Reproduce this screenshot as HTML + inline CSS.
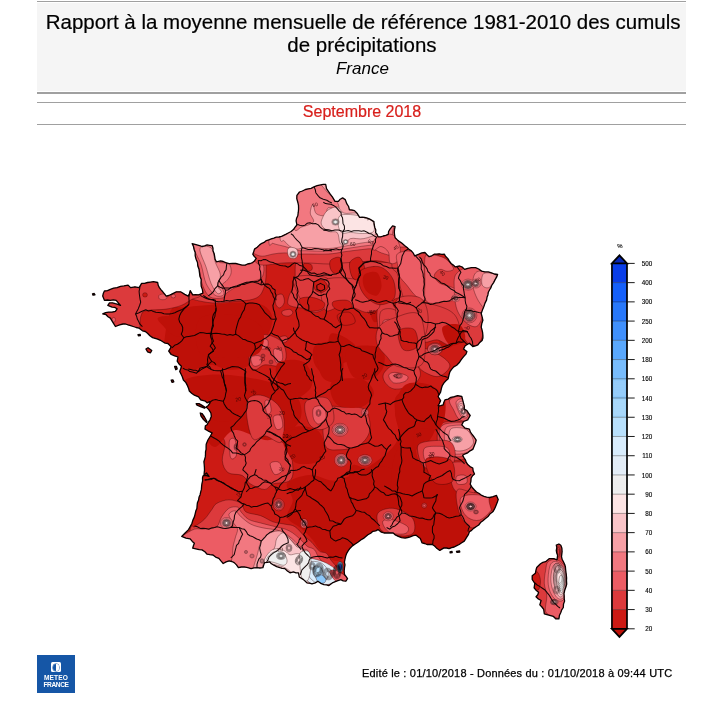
<!DOCTYPE html>
<html lang="fr"><head><meta charset="utf-8"><title>Rapport à la moyenne mensuelle de référence 1981-2010 des cumuls de précipitations</title>
<style>
html,body{margin:0;padding:0;background:#fff;}
body{width:724px;height:709px;position:relative;overflow:hidden;font-family:"Liberation Sans",Arial,sans-serif;color:#000;}
#hdr{position:absolute;left:37px;top:3px;width:648.8px;height:88px;background:#f5f5f5;text-align:center;padding-left:3.4px;box-sizing:border-box;}
#hdr .t{font-size:20.5px;line-height:23px;padding-top:6.5px;-webkit-text-stroke:0.2px #000;}
#hdr .s{font-size:17px;font-style:italic;line-height:20px;margin-top:3.1px;position:relative;left:-0.7px;}
.ln{position:absolute;left:37px;width:649.4px;height:1.2px;background:#a0a0a0;}
#date{position:absolute;left:37px;top:103px;width:650px;height:21px;text-align:center;color:#d8201c;font-size:16px;line-height:19px;}
#date span{position:relative;top:-0.9px;-webkit-text-stroke:0.2px #d8201c;}
#foot{position:absolute;left:362px;top:666px;font-size:11px;line-height:14px;white-space:nowrap;color:#000;letter-spacing:0.18px;-webkit-text-stroke:0.25px #000;}
#logo{position:absolute;left:37px;top:655px;width:38px;height:38px;background:#1556a6;}
#logo .ic{position:absolute;left:14px;top:7px;width:10px;height:10px;background:#fff;border-radius:1.5px;}
#logo .ic i{position:absolute;left:2px;top:1.5px;width:6.4px;height:7px;border-radius:50%;background:linear-gradient(90deg,#1556a6 50%,#fff 50%);box-shadow:0 0 0 0.5px #1556a6;}
#logo .tx{position:absolute;left:0;width:38px;text-align:center;color:#fff;font-weight:bold;font-size:6.6px;line-height:6.6px;letter-spacing:0.2px;}
svg{position:absolute;left:0;top:0;}
.lg text{font-size:6.3px;fill:#000;stroke:#000;stroke-width:0.12px;}
</style></head><body>
<div id="hdr"><div class="t">Rapport à la moyenne mensuelle de référence 1981-2010 des cumuls<br><span style="position:relative;left:-1.2px">de précipitations</span></div><div class="s">France</div></div>
<div class="ln" style="top:0.8px;height:1.2px"></div><div class="ln" style="top:92.1px;height:1.6px"></div><div class="ln" style="top:101.7px"></div><div class="ln" style="top:123.8px"></div>
<div id="date"><span>Septembre 2018</span></div>

<svg width="724" height="709" viewBox="0 0 724 709">
<defs><clipPath id="fr"><path d="M325.7,184.4 L326.5,188.6 L328.2,191.1 L329.9,193.7 L332.5,197.1 L335.0,201.3 L338.4,201.3 L340.2,199.2 L342.6,197.9 L345.2,199.6 L346.9,203.9 L348.6,206.5 L349.4,209.8 L351.8,210.0 L354.5,210.6 L357.0,213.2 L359.6,217.4 L362.2,217.2 L364.6,217.4 L367.3,218.1 L369.7,219.1 L373.9,221.6 L374.2,224.7 L374.8,227.5 L375.8,229.9 L375.6,232.6 L377.1,234.5 L378.2,236.9 L380.7,236.8 L383.2,236.0 L385.8,235.3 L388.3,234.3 L388.6,231.5 L390.0,229.2 L392.6,225.9 L395.1,226.7 L394.5,229.6 L394.3,232.6 L394.6,235.1 L395.1,237.7 L397.4,239.9 L400.0,241.9 L402.0,243.2 L404.5,245.5 L407.1,247.4 L409.0,249.4 L411.3,250.8 L413.3,253.2 L414.7,255.9 L418.9,254.2 L421.8,252.9 L424.9,252.5 L427.0,254.7 L429.1,256.7 L431.8,255.8 L434.2,254.2 L436.7,254.1 L439.2,253.8 L441.9,254.3 L444.3,254.2 L445.7,256.5 L447.7,258.4 L449.4,261.1 L451.1,263.5 L453.3,265.1 L455.3,266.9 L459.6,266.0 L462.4,267.2 L464.6,269.4 L467.8,268.3 L471.4,267.7 L475.6,267.7 L478.7,269.0 L481.6,271.1 L484.8,271.9 L488.3,271.9 L491.5,272.9 L494.3,274.0 L497.6,274.5 L496.6,277.2 L495.1,279.6 L493.6,282.6 L491.7,285.5 L490.8,287.9 L489.5,290.0 L488.3,292.2 L487.9,294.9 L487.0,297.3 L486.6,299.9 L484.9,303.4 L483.8,306.8 L482.4,310.1 L481.2,313.5 L482.1,316.8 L482.9,320.3 L481.8,323.5 L481.2,327.1 L482.0,329.8 L482.6,332.5 L482.9,335.5 L482.9,338.0 L482.1,340.6 L479.8,342.4 L477.9,344.9 L475.4,345.9 L472.8,346.5 L469.4,343.2 L465.2,345.7 L463.5,349.1 L466.9,351.6 L466.0,354.1 L464.3,355.9 L462.6,357.9 L460.9,360.1 L459.1,362.8 L456.7,365.2 L453.8,366.9 L451.6,369.4 L450.0,371.6 L449.1,374.5 L448.2,378.7 L445.9,380.8 L444.0,382.9 L442.4,385.3 L441.5,388.0 L440.6,392.2 L438.1,396.5 L440.6,400.7 L439.5,403.3 L438.1,405.8 L440.7,405.7 L443.2,404.9 L443.8,402.4 L444.9,399.9 L448.2,399.1 L450.8,397.3 L454.3,396.7 L457.6,395.6 L461.8,396.5 L462.6,399.7 L463.5,403.2 L464.3,406.1 L464.3,409.2 L466.9,410.5 L468.5,413.1 L470.2,415.5 L467.7,419.8 L463.5,421.5 L461.8,424.9 L465.2,428.2 L469.4,429.1 L470.4,432.0 L471.9,434.2 L474.1,437.0 L476.2,440.1 L475.5,442.8 L474.5,445.2 L472.8,449.4 L470.1,450.8 L467.7,452.8 L465.2,453.8 L462.6,455.3 L463.9,457.6 L465.2,459.6 L466.2,462.1 L467.7,464.6 L470.0,466.6 L472.8,468.0 L473.2,471.1 L474.5,473.9 L472.5,475.7 L471.1,478.2 L470.9,481.3 L470.2,484.1 L472.0,487.3 L474.5,490.0 L476.5,492.0 L478.8,493.3 L481.2,495.1 L484.0,496.4 L486.7,497.2 L489.7,497.5 L493.1,496.7 L496.5,495.4 L498.2,499.6 L497.0,503.1 L495.6,506.4 L494.5,508.9 L493.1,511.5 L490.2,513.7 L488.0,516.5 L485.5,518.6 L482.9,520.8 L480.5,522.6 L478.7,525.0 L476.0,526.7 L473.6,528.4 L471.6,530.4 L469.4,531.8 L468.4,534.6 L466.9,536.9 L464.3,541.1 L461.7,542.8 L459.2,544.5 L456.8,545.6 L454.2,547.0 L451.6,547.7 L449.1,548.7 L446.6,548.0 L444.0,547.9 L439.8,550.4 L436.4,547.9 L434.6,546.0 L432.2,544.5 L429.7,544.4 L427.1,544.5 L424.6,543.5 L422.0,542.8 L420.3,538.6 L418.3,537.0 L416.1,535.2 L413.2,535.6 L410.2,536.9 L407.8,537.5 L405.1,538.1 L401.5,537.6 L398.3,536.4 L395.4,534.9 L393.2,533.0 L389.9,532.9 L386.5,533.0 L384.0,533.0 L381.4,532.2 L378.0,529.6 L375.7,530.9 L372.9,531.3 L370.7,533.2 L367.9,534.7 L365.8,536.5 L363.5,538.4 L361.1,539.8 L358.2,542.0 L355.2,544.0 L352.4,545.9 L350.1,548.2 L348.3,550.7 L346.7,553.3 L345.7,556.1 L345.0,559.2 L344.4,562.1 L345.0,564.8 L344.5,567.7 L344.2,571.0 L344.5,574.5 L346.2,576.7 L347.5,578.7 L345.9,581.2 L343.2,580.8 L340.8,579.6 L336.5,581.2 L332.3,582.9 L328.9,585.5 L326.5,584.9 L323.9,584.6 L320.7,583.3 L317.9,581.2 L315.3,582.9 L312.0,583.8 L309.4,583.2 L306.9,582.9 L303.5,579.6 L299.3,577.0 L298.5,572.8 L296.0,572.8 L293.4,571.9 L290.0,572.8 L287.4,571.0 L284.9,568.6 L282.2,568.4 L279.9,567.7 L276.7,566.6 L273.9,565.2 L271.4,563.8 L269.7,561.8 L267.3,562.3 L264.6,562.6 L263.7,565.1 L262.9,567.7 L259.9,568.0 L257.0,567.7 L254.0,567.8 L251.1,568.6 L247.8,567.7 L244.3,566.9 L241.3,567.0 L238.4,567.7 L236.5,564.9 L234.2,562.6 L231.9,561.5 L229.1,560.9 L226.1,561.9 L223.2,563.5 L220.9,560.9 L218.9,558.4 L215.6,557.1 L213.0,555.0 L209.9,554.7 L207.1,554.2 L204.9,551.8 L202.0,549.9 L199.3,549.7 L196.9,549.1 L192.7,548.2 L193.4,545.7 L194.4,543.2 L192.3,541.4 L190.2,538.9 L185.9,538.1 L181.7,536.4 L185.1,533.0 L188.5,529.6 L190.1,526.8 L191.8,523.7 L192.9,520.1 L194.4,516.9 L195.1,514.1 L195.8,511.1 L196.9,508.5 L197.1,505.6 L197.4,502.7 L198.6,500.0 L199.0,497.3 L200.1,494.7 L200.7,491.9 L201.4,489.4 L201.6,486.5 L201.9,483.8 L202.6,480.9 L202.5,478.0 L203.0,476.0 L206.5,473.0 L209.0,476.5 L206.5,475.7 L204.0,475.5 L204.2,472.8 L204.5,470.1 L204.4,467.2 L204.2,464.5 L203.9,461.8 L204.6,459.4 L205.3,456.9 L205.5,454.3 L205.5,451.9 L206.1,449.3 L206.1,446.8 L206.2,444.2 L207.9,440.0 L210.5,435.8 L212.1,432.9 L207.9,430.8 L205.0,429.1 L205.4,425.7 L207.1,424.8 L208.3,422.3 L210.0,419.8 L211.3,416.4 L210.9,413.0 L208.8,409.6 L206.2,407.1 L208.3,405.4 L210.0,402.8 L209.6,401.6 L207.1,402.8 L205.4,401.2 L200.7,399.9 L198.6,396.9 L194.4,395.2 L191.6,393.2 L189.3,391.0 L188.6,388.4 L187.6,385.9 L185.9,382.6 L183.4,380.0 L182.2,376.5 L181.0,374.0 L179.7,371.4 L180.7,368.8 L181.4,366.3 L179.0,364.0 L177.2,361.2 L178.0,357.0 L174.6,355.8 L171.2,354.5 L168.7,351.1 L171.2,346.9 L167.9,343.5 L165.1,343.1 L162.8,341.8 L160.4,340.3 L157.7,339.2 L155.1,338.4 L152.6,337.6 L149.9,335.7 L147.5,333.3 L145.3,331.5 L142.5,330.8 L139.1,328.2 L136.2,327.5 L133.2,326.5 L130.6,325.7 L128.1,324.9 L125.5,324.0 L123.0,324.0 L119.6,324.9 L115.4,326.5 L112.9,322.3 L110.3,318.1 L108.0,316.8 L106.1,314.7 L102.7,313.9 L105.6,312.7 L108.6,312.2 L112.1,312.1 L115.4,311.3 L117.1,308.8 L114.7,307.4 L112.0,307.1 L107.8,305.4 L109.5,302.9 L112.5,302.8 L115.4,303.7 L117.9,304.3 L120.5,305.4 L118.3,302.8 L116.2,300.3 L113.4,299.9 L110.3,300.3 L107.4,300.0 L104.4,300.3 L102.7,296.1 L103.3,293.5 L104.4,291.0 L107.5,290.6 L110.3,289.3 L113.6,288.2 L117.1,287.6 L120.5,286.3 L123.9,285.9 L128.1,285.1 L130.6,287.6 L134.9,286.8 L139.1,287.6 L141.6,283.4 L144.5,283.3 L147.5,282.5 L150.4,282.1 L153.5,281.7 L157.7,282.5 L158.2,285.3 L159.4,287.6 L161.1,289.9 L162.8,291.8 L164.5,293.8 L166.2,296.1 L168.8,295.5 L171.2,294.4 L173.8,293.1 L176.3,291.8 L180.6,291.8 L184.8,294.4 L188.2,296.1 L189.5,293.5 L190.2,290.6 L192.7,294.8 L195.6,294.7 L198.6,294.8 L202.9,293.1 L202.4,289.6 L201.2,286.3 L201.0,282.9 L201.2,279.6 L199.9,276.2 L199.5,272.8 L199.0,269.2 L197.8,266.0 L197.5,262.5 L196.1,259.2 L195.2,255.8 L195.2,252.5 L194.1,249.5 L193.5,246.5 L192.2,243.7 L196.9,244.9 L199.5,245.6 L202.0,246.5 L204.6,245.9 L207.1,244.9 L209.6,245.3 L212.2,245.7 L213.0,248.3 L213.0,250.8 L214.2,253.7 L214.7,256.7 L215.1,259.3 L216.4,261.8 L220.6,260.9 L223.2,261.5 L225.7,262.6 L229.1,263.6 L232.5,263.5 L235.8,263.5 L239.2,264.3 L242.1,265.2 L245.2,265.2 L247.5,264.0 L250.2,263.5 L252.6,262.6 L254.5,260.9 L256.2,258.4 L254.2,256.4 L252.8,254.2 L253.7,251.8 L254.5,249.1 L257.2,247.3 L259.6,244.9 L261.8,243.3 L264.1,242.4 L266.3,240.6 L268.8,239.8 L271.3,238.8 L273.9,238.1 L276.3,237.2 L279.0,237.0 L281.6,236.4 L283.7,235.3 L286.2,234.1 L288.3,233.0 L291.1,231.5 L293.4,229.6 L295.1,227.2 L296.9,225.0 L296.1,220.8 L296.6,218.2 L297.8,215.7 L298.3,212.2 L298.6,208.9 L298.5,205.4 L297.8,202.2 L296.8,198.8 L296.9,195.4 L299.5,192.0 L302.4,191.0 L305.4,189.5 L308.3,188.8 L311.1,188.3 L313.9,186.9 L317.1,185.7 L320.6,184.9 L323.3,184.4Z"/><path d="M556.3,545.2 L558.9,544.0 L560.8,545.2 L561.9,548.2 L562.1,551.6 L561.8,554.1 L561.5,556.7 L562.1,559.2 L563.4,561.7 L564.6,564.3 L565.4,566.7 L565.6,569.3 L565.9,571.9 L566.3,574.8 L566.6,578.0 L566.5,580.8 L566.7,584.0 L565.9,587.1 L564.7,590.3 L564.0,593.5 L564.2,596.2 L564.2,598.4 L564.6,601.1 L563.5,604.1 L563.3,607.5 L561.7,609.9 L560.8,612.5 L559.4,615.5 L558.9,618.9 L555.7,618.9 L553.2,616.3 L548.7,615.1 L544.3,613.8 L543.7,609.4 L541.9,607.0 L539.8,604.9 L541.1,600.5 L538.4,599.0 L536.0,596.7 L537.8,594.7 L538.6,592.2 L536.0,590.2 L534.1,587.8 L534.8,583.3 L532.2,579.5 L532.2,575.7 L535.4,573.2 L535.9,570.5 L536.7,567.5 L538.7,565.5 L540.5,563.7 L542.8,562.4 L545.6,561.7 L549.4,558.6 L553.8,558.6 L557.0,559.8 L557.6,555.4 L556.7,552.9 L556.3,550.3 L556.8,547.7Z"/><path d="M196.1,403.7 L199.0,403.6 L202.5,405.6 L205.4,407.5 L204.5,408.2 L200.5,406.6 L197.0,405.2Z"/><path d="M200.3,413.0 L202.0,413.5 L204.5,417.0 L207.0,421.5 L206.6,422.5 L203.5,419.5 L201.0,416.0Z"/><path d="M145.9,349.0 L148.0,347.7 L151.8,350.5 L150.5,352.8 L147.5,351.8Z"/><path d="M174.6,366.5 L176.4,366.3 L177.2,369.0 L175.8,369.7Z"/><path d="M171.2,380.2 L173.0,379.9 L173.8,381.8 L172.0,382.4Z"/><path d="M92.5,293.8 L94.2,293.5 L95.0,294.8 L93.0,295.2Z"/><path d="M138.0,334.6 L140.2,334.4 L140.4,335.6 L138.4,335.8Z"/><path d="M450.0,551.8 L452.0,551.4 L452.2,552.6 L450.2,552.9Z"/><path d="M456.5,551.4 L459.5,550.8 L459.8,552.0 L457.0,552.4Z"/></clipPath>
<filter id="b1" x="-20%" y="-20%" width="140%" height="140%"><feGaussianBlur stdDeviation="0.8"/></filter>
<filter id="b2" x="-20%" y="-20%" width="140%" height="140%"><feGaussianBlur stdDeviation="1.6"/></filter>
<pattern id="dots" width="1.6" height="1.6" patternUnits="userSpaceOnUse"><circle cx="0.8" cy="0.8" r="0.32" fill="#fff" fill-opacity="0.75"/></pattern>
<pattern id="dots2" width="1.6" height="1.6" patternUnits="userSpaceOnUse"><circle cx="0.8" cy="0.8" r="0.3" fill="#c8d0d8" fill-opacity="0.7"/></pattern>
</defs>
<g clip-path="url(#fr)">
<rect x="90" y="175" width="490" height="450" fill="#cc1a14"/>
<path d="M297.8,259.1 C293.4,262.6 296.2,275.9 294.7,282.4 C293.1,288.9 289.2,294.0 288.4,297.9 C287.7,301.8 286.6,304.0 290.0,305.7 C293.4,307.3 302.4,308.5 308.6,307.8 C314.8,307.2 322.1,301.2 327.2,301.6 C332.4,302.1 334.5,309.8 339.6,310.3 C344.8,310.8 352.1,303.7 358.3,304.7 C364.5,305.8 370.7,315.5 376.9,316.5 C383.1,317.6 389.3,310.8 395.5,310.9 C401.7,311.0 408.4,317.0 414.1,317.2 C419.8,317.3 425.5,315.1 429.6,311.9 C433.8,308.7 439.5,302.8 438.9,297.9 C438.4,293.0 430.7,286.5 426.5,282.4 C422.4,278.3 418.8,276.2 414.1,273.1 C409.5,270.0 408.9,265.7 398.6,263.8 C388.3,261.8 365.0,261.7 352.1,261.3 C339.1,260.9 330.1,261.7 321.0,261.3 C312.0,260.9 302.2,255.6 297.8,259.1Z" fill="#dc3a3c" stroke="#2a0303" stroke-width="0.5" stroke-opacity="0.7"/>
<path d="M350.0,470.0 C353.1,457.6 360.9,471.5 368.6,466.9 C376.4,462.2 391.4,451.4 396.5,442.1 C401.7,432.8 397.1,418.3 399.6,411.0 C402.2,403.8 406.4,400.7 412.1,398.6 C417.7,396.5 429.1,396.0 433.8,398.6 C438.4,401.2 440.5,409.5 440.0,414.1 C439.5,418.8 434.3,423.4 430.7,426.5 C427.1,429.6 420.6,428.1 418.3,432.8 C415.9,437.4 415.7,449.3 416.7,454.5 C417.7,459.6 418.5,462.7 424.5,463.8 C430.4,464.8 447.2,457.6 452.4,460.7 C457.6,463.8 454.0,476.2 455.5,482.4 C457.1,488.6 459.6,490.7 461.7,497.9 C463.8,505.2 468.9,517.6 467.9,525.8 C466.9,534.1 461.7,543.7 455.5,547.6 C449.3,551.4 437.9,551.2 430.7,549.1 C423.4,547.0 418.3,540.1 412.1,535.1 C405.9,530.2 399.1,522.7 393.4,519.6 C387.8,516.5 382.1,515.0 377.9,516.5 C373.8,518.1 373.3,524.8 368.6,528.9 C364.0,533.1 353.1,551.2 350.0,541.4 C346.9,531.5 346.9,482.4 350.0,470.0Z" fill="#be1008"/>
<path d="M170.0,312.4 C173.3,303.6 178.3,308.6 185.0,307.4 C191.6,306.1 201.2,305.7 210.0,304.9 C218.7,304.1 228.7,302.4 237.4,302.4 C246.2,302.4 256.6,302.4 262.4,304.9 C268.2,307.4 271.5,312.4 272.4,317.4 C273.2,322.4 270.7,329.9 267.4,334.8 C264.0,339.8 255.3,342.3 252.4,347.3 C249.5,352.3 253.6,361.1 249.9,364.8 C246.2,368.5 236.6,369.8 229.9,369.8 C223.3,369.8 216.6,364.8 210.0,364.8 C203.3,364.8 197.5,370.6 190.0,369.8 C182.5,369.0 168.4,369.4 165.0,359.8 C161.7,350.2 166.7,321.1 170.0,312.4Z" fill="#be1008"/>
<path d="M187.5,240.0 C195.0,233.7 209.5,239.2 217.4,242.5 C225.3,245.8 227.4,257.5 234.9,260.0 C242.4,262.5 257.2,255.4 262.4,257.5 C267.6,259.5 265.9,267.2 266.1,272.4 C266.3,277.6 265.5,284.3 263.6,288.7 C261.8,293.0 260.5,296.4 254.9,298.6 C249.3,300.9 237.0,301.2 229.9,301.9 C222.9,302.6 218.3,303.2 212.5,302.9 C206.6,302.6 199.6,301.1 195.0,299.9 C190.4,298.6 188.7,295.8 185.0,295.4 C181.2,295.0 174.6,300.0 172.5,297.4 C170.4,294.8 170.0,289.5 172.5,279.9 C175.0,270.4 180.0,246.2 187.5,240.0Z" fill="#dc3a3c" stroke="#2a0303" stroke-width="0.5" stroke-opacity="0.7"/>
<path d="M190.0,241.2 C192.7,237.2 208.1,239.7 214.9,243.0 C221.8,246.3 223.7,258.5 231.2,261.2 C238.7,263.9 254.8,256.8 259.9,259.5 C265.0,262.2 264.8,273.4 261.9,277.4 C259.0,281.5 248.1,281.2 242.4,283.7 C236.7,286.2 230.8,290.0 227.4,292.4 C224.1,294.8 225.3,297.1 222.4,297.9 C219.5,298.6 213.3,299.1 210.0,296.9 C206.6,294.7 204.3,289.8 202.5,284.9 C200.6,280.0 200.8,274.7 198.7,267.4 C196.6,260.2 187.3,245.3 190.0,241.2Z" fill="#ec5c64" stroke="#2a0303" stroke-width="0.5" stroke-opacity="0.7"/>
<path d="M193.7,244.5 C195.6,241.1 208.4,242.2 212.5,245.0 C216.5,247.8 215.2,258.1 217.9,261.2 C220.6,264.3 226.5,261.8 228.7,263.7 C230.9,265.6 231.4,269.7 231.2,272.4 C231.0,275.1 229.0,277.8 227.4,279.9 C225.9,282.1 222.5,283.0 221.9,285.4 C221.4,287.8 225.0,292.7 223.9,294.4 C222.9,296.1 218.4,297.2 215.4,295.4 C212.5,293.6 208.6,288.7 206.2,283.7 C203.8,278.6 203.3,271.5 201.2,264.9 C199.1,258.4 191.9,247.8 193.7,244.5Z" fill="#f27880" stroke="#2a0303" stroke-width="0.5" stroke-opacity="0.7"/>
<path d="M200.0,248.7 C200.8,245.5 208.6,245.7 211.2,248.0 C213.8,250.3 213.9,258.0 215.4,262.5 C217.0,266.9 220.0,271.0 220.4,274.9 C220.9,278.9 217.8,283.4 217.9,286.2 C218.1,288.9 221.5,290.2 221.4,291.4 C221.4,292.6 219.1,294.7 217.4,293.4 C215.7,292.1 213.1,288.0 211.2,283.7 C209.3,279.3 208.1,273.3 206.2,267.4 C204.3,261.6 199.1,252.0 200.0,248.7Z" fill="#f7a0a6" stroke="#2a0303" stroke-width="0.5" stroke-opacity="0.7"/>
<path d="M254.9,337.3 C257.6,335.3 262.8,334.0 267.4,334.8 C271.9,335.7 279.2,338.6 282.3,342.3 C285.5,346.1 286.5,353.4 286.1,357.3 C285.7,361.3 283.4,364.8 279.9,366.0 C276.3,367.3 269.0,364.2 264.9,364.8 C260.7,365.4 257.6,370.2 254.9,369.8 C252.2,369.4 249.3,366.0 248.6,362.3 C248.0,358.6 250.1,351.5 251.1,347.3 C252.2,343.2 252.2,339.4 254.9,337.3Z" fill="#dc3a3c" stroke="#2a0303" stroke-width="0.5" stroke-opacity="0.7"/>
<path d="M259.4,339.8 C260.4,338.4 266.0,338.6 267.4,339.8 C268.7,341.1 268.4,345.9 267.4,347.3 C266.3,348.8 262.5,349.8 261.1,348.6 C259.8,347.3 258.3,341.3 259.4,339.8Z" fill="#ec5c64" stroke="#2a0303" stroke-width="0.5" stroke-opacity="0.7"/>
<path d="M251.1,357.3 C252.2,355.6 258.2,355.0 259.9,356.1 C261.5,357.1 262.2,361.9 261.1,363.5 C260.1,365.2 255.3,367.1 253.6,366.0 C252.0,365.0 250.1,359.0 251.1,357.3Z" fill="#ec5c64" stroke="#2a0303" stroke-width="0.5" stroke-opacity="0.7"/>
<path d="M273.6,349.8 C274.4,347.7 279.6,348.2 281.1,349.8 C282.6,351.5 283.2,357.7 282.3,359.8 C281.5,361.9 277.6,364.0 276.1,362.3 C274.6,360.6 272.8,351.9 273.6,349.8Z" fill="#ec5c64" stroke="#2a0303" stroke-width="0.5" stroke-opacity="0.7"/>
<path d="M276.1,296.2 C277.2,294.5 281.0,293.4 282.3,294.4 C283.7,295.4 284.8,300.1 284.3,302.4 C283.9,304.6 281.3,307.6 279.9,307.9 C278.4,308.2 276.5,306.3 275.9,304.4 C275.2,302.4 275.0,297.8 276.1,296.2Z" fill="#dc3a3c" stroke="#2a0303" stroke-width="0.5" stroke-opacity="0.7"/>
<path d="M282.3,311.1 C283.5,310.2 288.1,309.1 289.8,309.4 C291.6,309.7 293.0,311.8 292.8,312.9 C292.6,314.0 290.3,315.8 288.6,316.1 C286.9,316.5 283.9,315.7 282.8,314.9 C281.8,314.0 281.2,312.0 282.3,311.1Z" fill="#dc3a3c" stroke="#2a0303" stroke-width="0.5" stroke-opacity="0.7"/>
<path d="M279.9,337.3 C280.4,336.2 284.8,335.6 286.1,336.1 C287.4,336.6 288.4,339.2 287.8,340.3 C287.3,341.5 284.2,343.3 282.8,342.8 C281.5,342.3 279.3,338.5 279.9,337.3Z" fill="#dc3a3c" stroke="#2a0303" stroke-width="0.5" stroke-opacity="0.7"/>
<path d="M294.8,277.4 C298.6,274.7 314.0,275.3 319.8,276.2 C325.6,277.0 328.5,277.6 329.8,282.4 C331.0,287.2 329.8,299.9 327.3,304.9 C324.8,309.9 318.5,312.4 314.8,312.4 C311.1,312.4 307.7,308.2 304.8,304.9 C301.9,301.6 299.0,297.0 297.3,292.4 C295.7,287.8 291.1,280.1 294.8,277.4Z" fill="#dc3a3c" stroke="#2a0303" stroke-width="0.5" stroke-opacity="0.7"/>
<path d="M303.6,263.7 C304.6,262.7 309.7,263.4 311.1,264.4 C312.4,265.5 312.8,268.9 311.8,269.9 C310.8,271.0 306.2,271.7 304.8,270.7 C303.4,269.6 302.5,264.7 303.6,263.7Z" fill="#cc1a14" stroke="#2a0303" stroke-width="0.5" stroke-opacity="0.7"/>
<path d="M332.3,258.7 C333.3,256.8 338.3,257.6 339.8,259.5 C341.2,261.3 342.0,268.0 341.0,269.9 C340.0,271.9 335.0,273.1 333.5,271.2 C332.1,269.3 331.2,260.7 332.3,258.7Z" fill="#cc1a14" stroke="#2a0303" stroke-width="0.5" stroke-opacity="0.7"/>
<path d="M349.7,257.5 C351.0,254.1 358.1,253.7 359.7,257.5 C361.4,261.2 361.0,276.6 359.7,279.9 C358.5,283.3 353.9,281.2 352.2,277.4 C350.6,273.7 348.5,260.8 349.7,257.5Z" fill="#be1008"/>
<path d="M244.4,252.9 C245.9,267.0 250.3,258.0 253.3,260.0 C256.2,262.0 256.9,264.6 262.1,265.1 C267.3,265.6 276.8,263.2 284.2,262.9 C291.6,262.5 298.9,262.7 306.3,262.9 C313.7,263.1 322.1,264.0 328.4,264.0 C334.7,264.0 338.3,263.2 343.9,262.9 C349.4,262.5 356.0,262.1 361.5,261.8 C367.1,261.4 371.5,260.3 377.0,260.7 C382.5,261.0 389.5,263.4 394.7,264.0 C399.9,264.5 405.7,278.7 408.0,264.0 C410.2,249.2 435.2,190.3 408.0,175.6 C380.7,160.8 271.7,162.7 244.4,175.6 C217.2,188.5 242.9,238.9 244.4,252.9Z" fill="#dc3a3c" stroke="#2a0303" stroke-width="0.5" stroke-opacity="0.7"/>
<path d="M248.8,246.3 C249.6,259.2 251.0,251.3 253.3,252.9 C255.5,254.6 258.8,256.1 262.1,256.2 C265.4,256.4 269.5,254.6 273.1,254.0 C276.8,253.5 280.1,252.9 284.2,252.9 C288.3,252.9 293.8,253.8 297.5,254.0 C301.1,254.2 301.1,254.0 306.3,254.0 C311.5,254.0 322.1,254.4 328.4,254.0 C334.7,253.7 338.3,252.6 343.9,251.8 C349.4,251.1 356.8,250.1 361.5,249.6 C366.3,249.1 369.3,248.4 372.6,249.0 C375.9,249.5 377.8,251.7 381.4,252.9 C385.1,254.1 390.3,255.9 394.7,256.2 C399.1,256.6 405.7,268.6 408.0,255.1 C410.2,241.7 434.5,188.8 408.0,175.6 C381.4,162.3 275.4,163.8 248.8,175.6 C222.3,187.4 248.1,233.4 248.8,246.3Z" fill="#ec5c64" stroke="#2a0303" stroke-width="0.5" stroke-opacity="0.7"/>
<path d="M268.7,239.7 C269.5,251.0 270.6,242.3 273.1,243.4 C275.7,244.5 280.1,245.2 284.2,246.3 C288.3,247.4 293.8,249.5 297.5,250.3 C301.1,251.0 301.1,250.6 306.3,250.7 C311.5,250.9 322.1,251.5 328.4,251.2 C334.7,250.9 338.3,249.8 343.9,249.0 C349.4,248.1 356.0,247.1 361.5,246.3 C367.1,245.5 373.0,245.2 377.0,244.1 C381.1,243.0 383.3,241.5 385.9,239.7 C388.4,237.8 391.4,243.7 392.5,233.0 C393.6,222.4 413.1,185.2 392.5,175.6 C371.9,166.0 289.4,164.9 268.7,175.6 C248.1,186.3 268.0,228.4 268.7,239.7Z" fill="#f27880" stroke="#2a0303" stroke-width="0.5" stroke-opacity="0.7"/>
<path d="M279.8,235.2 C280.5,246.1 282.5,238.9 284.2,240.8 C285.9,242.6 287.5,244.9 289.7,246.3 C291.9,247.7 294.7,248.8 297.5,249.0 C300.2,249.1 301.1,247.5 306.3,247.4 C311.5,247.3 322.1,248.7 328.4,248.5 C334.7,248.3 338.3,247.2 343.9,246.3 C349.4,245.4 356.0,243.9 361.5,243.0 C367.1,242.1 373.3,241.9 377.0,240.8 C380.7,239.7 382.5,247.2 383.6,236.4 C384.8,225.5 401.0,185.7 383.6,175.6 C366.3,165.5 297.1,165.6 279.8,175.6 C262.5,185.5 279.0,224.4 279.8,235.2Z" fill="#f7a0a6" stroke="#2a0303" stroke-width="0.5" stroke-opacity="0.7"/>
<path d="M296.4,184.4 C300.0,176.9 310.9,180.7 316.2,182.2 C321.6,183.7 324.9,189.9 328.4,193.3 C331.9,196.6 335.6,199.3 337.2,202.1 C338.9,204.9 339.8,208.9 338.3,209.8 C336.9,210.8 330.6,206.7 328.4,207.6 C326.2,208.5 327.1,214.4 325.1,215.4 C323.1,216.4 318.3,215.4 316.2,213.6 C314.2,211.7 313.9,204.4 312.9,204.3 C311.9,204.2 310.2,210.2 310.3,213.1 C310.3,216.1 314.8,219.7 313.4,222.0 C312.0,224.3 305.1,225.9 301.9,226.9 C298.7,227.8 295.1,234.6 294.1,227.5 C293.2,220.4 292.7,192.0 296.4,184.4Z" fill="#f27880" stroke="#2a0303" stroke-width="0.5" stroke-opacity="0.7"/>
<path d="M328.4,209.8 C330.7,208.4 334.7,206.4 337.2,207.0 C339.8,207.5 340.6,212.1 343.9,213.1 C347.2,214.2 352.3,212.4 357.1,213.1 C361.9,213.9 369.1,214.4 372.6,217.6 C376.1,220.7 379.6,228.4 378.1,231.9 C376.6,235.4 368.4,237.5 363.8,238.6 C359.2,239.7 353.8,237.5 350.5,238.6 C347.2,239.6 345.6,244.2 343.9,245.0 C342.1,245.7 341.0,245.0 339.9,243.0 C338.8,240.9 339.2,234.5 337.2,232.6 C335.3,230.6 331.0,232.7 328.4,231.3 C325.7,229.9 322.1,226.8 321.3,224.2 C320.5,221.6 322.4,218.2 323.5,215.8 C324.7,213.4 326.1,211.3 328.4,209.8Z" fill="#f9c4c8" stroke="#2a0303" stroke-width="0.5" stroke-opacity="0.7"/>
<path d="M340.6,215.4 C343.7,213.7 352.0,214.6 357.1,215.4 C362.3,216.1 368.7,217.1 371.5,219.8 C374.3,222.4 375.2,229.0 373.7,231.3 C372.2,233.6 366.5,233.3 362.7,233.5 C358.8,233.7 353.9,232.4 350.5,232.4 C347.1,232.3 344.1,234.2 342.1,233.0 C340.1,231.9 338.6,228.3 338.3,225.3 C338.1,222.4 337.4,217.0 340.6,215.4Z" fill="#fce4e4" stroke="#2a0303" stroke-width="0.5" stroke-opacity="0.7"/>
<path d="M287.5,250.3 C287.7,248.7 288.9,247.6 290.4,247.4 C291.9,247.2 295.1,247.8 296.4,249.0 C297.6,250.1 298.2,252.4 297.9,254.0 C297.6,255.6 296.3,258.0 294.8,258.5 C293.3,258.9 290.3,258.3 289.1,256.9 C287.8,255.5 287.3,251.9 287.5,250.3Z" fill="#f9c4c8" stroke="#2a0303" stroke-width="0.5" stroke-opacity="0.7"/>
<path d="M395.7,248.3 C401.2,245.6 414.9,247.4 425.0,250.2 C435.1,252.9 448.2,262.1 456.2,264.8 C464.1,267.6 465.0,265.4 472.7,266.7 C480.3,267.9 498.3,266.1 502.0,272.2 C505.7,278.3 497.1,295.1 494.7,303.3 C492.2,311.6 489.8,315.3 487.3,321.7 C484.9,328.1 482.5,337.6 480.0,341.8 C477.6,346.1 475.1,347.7 472.7,347.3 C470.2,347.0 467.2,342.6 465.3,340.0 C463.5,337.4 464.1,334.8 461.7,331.8 C459.2,328.7 454.3,323.4 450.7,321.7 C447.0,320.0 443.3,323.5 439.7,321.7 C436.0,319.8 432.3,313.7 428.7,310.7 C425.0,307.6 421.3,304.6 417.7,303.3 C414.0,302.1 409.4,305.5 406.7,303.3 C403.9,301.2 402.7,295.4 401.2,290.5 C399.6,285.6 399.0,278.0 397.5,274.0 C396.0,270.0 392.3,270.9 392.0,266.7 C391.7,262.4 390.2,251.1 395.7,248.3Z" fill="#dc3a3c" stroke="#2a0303" stroke-width="0.5" stroke-opacity="0.7"/>
<path d="M373.7,241.0 C374.9,238.4 377.6,235.5 381.0,234.6 C384.4,233.7 390.6,233.2 393.8,235.5 C397.0,237.8 399.6,244.1 400.3,248.3 C400.9,252.6 399.2,258.7 397.5,261.2 C395.8,263.6 391.7,264.5 390.2,263.0 C388.6,261.5 389.9,254.8 388.3,252.0 C386.8,249.3 383.4,246.8 381.0,246.5 C378.6,246.2 374.9,251.1 373.7,250.2 C372.4,249.3 372.4,243.6 373.7,241.0Z" fill="#ec5c64" stroke="#2a0303" stroke-width="0.5" stroke-opacity="0.7"/>
<path d="M397.5,253.8 C399.9,251.6 407.9,250.1 412.2,251.6 C416.4,253.2 421.2,257.7 423.2,263.0 C425.2,268.3 423.8,277.1 424.1,283.2 C424.4,289.3 426.4,297.5 425.0,299.7 C423.6,301.8 418.9,298.5 415.8,296.0 C412.8,293.6 409.4,288.4 406.7,285.0 C403.9,281.6 400.9,279.2 399.3,275.8 C397.8,272.5 397.8,268.5 397.5,264.8 C397.2,261.2 395.1,256.0 397.5,253.8Z" fill="#ec5c64" stroke="#2a0303" stroke-width="0.5" stroke-opacity="0.7"/>
<path d="M425.0,257.5 C425.9,253.1 427.5,254.8 430.5,254.8 C433.6,254.8 440.0,256.0 443.3,257.5 C446.7,259.0 449.0,261.9 450.7,263.9 C452.4,265.9 454.0,268.2 453.4,269.4 C452.8,270.6 449.3,271.3 447.0,271.3 C444.7,271.3 441.8,268.7 439.7,269.4 C437.5,270.2 434.2,273.5 434.2,275.8 C434.2,278.1 436.9,281.3 439.7,283.2 C442.4,285.0 447.9,285.6 450.7,286.8 C453.4,288.1 455.6,288.4 456.2,290.5 C456.8,292.6 456.5,297.8 454.3,299.7 C452.2,301.5 447.3,300.9 443.3,301.5 C439.4,302.1 433.6,304.0 430.5,303.3 C427.5,302.7 425.9,301.5 425.0,297.8 C424.1,294.2 425.0,288.1 425.0,281.3 C425.0,274.6 424.1,261.9 425.0,257.5Z" fill="#ec5c64" stroke="#2a0303" stroke-width="0.5" stroke-opacity="0.7"/>
<path d="M456.2,274.0 C459.2,270.0 465.6,266.7 472.7,266.7 C479.7,266.7 495.6,270.0 498.3,274.0 C501.1,278.0 491.5,284.4 489.2,290.5 C486.9,296.6 486.4,304.9 484.6,310.7 C482.8,316.5 480.6,322.9 478.2,325.3 C475.7,327.8 472.7,326.6 469.9,325.3 C467.2,324.1 464.0,321.1 461.7,318.0 C459.4,315.0 457.4,311.6 456.2,307.0 C455.0,302.4 454.3,296.0 454.3,290.5 C454.3,285.0 453.1,278.0 456.2,274.0Z" fill="#ec5c64" stroke="#2a0303" stroke-width="0.5" stroke-opacity="0.7"/>
<path d="M478.2,271.3 C482.5,270.0 496.4,270.8 498.3,274.0 C500.3,277.2 492.2,284.9 490.1,290.5 C488.0,296.2 487.6,305.8 485.9,307.9 C484.2,310.1 481.9,305.9 480.0,303.3 C478.1,300.7 475.7,296.0 474.5,292.3 C473.3,288.7 472.1,284.9 472.7,281.3 C473.3,277.8 473.9,272.5 478.2,271.3Z" fill="#f27880" stroke="#2a0303" stroke-width="0.5" stroke-opacity="0.7"/>
<path d="M483.7,273.6 C486.0,272.0 495.2,273.2 496.1,275.5 C497.1,277.7 491.9,285.6 489.5,287.2 C487.2,288.8 483.2,287.3 482.2,285.0 C481.2,282.7 481.4,275.2 483.7,273.6Z" fill="#f7a0a6" stroke="#2a0303" stroke-width="0.5" stroke-opacity="0.7"/>
<path d="M372.8,266.7 C375.3,265.1 384.7,271.9 388.3,275.8 C392.0,279.8 395.4,287.6 394.8,290.5 C394.1,293.4 388.3,294.2 384.7,293.3 C381.0,292.3 374.7,289.4 372.8,285.0 C370.8,280.6 370.2,268.2 372.8,266.7Z" fill="#be1008"/>
<path d="M439.7,329.0 C441.8,326.0 449.5,324.1 452.5,325.3 C455.6,326.6 458.3,332.7 458.0,336.3 C457.7,340.0 453.7,346.1 450.7,347.3 C447.6,348.6 441.5,346.7 439.7,343.7 C437.8,340.6 437.5,332.1 439.7,329.0Z" fill="#be1008"/>
<path d="M370.0,307.0 C371.2,304.9 378.9,307.0 381.0,308.8 C383.1,310.7 384.1,315.9 382.8,318.0 C381.6,320.1 375.8,323.5 373.7,321.7 C371.5,319.8 368.8,309.1 370.0,307.0Z" fill="#be1008"/>
<path d="M379.9,305.0 C384.1,301.2 393.2,300.0 402.4,300.0 C411.5,300.0 426.1,302.5 434.8,305.0 C443.6,307.5 450.7,310.0 454.8,315.0 C459.0,320.0 460.6,329.9 459.8,334.9 C459.0,339.9 453.6,344.1 449.8,344.9 C446.1,345.7 441.5,340.3 437.3,339.9 C433.2,339.5 429.0,342.4 424.9,342.4 C420.7,342.4 416.1,341.2 412.4,339.9 C408.6,338.7 407.4,335.3 402.4,334.9 C397.4,334.5 386.6,339.5 382.4,337.4 C378.3,335.3 377.8,327.9 377.4,322.5 C377.0,317.0 375.8,308.7 379.9,305.0Z" fill="#dc3a3c" stroke="#2a0303" stroke-width="0.5" stroke-opacity="0.7"/>
<path d="M325.0,280.0 C332.1,275.4 358.3,278.4 367.4,282.5 C376.6,286.7 379.9,300.0 379.9,305.0 C379.9,310.0 373.3,312.5 367.4,312.5 C361.6,312.5 352.1,305.4 345.0,305.0 C337.9,304.6 328.3,314.1 325.0,310.0 C321.7,305.8 317.9,284.6 325.0,280.0Z" fill="#dc3a3c" stroke="#2a0303" stroke-width="0.5" stroke-opacity="0.7"/>
<path d="M337.5,315.0 C338.7,312.9 347.1,311.2 350.0,312.5 C352.9,313.7 356.2,320.4 355.0,322.5 C353.7,324.5 345.4,326.2 342.5,324.9 C339.6,323.7 336.2,317.0 337.5,315.0Z" fill="#cc1a14" stroke="#2a0303" stroke-width="0.5" stroke-opacity="0.7"/>
<path d="M399.9,305.0 C401.1,303.1 409.9,302.5 412.4,303.7 C414.9,305.0 416.1,310.6 414.9,312.5 C413.6,314.3 407.4,316.2 404.9,315.0 C402.4,313.7 398.6,306.8 399.9,305.0Z" fill="#cc1a14" stroke="#2a0303" stroke-width="0.5" stroke-opacity="0.7"/>
<path d="M383.7,320.0 C384.5,318.4 389.5,317.1 391.2,318.0 C392.8,318.8 394.5,323.4 393.7,324.9 C392.8,326.5 387.8,328.3 386.2,327.4 C384.5,326.6 382.8,321.5 383.7,320.0Z" fill="#ec5c64" stroke="#2a0303" stroke-width="0.5" stroke-opacity="0.7"/>
<path d="M414.9,347.4 C417.8,345.3 429.0,349.5 434.8,352.4 C440.7,355.3 449.0,360.9 449.8,364.9 C450.7,368.8 443.6,374.7 439.8,376.1 C436.1,377.6 431.1,375.5 427.4,373.6 C423.6,371.8 419.4,369.3 417.4,364.9 C415.3,360.5 412.0,349.5 414.9,347.4Z" fill="#dc3a3c" stroke="#2a0303" stroke-width="0.5" stroke-opacity="0.7"/>
<path d="M383.7,373.6 C385.3,370.5 389.7,365.9 394.9,364.4 C400.1,362.8 410.6,362.6 414.9,364.4 C419.1,366.1 420.8,371.4 420.4,374.9 C419.9,378.4 416.6,383.0 412.4,385.4 C408.1,387.7 399.4,389.5 394.9,389.1 C390.4,388.7 387.3,385.4 385.4,382.9 C383.5,380.3 382.1,376.7 383.7,373.6Z" fill="#dc3a3c" stroke="#2a0303" stroke-width="0.5" stroke-opacity="0.7"/>
<path d="M388.7,375.4 C388.9,373.6 391.8,372.3 394.9,372.4 C398.0,372.5 405.7,374.6 407.4,376.1 C409.0,377.6 407.2,380.2 404.9,381.4 C402.6,382.5 396.4,383.9 393.7,382.9 C391.0,381.9 388.5,377.1 388.7,375.4Z" fill="#ec5c64" stroke="#2a0303" stroke-width="0.5" stroke-opacity="0.7"/>
<path d="M351.2,353.7 C352.9,350.7 363.7,350.5 367.4,352.4 C371.2,354.3 373.3,361.4 373.7,364.9 C374.1,368.4 372.6,372.8 369.9,373.6 C367.2,374.5 360.6,373.2 357.5,369.9 C354.3,366.6 349.6,356.6 351.2,353.7Z" fill="#dc3a3c" stroke="#2a0303" stroke-width="0.5" stroke-opacity="0.7"/>
<path d="M333.7,384.9 C336.7,380.9 350.0,379.4 355.0,381.1 C360.0,382.8 363.7,390.5 363.7,394.8 C363.7,399.2 359.3,405.7 355.0,407.3 C350.6,409.0 341.0,408.6 337.5,404.8 C334.0,401.1 330.8,388.8 333.7,384.9Z" fill="#be1008"/>
<path d="M397.4,394.8 C401.1,391.5 411.1,389.0 417.4,389.9 C423.6,390.7 431.5,394.8 434.8,399.8 C438.2,404.8 438.2,413.1 437.3,419.8 C436.5,426.5 434.0,434.8 429.9,439.8 C425.7,444.8 417.4,451.4 412.4,449.8 C407.4,448.1 402.8,436.4 399.9,429.8 C397.0,423.1 395.3,415.6 394.9,409.8 C394.5,404.0 393.7,398.2 397.4,394.8Z" fill="#be1008"/>
<path d="M330.0,334.9 C332.5,331.2 340.4,334.9 345.0,337.4 C349.6,339.9 357.5,345.7 357.5,349.9 C357.5,354.1 349.6,360.7 345.0,362.4 C340.4,364.1 332.5,364.5 330.0,359.9 C327.5,355.3 327.5,338.7 330.0,334.9Z" fill="#be1008"/>
<path d="M442.3,327.4 C444.0,324.1 456.1,322.9 459.8,324.9 C463.5,327.0 466.5,336.6 464.8,339.9 C463.1,343.3 453.6,347.0 449.8,344.9 C446.1,342.8 440.7,330.8 442.3,327.4Z" fill="#be1008"/>
<path d="M439.8,399.8 C441.1,397.1 443.2,396.7 447.3,396.1 C451.5,395.5 460.8,392.1 464.8,396.1 C468.8,400.0 471.9,415.4 471.0,419.8 C470.2,424.2 463.8,422.3 459.8,422.3 C455.9,422.3 450.7,421.5 447.3,419.8 C444.0,418.1 441.1,415.6 439.8,412.3 C438.6,409.0 438.6,402.5 439.8,399.8Z" fill="#dc3a3c" stroke="#2a0303" stroke-width="0.5" stroke-opacity="0.7"/>
<path d="M449.8,399.8 C451.5,397.8 460.2,394.2 463.5,397.3 C466.9,400.5 470.4,414.8 469.8,418.6 C469.2,422.3 462.5,421.3 459.8,419.8 C457.1,418.3 455.2,413.1 453.6,409.8 C451.9,406.5 448.2,401.9 449.8,399.8Z" fill="#ec5c64" stroke="#2a0303" stroke-width="0.5" stroke-opacity="0.7"/>
<path d="M456.1,402.3 C456.5,399.6 461.6,397.5 463.5,399.8 C465.5,402.1 468.2,413.4 467.8,416.1 C467.4,418.8 463.0,418.3 461.1,416.1 C459.1,413.8 455.6,405.0 456.1,402.3Z" fill="#f27880" stroke="#2a0303" stroke-width="0.5" stroke-opacity="0.7"/>
<path d="M437.8,431.0 C439.0,426.4 439.9,422.8 446.1,421.8 C452.2,420.8 469.2,421.0 474.8,424.8 C480.4,428.6 480.6,439.4 479.8,444.8 C478.9,450.2 475.2,454.7 469.8,457.2 C464.4,459.8 452.5,461.5 447.3,460.2 C442.2,459.0 440.4,454.6 438.8,449.8 C437.3,444.9 436.6,435.7 437.8,431.0Z" fill="#dc3a3c" stroke="#2a0303" stroke-width="0.5" stroke-opacity="0.7"/>
<path d="M439.8,429.8 C440.9,426.3 442.3,424.4 447.3,423.5 C452.3,422.7 464.7,421.5 469.8,424.8 C474.9,428.1 478.0,438.5 477.8,443.5 C477.6,448.5 473.2,452.7 468.5,454.8 C463.9,456.8 454.4,457.7 449.8,456.0 C445.2,454.3 442.7,449.1 441.1,444.8 C439.4,440.4 438.8,433.3 439.8,429.8Z" fill="#ec5c64" stroke="#2a0303" stroke-width="0.5" stroke-opacity="0.7"/>
<path d="M444.8,431.0 C445.6,428.1 445.9,426.8 449.8,426.0 C453.8,425.3 464.2,424.0 468.5,426.8 C472.9,429.6 476.2,438.5 476.0,442.8 C475.8,447.0 471.2,450.5 467.3,452.3 C463.3,454.0 456.0,455.0 452.3,453.5 C448.7,452.0 446.6,447.3 445.3,443.5 C444.1,439.8 444.1,434.0 444.8,431.0Z" fill="#f27880" stroke="#2a0303" stroke-width="0.5" stroke-opacity="0.7"/>
<path d="M449.3,432.3 C449.9,429.9 450.7,428.2 453.6,427.8 C456.5,427.4 463.5,427.4 466.8,429.8 C470.1,432.2 473.7,438.9 473.5,442.3 C473.4,445.6 469.2,448.4 466.0,449.8 C462.8,451.1 457.0,451.5 454.3,450.3 C451.6,449.0 450.7,445.3 449.8,442.3 C449.0,439.3 448.7,434.7 449.3,432.3Z" fill="#f7a0a6" stroke="#2a0303" stroke-width="0.5" stroke-opacity="0.7"/>
<path d="M325.0,409.8 C328.3,403.6 338.3,407.3 345.0,407.3 C351.6,407.3 360.8,406.1 364.9,409.8 C369.1,413.6 370.8,424.0 369.9,429.8 C369.1,435.6 364.9,441.4 360.0,444.8 C355.0,448.1 345.8,449.8 340.0,449.8 C334.2,449.8 327.5,451.4 325.0,444.8 C322.5,438.1 321.7,416.1 325.0,409.8Z" fill="#dc3a3c" stroke="#2a0303" stroke-width="0.5" stroke-opacity="0.7"/>
<path d="M287.2,483.3 C290.0,479.1 302.2,475.4 309.8,474.9 C317.3,474.4 324.8,480.5 332.3,480.5 C339.8,480.5 344.6,476.3 354.9,474.9 C365.2,473.5 387.8,459.4 394.4,472.1 C401.0,484.8 400.0,538.8 394.4,551.0 C388.7,563.3 369.9,543.8 360.5,545.4 C351.1,547.0 344.6,560.0 338.0,560.9 C331.4,561.9 325.3,554.6 321.0,551.0 C316.8,547.5 315.9,543.5 312.6,539.8 C309.3,536.0 305.5,532.2 301.3,528.5 C297.1,524.7 288.6,521.9 287.2,517.2 C285.8,512.5 292.8,505.9 292.8,500.3 C292.8,494.6 284.4,487.6 287.2,483.3Z" fill="#be1008"/>
<path d="M222.3,429.7 C225.6,426.2 237.8,422.2 244.9,422.7 C251.9,423.2 257.6,428.6 264.6,432.6 C271.7,436.6 282.5,441.0 287.2,446.7 C291.9,452.3 292.4,460.8 292.8,466.4 C293.3,472.1 293.3,477.6 290.0,480.5 C286.7,483.4 277.3,482.4 273.1,483.9 C268.9,485.4 268.4,489.5 264.6,489.5 C260.9,489.5 254.3,486.3 250.5,483.9 C246.8,481.6 245.8,477.3 242.1,475.4 C238.3,473.6 231.2,475.1 228.0,472.6 C224.7,470.2 222.8,465.6 222.3,460.8 C221.8,456.0 225.1,449.0 225.1,443.9 C225.1,438.7 219.0,433.3 222.3,429.7Z" fill="#dc3a3c" stroke="#2a0303" stroke-width="0.5" stroke-opacity="0.7"/>
<path d="M229.4,441.0 C230.1,438.0 233.8,437.3 235.0,439.6 C236.2,442.0 237.1,452.1 236.4,455.1 C235.7,458.2 232.0,460.3 230.8,458.0 C229.6,455.6 228.7,444.1 229.4,441.0Z" fill="#ec5c64" stroke="#2a0303" stroke-width="0.5" stroke-opacity="0.7"/>
<path d="M270.3,463.6 C271.0,461.6 276.8,461.0 278.7,462.2 C280.7,463.4 282.8,468.6 282.1,470.6 C281.4,472.7 276.5,475.5 274.5,474.3 C272.5,473.1 269.6,465.6 270.3,463.6Z" fill="#ec5c64" stroke="#2a0303" stroke-width="0.5" stroke-opacity="0.7"/>
<path d="M189.8,531.6 C192.2,520.6 192.2,528.7 194.7,526.7 C197.1,524.6 201.6,522.2 204.4,519.3 C207.3,516.5 209.7,512.2 211.8,509.6 C213.8,506.9 213.8,505.1 216.7,503.4 C219.5,501.8 224.8,499.8 228.9,499.8 C233.0,499.8 238.3,501.4 241.1,503.4 C244.0,505.5 242.8,510.0 246.0,512.0 C249.3,514.0 256.2,514.0 260.7,515.7 C265.2,517.3 268.8,520.4 272.9,521.8 C277.0,523.2 281.5,523.4 285.1,524.2 C288.8,525.0 291.7,524.6 294.9,526.7 C298.2,528.7 301.8,533.8 304.7,536.5 C307.5,539.1 309.6,540.1 312.0,542.6 C314.5,545.0 316.5,548.7 319.4,551.1 C322.2,553.6 326.3,550.3 329.1,557.2 C332.0,564.2 361.3,586.8 336.5,592.7 C311.6,598.6 204.4,602.9 180.0,592.7 C155.6,582.5 187.3,542.6 189.8,531.6Z" fill="#dc3a3c" stroke="#2a0303" stroke-width="0.5" stroke-opacity="0.7"/>
<path d="M180.0,538.9 C180.6,529.3 181.2,536.9 183.7,535.2 C186.1,533.6 191.2,530.1 194.7,529.1 C198.1,528.1 200.8,529.5 204.4,529.1 C208.1,528.7 213.8,528.7 216.7,526.7 C219.5,524.6 219.5,520.0 221.6,516.9 C223.6,513.8 226.3,510.0 228.9,508.3 C231.5,506.7 235.4,506.5 237.5,507.1 C239.5,507.7 239.3,510.0 241.1,512.0 C243.0,514.0 245.2,517.5 248.5,519.3 C251.7,521.2 256.2,521.8 260.7,523.0 C265.2,524.2 271.3,525.7 275.4,526.7 C279.4,527.7 282.3,528.1 285.1,529.1 C288.0,530.1 290.0,531.2 292.5,532.8 C294.9,534.4 297.4,536.7 299.8,538.9 C302.2,541.1 304.3,543.7 307.1,546.2 C310.0,548.8 314.1,546.3 316.9,554.1 C319.8,561.8 347.1,586.3 324.3,592.7 C301.4,599.1 204.0,601.7 180.0,592.7 C156.0,583.7 179.4,548.5 180.0,538.9Z" fill="#ec5c64" stroke="#2a0303" stroke-width="0.5" stroke-opacity="0.7"/>
<path d="M235.0,592.7 C221.0,586.2 232.6,562.5 232.6,553.6 C232.6,544.6 234.2,543.0 235.0,538.9 C235.8,534.8 237.9,532.0 237.5,529.1 C237.0,526.3 234.0,524.2 232.6,521.8 C231.1,519.3 228.5,516.3 228.9,514.4 C229.3,512.6 233.0,510.4 235.0,510.8 C237.0,511.2 238.5,514.7 241.1,516.9 C243.8,519.1 247.2,522.4 250.9,524.2 C254.6,526.1 258.6,526.9 263.1,527.9 C267.6,528.9 273.7,529.1 277.8,530.3 C281.9,531.6 284.7,533.4 287.6,535.2 C290.4,537.1 292.5,539.1 294.9,541.3 C297.4,543.6 299.8,546.6 302.2,548.7 C304.7,550.8 307.1,546.7 309.6,554.1 C312.0,561.4 329.3,586.3 316.9,592.7 C304.5,599.1 249.1,599.2 235.0,592.7Z" fill="#f27880" stroke="#2a0303" stroke-width="0.5" stroke-opacity="0.7"/>
<path d="M253.3,592.7 C244.8,585.8 256.6,560.1 258.2,551.1 C259.9,542.2 261.1,542.0 263.1,538.9 C265.2,535.8 267.6,534.1 270.5,532.8 C273.3,531.5 277.4,530.5 280.2,531.1 C283.1,531.7 285.1,534.3 287.6,536.5 C290.0,538.6 292.5,541.3 294.9,543.8 C297.4,546.2 299.8,543.0 302.2,551.1 C304.7,559.3 317.7,585.8 309.6,592.7 C301.4,599.6 261.9,599.6 253.3,592.7Z" fill="#f7a0a6" stroke="#2a0303" stroke-width="0.5" stroke-opacity="0.7"/>
<path d="M260.7,592.7 C253.6,587.4 262.1,568.2 264.4,560.9 C266.6,553.6 272.1,552.3 274.1,548.7 C276.2,545.0 275.2,541.5 276.6,538.9 C278.0,536.3 280.7,533.0 282.7,532.8 C284.7,532.6 286.6,535.4 288.8,537.7 C291.0,539.9 293.7,543.7 296.1,546.2 C298.6,548.8 301.6,545.3 303.5,553.1 C305.3,560.8 314.3,586.1 307.1,592.7 C300.0,599.3 267.8,598.0 260.7,592.7Z" fill="#f9c4c8" stroke="#2a0303" stroke-width="0.5" stroke-opacity="0.7"/>
<path d="M264.4,561.4 C263.5,559.1 268.2,553.2 270.5,551.1 C272.7,549.0 275.4,548.7 277.8,548.7 C280.2,548.7 283.1,550.1 285.1,551.1 C287.2,552.1 288.0,554.4 290.0,554.8 C292.1,555.2 295.3,553.4 297.4,553.6 C299.4,553.8 300.2,554.4 302.2,556.0 C304.3,557.6 308.0,559.7 309.6,563.3 C311.2,567.0 313.3,574.8 312.0,578.0 C310.8,581.3 305.1,583.3 302.2,582.9 C299.4,582.5 297.8,578.1 294.9,575.6 C292.1,573.0 288.4,569.5 285.1,567.8 C281.9,566.0 278.8,565.9 275.4,564.8 C271.9,563.8 265.2,563.7 264.4,561.4Z" fill="#fce4e4" stroke="#2a0303" stroke-width="0.5" stroke-opacity="0.7"/>
<path d="M266.8,559.7 C266.2,558.1 269.9,554.5 271.7,553.1 C273.5,551.7 275.8,551.1 277.8,551.1 C279.8,551.1 282.4,551.5 283.9,553.1 C285.5,554.7 287.1,558.9 287.1,560.9 C287.1,562.9 285.9,565.0 283.9,565.3 C282.0,565.6 278.2,563.8 275.4,562.9 C272.5,561.9 267.4,561.3 266.8,559.7Z" fill="#efefef" stroke="#2a0303" stroke-width="0.5" stroke-opacity="0.7"/>
<path d="M301.8,563.3 C302.4,560.5 304.6,559.1 307.1,558.5 C309.7,557.8 313.7,558.9 316.9,559.7 C320.2,560.5 323.4,561.5 326.7,563.3 C330.0,565.2 334.8,567.8 336.5,570.7 C338.1,573.5 338.5,578.0 336.5,580.5 C334.4,582.9 328.3,584.7 324.3,585.4 C320.2,586.0 315.5,585.8 312.0,584.1 C308.6,582.5 305.2,579.0 303.5,575.6 C301.8,572.1 301.1,566.2 301.8,563.3Z" fill="#e4eef8" stroke="#2a0303" stroke-width="0.5" stroke-opacity="0.7"/>
<path d="M305.9,564.6 C306.5,562.2 309.4,561.6 312.0,561.4 C314.7,561.2 319.2,561.8 321.8,563.3 C324.5,564.9 327.1,568.0 327.9,570.7 C328.7,573.3 328.5,577.2 326.7,579.2 C324.9,581.3 320.0,583.5 316.9,582.9 C313.9,582.3 310.2,578.6 308.4,575.6 C306.5,572.5 305.3,566.9 305.9,564.6Z" fill="#d8ecfc" stroke="#2a0303" stroke-width="0.5" stroke-opacity="0.7"/>
<path d="M313.3,567.8 C314.0,566.0 317.7,565.5 319.4,566.3 C321.0,567.1 322.8,570.7 323.0,572.6 C323.2,574.6 321.9,577.3 320.6,578.0 C319.2,578.7 316.2,578.5 315.0,576.8 C313.7,575.1 312.5,569.5 313.3,567.8Z" fill="#b8e0fc" stroke="#2a0303" stroke-width="0.5" stroke-opacity="0.7"/>
<path d="M316.0,576.0 C316.7,574.8 320.3,574.5 322.0,575.0 C323.7,575.5 325.7,577.7 326.0,579.0 C326.3,580.3 325.3,582.5 324.0,583.0 C322.7,583.5 319.3,583.2 318.0,582.0 C316.7,580.8 315.3,577.2 316.0,576.0Z" fill="#8cc8fa" stroke="#2a0303" stroke-width="0.5" stroke-opacity="0.7"/>
<path d="M300.0,553.0 C301.5,550.7 307.2,550.0 309.0,552.0 C310.8,554.0 311.2,560.3 311.0,565.0 C310.8,569.7 309.5,577.8 308.0,580.0 C306.5,582.2 303.3,580.3 302.0,578.0 C300.7,575.7 300.3,570.2 300.0,566.0 C299.7,561.8 298.5,555.3 300.0,553.0Z" fill="#efefef" stroke="#2a0303" stroke-width="0.5" stroke-opacity="0.7"/>
<path d="M329.6,571.9 C329.4,570.0 333.3,569.5 336.5,570.7 C339.7,571.9 348.5,577.3 348.7,579.2 C348.9,581.2 340.9,583.6 337.7,582.4 C334.5,581.2 329.8,573.9 329.6,571.9Z" fill="#ec5c64" stroke="#2a0303" stroke-width="0.5" stroke-opacity="0.7"/>
<path d="M100.2,283.4 C106.9,277.2 130.6,280.8 140.8,280.0 C150.9,279.2 152.1,276.6 161.1,278.3 C170.1,280.0 188.5,287.2 194.9,290.2 C201.4,293.1 200.6,294.5 200.0,296.1 C199.5,297.6 194.7,297.9 191.6,299.5 C188.5,301.0 185.6,303.8 181.4,305.4 C177.2,307.0 172.1,308.2 166.2,309.1 C160.2,310.0 150.1,309.6 145.9,310.8 C141.6,312.0 142.2,313.1 140.8,316.4 C139.4,319.7 141.6,328.4 137.4,330.8 C133.2,333.2 121.6,333.0 115.4,330.8 C109.2,328.5 102.7,325.1 100.2,317.2 C97.6,309.3 93.4,289.6 100.2,283.4Z" fill="#dc3a3c" stroke="#2a0303" stroke-width="0.5" stroke-opacity="0.7"/>
<path d="M157.7,318.1 C158.8,316.3 167.3,315.4 171.2,316.4 C175.2,317.4 179.6,321.0 181.4,324.0 C183.2,327.0 183.4,332.2 182.2,334.2 C181.1,336.1 177.6,337.0 174.6,335.9 C171.7,334.7 167.3,330.4 164.5,327.4 C161.7,324.4 156.6,319.9 157.7,318.1Z" fill="#be1008"/>
<path d="M185.0,380.0 C190.8,375.8 212.5,373.3 230.0,375.0 C247.5,376.7 278.3,382.5 290.0,390.0 C301.7,397.5 303.3,411.7 300.0,420.0 C296.7,428.3 280.8,438.3 270.0,440.0 C259.2,441.7 244.2,428.8 235.0,430.0 C225.8,431.2 220.3,447.0 215.0,447.0 C209.7,447.0 206.3,437.8 203.0,430.0 C199.7,422.2 198.0,408.3 195.0,400.0 C192.0,391.7 179.2,384.2 185.0,380.0Z" fill="#be1008"/>
<path d="M392.0,470.0 C390.7,487.5 387.3,532.0 392.0,545.0 C396.7,558.0 410.3,546.8 420.0,548.0 C429.7,549.2 442.0,553.3 450.0,552.0 C458.0,550.7 467.2,548.7 468.0,540.0 C468.8,531.3 458.0,512.5 455.0,500.0 C452.0,487.5 455.8,471.3 450.0,465.0 C444.2,458.7 425.8,467.8 420.0,462.0 C414.2,456.2 411.7,435.7 415.0,430.0 C418.3,424.3 435.0,433.0 440.0,428.0 C445.0,423.0 446.7,407.2 445.0,400.0 C443.3,392.8 436.7,387.5 430.0,385.0 C423.3,382.5 410.8,380.8 405.0,385.0 C399.2,389.2 395.8,400.8 395.0,410.0 C394.2,419.2 400.5,430.0 400.0,440.0 C399.5,450.0 393.3,452.5 392.0,470.0Z" fill="#be1008"/>
<path d="M419.1,444.0 C421.9,441.8 429.3,441.0 434.5,440.6 C439.7,440.3 446.8,439.5 450.3,441.8 C453.8,444.0 455.3,449.8 455.3,454.2 C455.3,458.5 453.8,465.0 450.3,467.7 C446.8,470.4 439.0,470.7 434.5,470.4 C430.0,470.1 425.9,468.6 423.2,465.9 C420.5,463.2 418.9,457.8 418.2,454.2 C417.6,450.5 416.4,446.3 419.1,444.0Z" fill="#dc3a3c" stroke="#2a0303" stroke-width="0.5" stroke-opacity="0.7"/>
<path d="M424.3,448.5 C426.2,446.1 432.8,446.3 436.7,446.3 C440.7,446.3 446.0,446.1 448.0,448.5 C450.1,451.0 451.0,458.3 449.2,460.9 C447.3,463.6 440.7,464.3 436.7,464.3 C432.8,464.3 427.5,463.6 425.5,460.9 C423.4,458.3 422.5,451.0 424.3,448.5Z" fill="#ec5c64" stroke="#2a0303" stroke-width="0.5" stroke-opacity="0.7"/>
<path d="M450.3,463.2 C454.1,461.3 468.7,460.9 472.9,465.5 C477.1,470.0 476.7,485.4 475.6,490.3 C474.4,495.2 469.6,494.8 466.1,494.8 C462.6,494.8 457.4,493.3 454.8,490.3 C452.2,487.3 451.0,481.3 450.3,476.7 C449.5,472.2 446.5,465.1 450.3,463.2Z" fill="#dc3a3c" stroke="#2a0303" stroke-width="0.5" stroke-opacity="0.7"/>
<path d="M456.6,476.3 C458.0,474.9 464.0,474.5 465.6,475.6 C467.3,476.7 467.9,481.7 466.5,483.1 C465.2,484.5 459.2,485.1 457.5,484.0 C455.9,482.8 455.3,477.7 456.6,476.3Z" fill="#ec5c64" stroke="#2a0303" stroke-width="0.5" stroke-opacity="0.7"/>
<path d="M457.1,490.3 C459.3,486.9 465.9,491.4 472.9,492.6 C479.8,493.7 495.1,494.4 498.8,497.1 C502.6,499.7 498.3,504.0 495.4,508.4 C492.6,512.7 486.0,519.8 481.9,523.0 C477.8,526.2 474.4,529.2 470.6,527.5 C466.8,525.8 461.6,519.1 459.3,512.9 C457.1,506.7 454.8,493.7 457.1,490.3Z" fill="#dc3a3c" stroke="#2a0303" stroke-width="0.5" stroke-opacity="0.7"/>
<path d="M461.6,497.1 C464.2,494.8 471.7,494.4 477.4,494.8 C483.1,495.2 493.6,496.7 495.9,499.3 C498.1,502.0 493.6,507.1 490.9,510.6 C488.2,514.1 483.4,518.9 479.6,520.1 C475.9,521.3 471.4,519.8 468.4,517.8 C465.3,515.9 462.7,511.8 461.6,508.4 C460.5,504.9 458.9,499.3 461.6,497.1Z" fill="#ec5c64" stroke="#2a0303" stroke-width="0.5" stroke-opacity="0.7"/>
<path d="M378.1,512.9 C380.5,509.8 388.2,507.6 393.9,508.4 C399.5,509.1 408.5,513.5 411.9,517.4 C415.3,521.2 415.3,528.3 414.2,531.4 C413.0,534.5 409.7,535.5 405.1,535.9 C400.6,536.3 391.4,535.1 387.1,533.6 C382.8,532.1 380.7,530.3 379.2,526.9 C377.7,523.4 375.6,516.0 378.1,512.9Z" fill="#dc3a3c" stroke="#2a0303" stroke-width="0.5" stroke-opacity="0.7"/>
<path d="M382.6,521.9 C382.9,519.8 387.5,518.9 391.6,519.6 C395.7,520.4 405.1,524.1 407.4,526.4 C409.7,528.7 408.2,532.7 405.1,533.6 C402.1,534.6 393.1,534.2 389.3,532.3 C385.6,530.3 382.2,524.0 382.6,521.9Z" fill="#ec5c64" stroke="#2a0303" stroke-width="0.5" stroke-opacity="0.7"/>
<path d="M530.0,540.0 L570.0,540.0 L570.0,625.0 L530.0,625.0Z" fill="#dc3a3c" stroke="#2a0303" stroke-width="0.5" stroke-opacity="0.7"/>
<path d="M531.6,575.7 C532.1,573.2 535.8,571.1 537.3,571.9 C538.8,572.8 540.3,577.8 540.5,580.8 C540.7,583.8 539.6,588.6 538.6,589.7 C537.5,590.7 535.3,589.5 534.1,587.1 C533.0,584.8 531.1,578.3 531.6,575.7Z" fill="#cc1a14" stroke="#2a0303" stroke-width="0.5" stroke-opacity="0.7"/>
<path d="M548.1,561.7 C550.0,559.9 554.0,558.8 557.0,559.8 C559.9,560.9 564.2,564.2 565.9,568.1 C567.6,572.0 567.2,578.7 567.1,583.3 C567.0,588.0 565.4,592.2 565.2,596.0 C565.0,599.8 566.6,602.6 565.9,606.2 C565.1,609.8 562.9,615.9 560.8,617.6 C558.7,619.3 555.7,617.4 553.2,616.3 C550.6,615.3 546.6,614.7 545.6,611.3 C544.5,607.9 547.0,600.7 546.8,596.0 C546.6,591.4 544.5,587.6 544.3,583.3 C544.1,579.1 544.9,574.2 545.6,570.6 C546.2,567.0 546.2,563.5 548.1,561.7Z" fill="#ec5c64" stroke="#2a0303" stroke-width="0.5" stroke-opacity="0.7"/>
<path d="M550.6,564.3 C552.2,561.5 554.7,560.9 557.2,561.7 C559.7,562.6 564.1,565.8 565.6,569.4 C567.2,573.0 566.8,578.7 566.6,583.3 C566.5,588.0 565.6,594.3 564.6,597.3 C563.6,600.3 562.5,600.9 560.8,601.1 C559.1,601.3 556.3,600.5 554.4,598.6 C552.5,596.7 550.4,593.1 549.4,589.7 C548.3,586.3 547.9,582.5 548.1,578.3 C548.3,574.0 549.1,567.0 550.6,564.3Z" fill="#f27880" stroke="#2a0303" stroke-width="0.5" stroke-opacity="0.7"/>
<path d="M553.2,566.2 C554.4,564.0 556.2,562.9 558.3,563.7 C560.3,564.4 563.9,567.4 565.2,570.6 C566.6,573.9 566.3,579.1 566.1,583.3 C565.9,587.6 565.0,593.4 564.0,596.0 C563.0,598.7 561.5,599.2 560.2,599.2 C558.8,599.2 557.1,598.0 555.7,596.0 C554.3,594.0 552.7,590.3 551.9,587.1 C551.1,584.0 550.7,580.5 550.9,577.0 C551.1,573.5 551.9,568.4 553.2,566.2Z" fill="#f7a0a6" stroke="#2a0303" stroke-width="0.5" stroke-opacity="0.7"/>
<path d="M555.5,568.1 C556.4,566.3 557.7,565.1 559.3,565.8 C560.8,566.6 563.6,569.6 564.6,572.5 C565.6,575.5 565.7,579.7 565.5,583.3 C565.3,587.0 564.2,592.2 563.3,594.5 C562.4,596.8 561.2,597.2 560.2,597.0 C559.1,596.9 558.2,595.4 557.2,593.5 C556.3,591.6 555.1,588.7 554.4,585.9 C553.8,583.0 553.3,579.3 553.4,576.3 C553.6,573.4 554.5,569.9 555.5,568.1Z" fill="#f9c4c8" stroke="#2a0303" stroke-width="0.5" stroke-opacity="0.7"/>
<path d="M557.7,571.3 C558.5,570.1 559.5,568.8 560.5,569.4 C561.6,569.9 563.3,572.1 564.0,574.4 C564.7,576.8 564.9,580.3 564.7,583.3 C564.5,586.4 563.5,591.0 562.8,592.9 C562.1,594.8 561.2,595.1 560.5,594.8 C559.9,594.4 559.4,592.6 558.8,591.0 C558.2,589.3 557.4,587.0 557.0,584.6 C556.6,582.2 556.1,578.6 556.2,576.3 C556.3,574.1 557.0,572.4 557.7,571.3Z" fill="#fce4e4" stroke="#2a0303" stroke-width="0.5" stroke-opacity="0.7"/>
<path d="M559.5,577.0 C560.0,575.6 560.8,574.9 561.4,575.1 C562.1,575.3 562.9,576.7 563.3,578.3 C563.8,579.8 564.1,582.4 564.0,584.6 C563.8,586.8 562.8,590.3 562.3,591.6 C561.8,592.9 561.2,593.0 560.8,592.5 C560.4,591.9 560.1,589.9 559.8,588.4 C559.4,586.9 558.8,585.2 558.8,583.3 C558.7,581.4 559.1,578.4 559.5,577.0Z" fill="#efefef" stroke="#2a0303" stroke-width="0.5" stroke-opacity="0.7"/>
<path d="M330.3,260.7 C331.8,258.6 337.7,256.3 339.6,257.6 C341.6,258.9 342.6,265.7 342.1,268.4 C341.6,271.1 338.4,273.5 336.5,273.7 C334.7,274.0 332.0,272.2 331.0,270.0 C329.9,267.8 328.9,262.7 330.3,260.7Z" fill="#cc1a14" stroke="#2a0303" stroke-width="0.5" stroke-opacity="0.7"/>
<path d="M350.5,261.3 C352.2,259.2 357.4,256.1 359.8,257.6 C362.2,259.0 364.7,266.3 365.1,270.0 C365.5,273.7 363.9,278.5 362.0,279.9 C360.1,281.4 355.6,280.3 353.6,278.7 C351.6,277.0 350.4,272.9 349.9,270.0 C349.4,267.1 348.9,263.4 350.5,261.3Z" fill="#cc1a14" stroke="#2a0303" stroke-width="0.5" stroke-opacity="0.7"/>
<path d="M360.7,270.6 C364.2,267.5 374.6,265.4 380.0,266.9 C385.4,268.3 390.6,274.1 393.0,279.3 C395.4,284.5 396.3,293.7 394.3,297.9 C392.2,302.2 385.1,304.6 380.6,304.7 C376.2,304.8 371.1,301.7 367.6,298.5 C364.1,295.3 360.6,290.2 359.5,285.5 C358.4,280.8 357.3,273.7 360.7,270.6Z" fill="#cc1a14" stroke="#2a0303" stroke-width="0.5" stroke-opacity="0.7"/>
<path d="M364.5,274.6 C366.7,272.7 374.0,270.7 376.9,272.5 C379.7,274.3 381.5,281.7 381.5,285.5 C381.5,289.3 379.2,294.3 376.9,295.4 C374.6,296.6 369.9,294.2 367.6,292.3 C365.3,290.4 363.7,286.9 363.2,284.0 C362.7,281.0 362.2,276.6 364.5,274.6Z" fill="#be1008"/>
<path d="M299.3,299.5 C300.3,297.3 307.6,296.8 311.7,297.3 C315.9,297.8 322.6,300.5 324.1,302.6 C325.7,304.6 324.1,308.4 321.0,309.7 C317.9,311.0 309.1,312.0 305.5,310.3 C301.9,308.6 298.3,301.6 299.3,299.5Z" fill="#cc1a14" stroke="#2a0303" stroke-width="0.5" stroke-opacity="0.7"/>
<path d="M333.4,301.6 C335.7,300.4 344.3,299.6 347.4,300.4 C350.5,301.2 352.8,304.8 352.1,306.6 C351.3,308.4 345.8,310.7 342.8,310.9 C339.8,311.2 335.6,309.4 334.1,307.8 C332.5,306.3 331.2,302.9 333.4,301.6Z" fill="#cc1a14" stroke="#2a0303" stroke-width="0.5" stroke-opacity="0.7"/>
<path d="M394.0,299.5 C396.4,297.7 406.0,296.3 409.5,297.3 C412.9,298.3 415.5,303.4 414.7,305.7 C414.0,307.9 408.1,310.6 404.8,310.9 C401.5,311.3 396.7,309.8 394.9,307.8 C393.1,305.9 391.5,301.2 394.0,299.5Z" fill="#cc1a14" stroke="#2a0303" stroke-width="0.5" stroke-opacity="0.7"/>
<path d="M314.2,282.4 C315.4,280.7 320.3,279.1 322.6,279.9 C324.9,280.7 327.9,285.0 327.9,287.1 C327.9,289.1 324.7,291.8 322.6,292.3 C320.5,292.8 316.8,291.8 315.4,290.2 C314.0,288.5 313.0,284.1 314.2,282.4Z" fill="#cc1a14" stroke="#2a0303" stroke-width="0.5" stroke-opacity="0.7"/>
<path d="M380.6,311.9 C382.9,307.5 392.4,308.0 395.5,310.3 C398.6,312.7 399.7,320.7 399.2,325.8 C398.7,331.0 395.3,339.5 392.4,341.4 C389.5,343.2 383.8,341.6 381.8,336.7 C379.9,331.8 378.3,316.3 380.6,311.9Z" fill="#dc3a3c" stroke="#2a0303" stroke-width="0.5" stroke-opacity="0.7"/>
<path d="M397.1,299.5 C400.7,294.8 415.2,295.1 420.3,297.9 C425.5,300.8 427.6,309.8 428.1,316.5 C428.6,323.3 426.8,334.0 423.4,338.3 C420.1,342.5 412.1,344.0 407.9,342.0 C403.8,339.9 400.4,332.9 398.6,325.8 C396.8,318.8 393.4,304.1 397.1,299.5Z" fill="#dc3a3c" stroke="#2a0303" stroke-width="0.5" stroke-opacity="0.7"/>
<path d="M383.1,321.2 C384.0,319.8 388.6,318.8 389.9,319.6 C391.3,320.5 392.0,325.1 391.2,326.5 C390.3,327.8 386.0,328.6 384.6,327.7 C383.3,326.8 382.2,322.5 383.1,321.2Z" fill="#ec5c64" stroke="#2a0303" stroke-width="0.5" stroke-opacity="0.7"/>
<path d="M314.8,346.0 C318.0,342.8 329.7,341.0 333.4,343.8 C337.2,346.7 338.7,358.2 337.2,363.1 C335.6,367.9 328.0,373.0 324.1,373.0 C320.3,373.0 315.8,367.6 314.2,363.1 C312.7,358.6 311.6,349.2 314.8,346.0Z" fill="#be1008"/>
<path d="M347.4,349.1 C352.1,344.5 373.9,344.7 380.0,347.6 C386.0,350.4 385.3,360.9 383.7,366.2 C382.2,371.5 376.0,377.7 370.7,379.2 C365.4,380.8 355.9,380.5 352.1,375.5 C348.2,370.5 342.8,353.8 347.4,349.1Z" fill="#be1008"/>
<path d="M290.0,366.2 C292.6,361.0 301.9,360.0 305.5,363.1 C309.1,366.2 312.8,379.1 311.7,384.8 C310.7,390.5 302.9,395.7 299.3,397.2 C295.7,398.8 291.6,399.3 290.0,394.1 C288.4,388.9 287.4,371.4 290.0,366.2Z" fill="#be1008"/>
<path d="M248.4,398.6 C251.0,395.0 257.5,394.5 262.4,395.5 C267.3,396.5 274.3,400.7 277.9,404.8 C281.5,409.0 283.6,414.1 284.1,420.3 C284.6,426.5 284.1,439.5 281.0,442.1 C277.9,444.6 270.2,436.4 265.5,435.9 C260.8,435.3 256.2,442.1 253.1,439.0 C250.0,435.9 247.7,424.0 246.9,417.2 C246.1,410.5 245.8,402.2 248.4,398.6Z" fill="#dc3a3c" stroke="#2a0303" stroke-width="0.5" stroke-opacity="0.7"/>
<path d="M264.9,401.7 C265.2,399.7 268.2,399.5 269.2,401.1 C270.3,402.7 271.4,409.0 271.1,411.0 C270.7,413.1 268.1,415.1 267.1,413.5 C266.0,412.0 264.5,403.8 264.9,401.7Z" fill="#ec5c64" stroke="#2a0303" stroke-width="0.5" stroke-opacity="0.7"/>
<path d="M273.3,417.2 C273.9,415.0 278.8,414.1 280.4,415.7 C281.9,417.2 283.2,424.3 282.6,426.5 C281.9,428.8 277.9,430.6 276.4,429.0 C274.8,427.5 272.6,419.5 273.3,417.2Z" fill="#ec5c64" stroke="#2a0303" stroke-width="0.5" stroke-opacity="0.7"/>
<path d="M284.1,431.2 C287.5,427.3 299.6,425.5 305.8,426.5 C312.0,427.6 319.0,432.2 321.4,437.4 C323.7,442.6 323.4,453.6 319.8,457.6 C316.2,461.6 305.3,462.6 299.6,461.3 C293.9,460.0 288.3,454.8 285.7,449.8 C283.1,444.8 280.8,435.1 284.1,431.2Z" fill="#be1008"/>
<path d="M305.8,401.7 C308.9,397.6 322.9,395.5 327.6,398.6 C332.2,401.7 334.8,415.2 333.8,420.3 C332.7,425.5 325.5,429.1 321.4,429.6 C317.2,430.2 311.5,428.1 308.9,423.4 C306.4,418.8 302.7,405.9 305.8,401.7Z" fill="#dc3a3c" stroke="#2a0303" stroke-width="0.5" stroke-opacity="0.7"/>
<path d="M313.6,407.9 C315.1,405.9 320.8,404.8 322.9,406.4 C325.0,407.9 326.7,414.3 326.0,417.2 C325.3,420.2 320.9,423.8 318.9,424.1 C316.8,424.3 314.5,421.5 313.6,418.8 C312.7,416.1 312.0,410.0 313.6,407.9Z" fill="#ec5c64" stroke="#2a0303" stroke-width="0.5" stroke-opacity="0.7"/>
<path d="M206.5,398.6 C212.2,395.8 234.5,394.5 240.7,397.1 C246.9,399.7 246.9,410.0 243.8,414.1 C240.7,418.3 228.3,421.9 222.1,421.9 C215.9,421.9 209.1,418.0 206.5,414.1 C204.0,410.3 200.9,401.5 206.5,398.6Z" fill="#be1008"/>
<path d="M426.0,459.1 C428.8,455.4 446.3,456.4 450.8,460.1 C455.3,463.7 455.8,477.1 453.0,480.8 C450.3,484.6 438.9,486.0 434.4,482.4 C429.9,478.8 423.3,462.8 426.0,459.1Z" fill="#cc1a14" stroke="#2a0303" stroke-width="0.5" stroke-opacity="0.7"/>
<path d="M277.6,363.6 C281.1,360.2 293.5,358.7 299.3,360.5 C305.1,362.3 310.8,369.6 312.3,374.5 C313.9,379.4 312.3,387.1 308.6,390.0 C304.9,392.8 295.1,393.1 290.0,391.5 C284.9,390.0 280.3,385.3 278.2,380.7 C276.1,376.0 274.1,367.0 277.6,363.6Z" fill="#be1008"/>
<path d="M317.9,345.0 C321.1,341.9 332.3,340.6 336.5,343.4 C340.8,346.3 342.8,355.8 343.4,362.1 C343.9,368.4 342.8,378.5 339.6,381.3 C336.4,384.1 327.8,382.3 324.1,379.1 C320.4,375.9 318.3,367.7 317.3,362.1 C316.3,356.4 314.7,348.1 317.9,345.0Z" fill="#be1008"/>
<path d="M200.0,318.6 C206.2,312.4 226.9,314.0 237.2,315.5 C247.6,317.1 258.4,321.7 262.1,327.9 C265.7,334.1 264.1,347.8 259.0,352.8 C253.8,357.7 240.9,357.4 231.0,357.4 C221.2,357.4 205.2,359.2 200.0,352.8 C194.8,346.3 193.8,324.8 200.0,318.6Z" fill="#be1008"/>
<path d="M331.9,382.2 C336.0,378.1 354.4,377.3 361.4,379.1 C368.3,380.9 373.8,388.4 373.8,393.1 C373.8,397.7 367.6,405.2 361.4,407.1 C355.1,408.9 341.4,408.1 336.5,404.0 C331.6,399.8 327.7,386.4 331.9,382.2Z" fill="#be1008"/>
<path d="M288.4,431.9 C293.1,428.5 308.8,426.4 314.8,428.8 C320.9,431.1 324.2,440.4 324.7,445.8 C325.3,451.3 322.7,458.5 317.9,461.4 C313.2,464.2 301.4,465.0 296.2,462.9 C291.0,460.8 288.2,454.1 286.9,448.9 C285.6,443.8 283.8,435.2 288.4,431.9Z" fill="#be1008"/>
<path d="M378.4,327.9 C381.0,323.8 385.5,320.7 392.4,318.6 C399.3,316.5 414.8,308.3 420.0,315.5 C425.2,322.8 427.0,353.5 423.4,362.1 C419.8,370.6 404.8,367.7 398.6,366.7 C392.4,365.7 389.8,359.7 386.2,355.9 C382.6,352.0 378.2,348.1 376.9,343.4 C375.6,338.8 375.8,332.1 378.4,327.9Z" fill="#dc3a3c" stroke="#2a0303" stroke-width="0.5" stroke-opacity="0.7"/>
<path d="M398.6,331.0 C400.4,327.7 411.0,326.9 414.1,329.5 C417.2,332.1 419.0,343.2 417.2,346.5 C415.4,349.9 406.3,352.2 403.2,349.6 C400.1,347.1 396.8,334.4 398.6,331.0Z" fill="#cc1a14" stroke="#2a0303" stroke-width="0.5" stroke-opacity="0.7"/>
<path d="M457.8,404.3 C458.1,402.2 462.1,400.1 463.5,401.8 C465.0,403.6 467.1,412.6 466.8,414.8 C466.5,417.0 463.3,416.6 461.8,414.8 C460.3,413.1 457.5,406.5 457.8,404.3Z" fill="#f7a0a6" stroke="#2a0303" stroke-width="0.5" stroke-opacity="0.7"/>
<path d="M459.3,406.8 C459.6,405.6 461.9,404.3 462.8,405.3 C463.7,406.3 465.0,411.6 464.8,412.8 C464.5,414.1 462.2,413.8 461.3,412.8 C460.4,411.8 459.1,408.1 459.3,406.8Z" fill="#f9c4c8" stroke="#2a0303" stroke-width="0.5" stroke-opacity="0.7"/>
<path d="M489.5,497.0 C490.9,494.8 497.4,493.2 499.0,494.0 C500.6,494.8 499.9,499.1 499.0,502.0 C498.1,504.9 494.9,510.7 493.5,511.5 C492.1,512.3 491.2,509.4 490.5,507.0 C489.8,504.6 488.1,499.2 489.5,497.0Z" fill="#cc1a14" stroke="#2a0303" stroke-width="0.5" stroke-opacity="0.7"/>
<ellipse cx="335.5" cy="222.0" rx="2.8" ry="2.4" fill="#efefef" stroke="#200404" stroke-width="0.4" stroke-opacity="0.75"/>
<ellipse cx="345.6" cy="241.9" rx="2.0" ry="1.8" fill="#efefef" stroke="#200404" stroke-width="0.4" stroke-opacity="0.75"/>
<ellipse cx="293.0" cy="254.3" rx="2.4" ry="2.4" fill="#efefef" stroke="#200404" stroke-width="0.4" stroke-opacity="0.75"/>
<ellipse cx="468.1" cy="284.6" rx="6.5" ry="5.5" fill="#f27880" stroke="#200404" stroke-width="0.4" stroke-opacity="0.75"/>
<ellipse cx="468.1" cy="284.6" rx="5.2" ry="4.4" fill="#f7a0a6" stroke="#200404" stroke-width="0.4" stroke-opacity="0.75"/>
<ellipse cx="468.1" cy="284.6" rx="3.9" ry="3.3" fill="#f9c4c8" stroke="#200404" stroke-width="0.4" stroke-opacity="0.75"/>
<ellipse cx="468.1" cy="284.6" rx="2.6" ry="2.2" fill="#fce4e4" stroke="#200404" stroke-width="0.4" stroke-opacity="0.75"/>
<ellipse cx="468.1" cy="284.6" rx="1.3" ry="1.1" fill="#efefef" stroke="#200404" stroke-width="0.4" stroke-opacity="0.75"/>
<ellipse cx="476.0" cy="283.5" rx="5.0" ry="4.5" fill="#f27880" stroke="#200404" stroke-width="0.4" stroke-opacity="0.75"/>
<ellipse cx="476.0" cy="283.5" rx="3.8" ry="3.4" fill="#f7a0a6" stroke="#200404" stroke-width="0.4" stroke-opacity="0.75"/>
<ellipse cx="476.0" cy="283.5" rx="2.5" ry="2.2" fill="#f9c4c8" stroke="#200404" stroke-width="0.4" stroke-opacity="0.75"/>
<ellipse cx="476.0" cy="283.5" rx="1.2" ry="1.1" fill="#fce4e4" stroke="#200404" stroke-width="0.4" stroke-opacity="0.75"/>
<ellipse cx="469.4" cy="315.4" rx="7.5" ry="7.5" fill="#ec5c64" stroke="#200404" stroke-width="0.4" stroke-opacity="0.75"/>
<ellipse cx="469.4" cy="315.4" rx="6.2" ry="6.2" fill="#f27880" stroke="#200404" stroke-width="0.4" stroke-opacity="0.75"/>
<ellipse cx="469.4" cy="315.4" rx="5.0" ry="5.0" fill="#f7a0a6" stroke="#200404" stroke-width="0.4" stroke-opacity="0.75"/>
<ellipse cx="469.4" cy="315.4" rx="3.8" ry="3.8" fill="#f9c4c8" stroke="#200404" stroke-width="0.4" stroke-opacity="0.75"/>
<ellipse cx="469.4" cy="315.4" rx="2.5" ry="2.5" fill="#fce4e4" stroke="#200404" stroke-width="0.4" stroke-opacity="0.75"/>
<ellipse cx="469.4" cy="315.4" rx="1.2" ry="1.2" fill="#efefef" stroke="#200404" stroke-width="0.4" stroke-opacity="0.75"/>
<ellipse cx="435.1" cy="348.8" rx="7.5" ry="6.0" fill="#dc3a3c" stroke="#200404" stroke-width="0.4" stroke-opacity="0.75"/>
<ellipse cx="435.1" cy="348.8" rx="6.0" ry="4.8" fill="#ec5c64" stroke="#200404" stroke-width="0.4" stroke-opacity="0.75"/>
<ellipse cx="435.1" cy="348.8" rx="4.5" ry="3.6" fill="#f27880" stroke="#200404" stroke-width="0.4" stroke-opacity="0.75"/>
<ellipse cx="435.1" cy="348.8" rx="3.0" ry="2.4" fill="#f7a0a6" stroke="#200404" stroke-width="0.4" stroke-opacity="0.75"/>
<ellipse cx="435.1" cy="348.8" rx="1.5" ry="1.2" fill="#f9c4c8" stroke="#200404" stroke-width="0.4" stroke-opacity="0.75"/>
<ellipse cx="455.8" cy="298.2" rx="4.0" ry="3.5" fill="#f27880" stroke="#200404" stroke-width="0.4" stroke-opacity="0.75"/>
<ellipse cx="455.8" cy="298.2" rx="2.0" ry="1.8" fill="#f7a0a6" stroke="#200404" stroke-width="0.4" stroke-opacity="0.75"/>
<ellipse cx="434.8" cy="349.2" rx="7.0" ry="5.5" fill="#ec5c64" stroke="#200404" stroke-width="0.4" stroke-opacity="0.75"/>
<ellipse cx="434.8" cy="349.2" rx="5.2" ry="4.1" fill="#f27880" stroke="#200404" stroke-width="0.4" stroke-opacity="0.75"/>
<ellipse cx="434.8" cy="349.2" rx="3.5" ry="2.8" fill="#f7a0a6" stroke="#200404" stroke-width="0.4" stroke-opacity="0.75"/>
<ellipse cx="434.8" cy="349.2" rx="1.8" ry="1.4" fill="#f9c4c8" stroke="#200404" stroke-width="0.4" stroke-opacity="0.75"/>
<ellipse cx="340.0" cy="429.8" rx="8.0" ry="6.5" fill="#ec5c64" stroke="#200404" stroke-width="0.4" stroke-opacity="0.75"/>
<ellipse cx="340.0" cy="429.8" rx="6.4" ry="5.2" fill="#f27880" stroke="#200404" stroke-width="0.4" stroke-opacity="0.75"/>
<ellipse cx="340.0" cy="429.8" rx="4.8" ry="3.9" fill="#f7a0a6" stroke="#200404" stroke-width="0.4" stroke-opacity="0.75"/>
<ellipse cx="340.0" cy="429.8" rx="3.2" ry="2.6" fill="#f9c4c8" stroke="#200404" stroke-width="0.4" stroke-opacity="0.75"/>
<ellipse cx="340.0" cy="429.8" rx="1.6" ry="1.3" fill="#fce4e4" stroke="#200404" stroke-width="0.4" stroke-opacity="0.75"/>
<ellipse cx="341.2" cy="460.2" rx="6.5" ry="6.5" fill="#ec5c64" stroke="#200404" stroke-width="0.4" stroke-opacity="0.75"/>
<ellipse cx="341.2" cy="460.2" rx="5.2" ry="5.2" fill="#f27880" stroke="#200404" stroke-width="0.4" stroke-opacity="0.75"/>
<ellipse cx="341.2" cy="460.2" rx="3.9" ry="3.9" fill="#f7a0a6" stroke="#200404" stroke-width="0.4" stroke-opacity="0.75"/>
<ellipse cx="341.2" cy="460.2" rx="2.6" ry="2.6" fill="#f9c4c8" stroke="#200404" stroke-width="0.4" stroke-opacity="0.75"/>
<ellipse cx="341.2" cy="460.2" rx="1.3" ry="1.3" fill="#fce4e4" stroke="#200404" stroke-width="0.4" stroke-opacity="0.75"/>
<ellipse cx="364.9" cy="460.2" rx="7.0" ry="5.5" fill="#ec5c64" stroke="#200404" stroke-width="0.4" stroke-opacity="0.75"/>
<ellipse cx="364.9" cy="460.2" rx="5.6" ry="4.4" fill="#f27880" stroke="#200404" stroke-width="0.4" stroke-opacity="0.75"/>
<ellipse cx="364.9" cy="460.2" rx="4.2" ry="3.3" fill="#f7a0a6" stroke="#200404" stroke-width="0.4" stroke-opacity="0.75"/>
<ellipse cx="364.9" cy="460.2" rx="2.8" ry="2.2" fill="#f9c4c8" stroke="#200404" stroke-width="0.4" stroke-opacity="0.75"/>
<ellipse cx="364.9" cy="460.2" rx="1.4" ry="1.1" fill="#fce4e4" stroke="#200404" stroke-width="0.4" stroke-opacity="0.75"/>
<ellipse cx="457.3" cy="439.3" rx="5.0" ry="3.0" fill="#f9c4c8" stroke="#200404" stroke-width="0.4" stroke-opacity="0.75"/>
<ellipse cx="457.3" cy="439.3" rx="3.3" ry="2.0" fill="#fce4e4" stroke="#200404" stroke-width="0.4" stroke-opacity="0.75"/>
<ellipse cx="457.3" cy="439.3" rx="1.7" ry="1.0" fill="#efefef" stroke="#200404" stroke-width="0.4" stroke-opacity="0.75"/>
<ellipse cx="364.9" cy="412.3" rx="3.5" ry="3.5" fill="#ec5c64" stroke="#200404" stroke-width="0.4" stroke-opacity="0.75"/>
<ellipse cx="364.9" cy="412.3" rx="1.8" ry="1.8" fill="#f27880" stroke="#200404" stroke-width="0.4" stroke-opacity="0.75"/>
<ellipse cx="461.1" cy="407.3" rx="3.0" ry="4.0" fill="#f7a0a6" stroke="#200404" stroke-width="0.4" stroke-opacity="0.75"/>
<ellipse cx="461.1" cy="407.3" rx="1.5" ry="2.0" fill="#f9c4c8" stroke="#200404" stroke-width="0.4" stroke-opacity="0.75"/>
<ellipse cx="226.5" cy="523.0" rx="6.0" ry="5.5" fill="#f27880" stroke="#200404" stroke-width="0.4" stroke-opacity="0.75"/>
<ellipse cx="226.5" cy="523.0" rx="4.5" ry="4.1" fill="#f7a0a6" stroke="#200404" stroke-width="0.4" stroke-opacity="0.75"/>
<ellipse cx="226.5" cy="523.0" rx="3.0" ry="2.8" fill="#f9c4c8" stroke="#200404" stroke-width="0.4" stroke-opacity="0.75"/>
<ellipse cx="226.5" cy="523.0" rx="1.5" ry="1.4" fill="#fce4e4" stroke="#200404" stroke-width="0.4" stroke-opacity="0.75"/>
<ellipse cx="278.7" cy="504.8" rx="5.5" ry="6.0" fill="#dc3a3c" stroke="#200404" stroke-width="0.4" stroke-opacity="0.75"/>
<ellipse cx="278.7" cy="504.8" rx="4.1" ry="4.5" fill="#ec5c64" stroke="#200404" stroke-width="0.4" stroke-opacity="0.75"/>
<ellipse cx="278.7" cy="504.8" rx="2.8" ry="3.0" fill="#f27880" stroke="#200404" stroke-width="0.4" stroke-opacity="0.75"/>
<ellipse cx="278.7" cy="504.8" rx="1.4" ry="1.5" fill="#f7a0a6" stroke="#200404" stroke-width="0.4" stroke-opacity="0.75"/>
<ellipse cx="304.1" cy="523.4" rx="3.5" ry="4.5" fill="#ec5c64" stroke="#200404" stroke-width="0.4" stroke-opacity="0.75"/>
<ellipse cx="304.1" cy="523.4" rx="2.3" ry="3.0" fill="#f27880" stroke="#200404" stroke-width="0.4" stroke-opacity="0.75"/>
<ellipse cx="304.1" cy="523.4" rx="1.2" ry="1.5" fill="#f7a0a6" stroke="#200404" stroke-width="0.4" stroke-opacity="0.75"/>
<ellipse cx="340.1" cy="567.0" rx="3.0" ry="5.5" fill="#b8e0fc" stroke="#200404" stroke-width="0.4" stroke-opacity="0.75"/>
<ellipse cx="340.1" cy="567.0" rx="2.2" ry="4.1" fill="#5aa8fc" stroke="#200404" stroke-width="0.4" stroke-opacity="0.75"/>
<ellipse cx="340.1" cy="567.0" rx="1.5" ry="2.8" fill="#2878fa" stroke="#200404" stroke-width="0.4" stroke-opacity="0.75"/>
<ellipse cx="340.1" cy="567.0" rx="0.8" ry="1.4" fill="#0a3ee8" stroke="#200404" stroke-width="0.4" stroke-opacity="0.75"/>
<ellipse cx="162.8" cy="296.9" rx="4.2" ry="2.8" fill="#ec5c64" stroke="#200404" stroke-width="0.4" stroke-opacity="0.75"/>
<ellipse cx="145.0" cy="294.9" rx="2.4" ry="2.2" fill="#cc1a14" stroke="#200404" stroke-width="0.4" stroke-opacity="0.75"/>
<ellipse cx="173.3" cy="296.1" rx="2.2" ry="1.8" fill="#ec5c64" stroke="#200404" stroke-width="0.4" stroke-opacity="0.75"/>
<ellipse cx="113.7" cy="319.8" rx="1.8" ry="2.4" fill="#ec5c64" stroke="#200404" stroke-width="0.4" stroke-opacity="0.75"/>
<ellipse cx="470.6" cy="506.5" rx="5.5" ry="4.5" fill="#f27880" stroke="#200404" stroke-width="0.4" stroke-opacity="0.75"/>
<ellipse cx="470.6" cy="506.5" rx="3.7" ry="3.0" fill="#f7a0a6" stroke="#200404" stroke-width="0.4" stroke-opacity="0.75"/>
<ellipse cx="470.6" cy="506.5" rx="1.8" ry="1.5" fill="#f9c4c8" stroke="#200404" stroke-width="0.4" stroke-opacity="0.75"/>
<ellipse cx="388.2" cy="516.3" rx="5.0" ry="4.5" fill="#ec5c64" stroke="#200404" stroke-width="0.4" stroke-opacity="0.75"/>
<ellipse cx="388.2" cy="516.3" rx="3.3" ry="3.0" fill="#f27880" stroke="#200404" stroke-width="0.4" stroke-opacity="0.75"/>
<ellipse cx="388.2" cy="516.3" rx="1.7" ry="1.5" fill="#f7a0a6" stroke="#200404" stroke-width="0.4" stroke-opacity="0.75"/>
<ellipse cx="424.3" cy="505.6" rx="2.5" ry="2.5" fill="#dc3a3c" stroke="#200404" stroke-width="0.4" stroke-opacity="0.75"/>
<ellipse cx="424.3" cy="505.6" rx="1.2" ry="1.2" fill="#ec5c64" stroke="#200404" stroke-width="0.4" stroke-opacity="0.75"/>
<ellipse cx="554.4" cy="602.1" rx="4.0" ry="2.8" fill="#f27880" stroke="#200404" stroke-width="0.4" stroke-opacity="0.75"/>
<ellipse cx="554.4" cy="602.1" rx="3.0" ry="2.1" fill="#f7a0a6" stroke="#200404" stroke-width="0.4" stroke-opacity="0.75"/>
<ellipse cx="554.4" cy="602.1" rx="2.0" ry="1.4" fill="#f9c4c8" stroke="#200404" stroke-width="0.4" stroke-opacity="0.75"/>
<ellipse cx="554.4" cy="602.1" rx="1.0" ry="0.7" fill="#fce4e4" stroke="#200404" stroke-width="0.4" stroke-opacity="0.75"/>
<g fill="none" stroke="#0a0000" stroke-width="0.35" stroke-opacity="0.8">
<ellipse cx="467.9" cy="284.6" rx="1.80" ry="1.60"/>
<ellipse cx="467.9" cy="284.6" rx="2.34" ry="2.08"/>
<ellipse cx="467.9" cy="284.6" rx="2.88" ry="2.56"/>
<ellipse cx="467.9" cy="284.6" rx="3.42" ry="3.04"/>
<ellipse cx="467.9" cy="284.6" rx="3.96" ry="3.52"/>
<ellipse cx="467.9" cy="284.6" rx="4.50" ry="4.00"/>
<ellipse cx="475.5" cy="283.5" rx="1.47" ry="1.38"/>
<ellipse cx="475.5" cy="283.5" rx="2.05" ry="1.92"/>
<ellipse cx="475.5" cy="283.5" rx="2.62" ry="2.46"/>
<ellipse cx="475.5" cy="283.5" rx="3.20" ry="3.00"/>
<ellipse cx="469.4" cy="315.4" rx="2.11" ry="2.11"/>
<ellipse cx="469.4" cy="315.4" rx="2.67" ry="2.67"/>
<ellipse cx="469.4" cy="315.4" rx="3.24" ry="3.24"/>
<ellipse cx="469.4" cy="315.4" rx="3.80" ry="3.80"/>
<ellipse cx="469.4" cy="315.4" rx="4.37" ry="4.37"/>
<ellipse cx="469.4" cy="315.4" rx="4.93" ry="4.93"/>
<ellipse cx="469.4" cy="315.4" rx="5.50" ry="5.50"/>
<ellipse cx="455.8" cy="298.2" rx="1.30" ry="1.14"/>
<ellipse cx="455.8" cy="298.2" rx="1.90" ry="1.67"/>
<ellipse cx="455.8" cy="298.2" rx="2.50" ry="2.20"/>
<ellipse cx="457.5" cy="439.5" rx="1.84" ry="1.15"/>
<ellipse cx="457.5" cy="439.5" rx="2.56" ry="1.60"/>
<ellipse cx="457.5" cy="439.5" rx="3.28" ry="2.05"/>
<ellipse cx="457.5" cy="439.5" rx="4.00" ry="2.50"/>
<ellipse cx="463.5" cy="411.0" rx="1.15" ry="1.61"/>
<ellipse cx="463.5" cy="411.0" rx="1.60" ry="2.24"/>
<ellipse cx="463.5" cy="411.0" rx="2.05" ry="2.87"/>
<ellipse cx="463.5" cy="411.0" rx="2.50" ry="3.50"/>
<ellipse cx="470.6" cy="506.5" rx="1.51" ry="1.22"/>
<ellipse cx="470.6" cy="506.5" rx="1.85" ry="1.50"/>
<ellipse cx="470.6" cy="506.5" rx="2.18" ry="1.77"/>
<ellipse cx="470.6" cy="506.5" rx="2.52" ry="2.04"/>
<ellipse cx="470.6" cy="506.5" rx="2.86" ry="2.31"/>
<ellipse cx="470.6" cy="506.5" rx="3.19" ry="2.58"/>
<ellipse cx="470.6" cy="506.5" rx="3.53" ry="2.86"/>
<ellipse cx="470.6" cy="506.5" rx="3.86" ry="3.13"/>
<ellipse cx="470.6" cy="506.5" rx="4.20" ry="3.40"/>
<ellipse cx="476.0" cy="512.0" rx="1.30" ry="1.04"/>
<ellipse cx="476.0" cy="512.0" rx="1.90" ry="1.52"/>
<ellipse cx="476.0" cy="512.0" rx="2.50" ry="2.00"/>
<ellipse cx="293.0" cy="254.3" rx="1.66" ry="1.66"/>
<ellipse cx="293.0" cy="254.3" rx="2.43" ry="2.43"/>
<ellipse cx="293.0" cy="254.3" rx="3.20" ry="3.20"/>
<ellipse cx="335.5" cy="222.0" rx="1.98" ry="1.66"/>
<ellipse cx="335.5" cy="222.0" rx="2.89" ry="2.43"/>
<ellipse cx="335.5" cy="222.0" rx="3.80" ry="3.20"/>
<ellipse cx="345.6" cy="241.9" rx="1.79" ry="1.54"/>
<ellipse cx="345.6" cy="241.9" rx="2.80" ry="2.40"/>
<ellipse cx="434.8" cy="349.0" rx="1.91" ry="1.53"/>
<ellipse cx="434.8" cy="349.0" rx="2.56" ry="2.04"/>
<ellipse cx="434.8" cy="349.0" rx="3.20" ry="2.56"/>
<ellipse cx="434.8" cy="349.0" rx="3.85" ry="3.08"/>
<ellipse cx="434.8" cy="349.0" rx="4.50" ry="3.60"/>
<ellipse cx="340.0" cy="429.8" rx="2.12" ry="1.70"/>
<ellipse cx="340.0" cy="429.8" rx="2.84" ry="2.27"/>
<ellipse cx="340.0" cy="429.8" rx="3.56" ry="2.85"/>
<ellipse cx="340.0" cy="429.8" rx="4.28" ry="3.42"/>
<ellipse cx="340.0" cy="429.8" rx="5.00" ry="4.00"/>
<ellipse cx="341.2" cy="460.2" rx="1.70" ry="1.70"/>
<ellipse cx="341.2" cy="460.2" rx="2.27" ry="2.27"/>
<ellipse cx="341.2" cy="460.2" rx="2.85" ry="2.85"/>
<ellipse cx="341.2" cy="460.2" rx="3.42" ry="3.42"/>
<ellipse cx="341.2" cy="460.2" rx="4.00" ry="4.00"/>
<ellipse cx="365.0" cy="460.0" rx="1.91" ry="1.48"/>
<ellipse cx="365.0" cy="460.0" rx="2.56" ry="1.99"/>
<ellipse cx="365.0" cy="460.0" rx="3.20" ry="2.49"/>
<ellipse cx="365.0" cy="460.0" rx="3.85" ry="3.00"/>
<ellipse cx="365.0" cy="460.0" rx="4.50" ry="3.50"/>
<ellipse cx="318.5" cy="413.0" rx="1.30" ry="1.82"/>
<ellipse cx="318.5" cy="413.0" rx="1.90" ry="2.66"/>
<ellipse cx="318.5" cy="413.0" rx="2.50" ry="3.50"/>
<ellipse cx="226.5" cy="523.0" rx="1.70" ry="1.53"/>
<ellipse cx="226.5" cy="523.0" rx="2.27" ry="2.04"/>
<ellipse cx="226.5" cy="523.0" rx="2.85" ry="2.56"/>
<ellipse cx="226.5" cy="523.0" rx="3.42" ry="3.08"/>
<ellipse cx="226.5" cy="523.0" rx="4.00" ry="3.60"/>
<ellipse cx="278.7" cy="504.5" rx="1.47" ry="1.66"/>
<ellipse cx="278.7" cy="504.5" rx="2.05" ry="2.30"/>
<ellipse cx="278.7" cy="504.5" rx="2.62" ry="2.95"/>
<ellipse cx="278.7" cy="504.5" rx="3.20" ry="3.60"/>
<ellipse cx="304.1" cy="523.4" rx="1.14" ry="1.46"/>
<ellipse cx="304.1" cy="523.4" rx="1.67" ry="2.13"/>
<ellipse cx="304.1" cy="523.4" rx="2.20" ry="2.80"/>
<ellipse cx="388.2" cy="516.3" rx="1.47" ry="1.29"/>
<ellipse cx="388.2" cy="516.3" rx="2.05" ry="1.79"/>
<ellipse cx="388.2" cy="516.3" rx="2.62" ry="2.30"/>
<ellipse cx="388.2" cy="516.3" rx="3.20" ry="2.80"/>
<ellipse cx="281.0" cy="556.0" rx="1.80" ry="1.40"/>
<ellipse cx="281.0" cy="556.0" rx="2.34" ry="1.82"/>
<ellipse cx="281.0" cy="556.0" rx="2.88" ry="2.24"/>
<ellipse cx="281.0" cy="556.0" rx="3.42" ry="2.66"/>
<ellipse cx="281.0" cy="556.0" rx="3.96" ry="3.08"/>
<ellipse cx="281.0" cy="556.0" rx="4.50" ry="3.50"/>
<ellipse cx="289.0" cy="548.0" rx="1.38" ry="1.84"/>
<ellipse cx="289.0" cy="548.0" rx="1.92" ry="2.56"/>
<ellipse cx="289.0" cy="548.0" rx="2.46" ry="3.28"/>
<ellipse cx="289.0" cy="548.0" rx="3.00" ry="4.00"/>
<ellipse cx="299.0" cy="560.0" rx="1.48" ry="2.12" transform="rotate(20 299.0 560.0)"/>
<ellipse cx="299.0" cy="560.0" rx="1.99" ry="2.84" transform="rotate(20 299.0 560.0)"/>
<ellipse cx="299.0" cy="560.0" rx="2.49" ry="3.56" transform="rotate(20 299.0 560.0)"/>
<ellipse cx="299.0" cy="560.0" rx="3.00" ry="4.28" transform="rotate(20 299.0 560.0)"/>
<ellipse cx="299.0" cy="560.0" rx="3.50" ry="5.00" transform="rotate(20 299.0 560.0)"/>
<ellipse cx="318.0" cy="570.0" rx="1.91" ry="2.68" transform="rotate(20 318.0 570.0)"/>
<ellipse cx="318.0" cy="570.0" rx="2.43" ry="3.40" transform="rotate(20 318.0 570.0)"/>
<ellipse cx="318.0" cy="570.0" rx="2.94" ry="4.12" transform="rotate(20 318.0 570.0)"/>
<ellipse cx="318.0" cy="570.0" rx="3.46" ry="4.84" transform="rotate(20 318.0 570.0)"/>
<ellipse cx="318.0" cy="570.0" rx="3.97" ry="5.56" transform="rotate(20 318.0 570.0)"/>
<ellipse cx="318.0" cy="570.0" rx="4.49" ry="6.28" transform="rotate(20 318.0 570.0)"/>
<ellipse cx="318.0" cy="570.0" rx="5.00" ry="7.00" transform="rotate(20 318.0 570.0)"/>
<ellipse cx="328.0" cy="574.0" rx="2.00" ry="2.40" transform="rotate(-20 328.0 574.0)"/>
<ellipse cx="328.0" cy="574.0" rx="2.60" ry="3.12" transform="rotate(-20 328.0 574.0)"/>
<ellipse cx="328.0" cy="574.0" rx="3.20" ry="3.84" transform="rotate(-20 328.0 574.0)"/>
<ellipse cx="328.0" cy="574.0" rx="3.80" ry="4.56" transform="rotate(-20 328.0 574.0)"/>
<ellipse cx="328.0" cy="574.0" rx="4.40" ry="5.28" transform="rotate(-20 328.0 574.0)"/>
<ellipse cx="328.0" cy="574.0" rx="5.00" ry="6.00" transform="rotate(-20 328.0 574.0)"/>
<ellipse cx="337.0" cy="572.0" rx="1.48" ry="2.59"/>
<ellipse cx="337.0" cy="572.0" rx="1.84" ry="3.22"/>
<ellipse cx="337.0" cy="572.0" rx="2.20" ry="3.85"/>
<ellipse cx="337.0" cy="572.0" rx="2.56" ry="4.48"/>
<ellipse cx="337.0" cy="572.0" rx="2.92" ry="5.11"/>
<ellipse cx="337.0" cy="572.0" rx="3.28" ry="5.74"/>
<ellipse cx="337.0" cy="572.0" rx="3.64" ry="6.37"/>
<ellipse cx="337.0" cy="572.0" rx="4.00" ry="7.00"/>
<ellipse cx="340.2" cy="567.0" rx="1.04" ry="2.20"/>
<ellipse cx="340.2" cy="567.0" rx="1.35" ry="2.86"/>
<ellipse cx="340.2" cy="567.0" rx="1.66" ry="3.52"/>
<ellipse cx="340.2" cy="567.0" rx="1.98" ry="4.18"/>
<ellipse cx="340.2" cy="567.0" rx="2.29" ry="4.84"/>
<ellipse cx="340.2" cy="567.0" rx="2.60" ry="5.50"/>
<ellipse cx="312.0" cy="566.0" rx="1.38" ry="1.84"/>
<ellipse cx="312.0" cy="566.0" rx="1.92" ry="2.56"/>
<ellipse cx="312.0" cy="566.0" rx="2.46" ry="3.28"/>
<ellipse cx="312.0" cy="566.0" rx="3.00" ry="4.00"/>
<ellipse cx="559.5" cy="578.0" rx="2.54" ry="5.51"/>
<ellipse cx="559.5" cy="578.0" rx="3.41" ry="7.38"/>
<ellipse cx="559.5" cy="578.0" rx="4.27" ry="9.26"/>
<ellipse cx="559.5" cy="578.0" rx="5.14" ry="11.13"/>
<ellipse cx="559.5" cy="578.0" rx="6.00" ry="13.00"/>
<ellipse cx="557.0" cy="568.0" rx="1.82" ry="2.60"/>
<ellipse cx="557.0" cy="568.0" rx="2.66" ry="3.80"/>
<ellipse cx="557.0" cy="568.0" rx="3.50" ry="5.00"/>
<ellipse cx="554.0" cy="602.0" rx="1.82" ry="1.30"/>
<ellipse cx="554.0" cy="602.0" rx="2.66" ry="1.90"/>
<ellipse cx="554.0" cy="602.0" rx="3.50" ry="2.50"/>
<ellipse cx="558.5" cy="552.0" rx="1.04" ry="3.12"/>
<ellipse cx="558.5" cy="552.0" rx="1.52" ry="4.56"/>
<ellipse cx="558.5" cy="552.0" rx="2.00" ry="6.00"/>
<ellipse cx="556.5" cy="590.0" rx="1.56" ry="2.08"/>
<ellipse cx="556.5" cy="590.0" rx="2.28" ry="3.04"/>
<ellipse cx="556.5" cy="590.0" rx="3.00" ry="4.00"/>
<ellipse cx="398.5" cy="376.0" rx="2.08" ry="1.30"/>
<ellipse cx="398.5" cy="376.0" rx="3.04" ry="1.90"/>
<ellipse cx="398.5" cy="376.0" rx="4.00" ry="2.50"/>
<ellipse cx="263.0" cy="356.0" rx="1.28" ry="1.28"/>
<ellipse cx="263.0" cy="356.0" rx="2.00" ry="2.00"/>
<ellipse cx="271.0" cy="362.0" rx="1.28" ry="1.28"/>
<ellipse cx="271.0" cy="362.0" rx="2.00" ry="2.00"/>
<ellipse cx="236.0" cy="447.0" rx="1.04" ry="1.82"/>
<ellipse cx="236.0" cy="447.0" rx="1.52" ry="2.66"/>
<ellipse cx="236.0" cy="447.0" rx="2.00" ry="3.50"/>
<ellipse cx="244.5" cy="444.5" rx="1.15" ry="1.15"/>
<ellipse cx="244.5" cy="444.5" rx="1.80" ry="1.80"/>
<ellipse cx="236.0" cy="571.0" rx="1.28" ry="1.28"/>
<ellipse cx="236.0" cy="571.0" rx="2.00" ry="2.00"/>
<ellipse cx="252.0" cy="556.0" rx="1.41" ry="1.28"/>
<ellipse cx="252.0" cy="556.0" rx="2.20" ry="2.00"/>
<ellipse cx="246.0" cy="552.0" rx="1.02" ry="1.02"/>
<ellipse cx="246.0" cy="552.0" rx="1.60" ry="1.60"/>
<ellipse cx="262.0" cy="561.0" rx="1.04" ry="1.25"/>
<ellipse cx="262.0" cy="561.0" rx="1.52" ry="1.82"/>
<ellipse cx="262.0" cy="561.0" rx="2.00" ry="2.40"/>
<ellipse cx="239.0" cy="574.0" rx="1.14" ry="1.14"/>
<ellipse cx="239.0" cy="574.0" rx="1.67" ry="1.67"/>
<ellipse cx="239.0" cy="574.0" rx="2.20" ry="2.20"/>
</g>
<g fill="none" stroke="#0c0000" stroke-width="1.05" stroke-linejoin="round" stroke-opacity="0.95">
<path d="M314.1,186.8 L315.3,189.7 L315.8,192.7 L317.8,195.4 L320.0,197.8 L323.3,199.2 L326.8,200.3 L329.2,201.7 L331.9,202.9"/>
<path d="M297.2,224.3 L299.6,225.3 L302.2,225.7 L305.0,225.2 L307.1,223.3 L309.9,222.7 L312.5,223.8 L315.5,223.5 L318.3,224.9 L320.2,227.2 L322.6,229.1 L325.7,229.4 L328.8,229.8 L331.9,230.8"/>
<path d="M290.9,233.8 L293.1,235.3 L294.6,237.5 L297.0,240.2 L299.7,242.6 L300.9,244.9 L302.2,247.4 L305.2,248.4 L308.2,249.4 L311.7,249.4 L314.9,248.6 L318.2,248.8 L321.7,249.4 L324.3,250.0 L326.7,250.3 L329.4,250.3 L331.9,251.1"/>
<path d="M302.2,247.4 L301.2,250.9 L301.4,254.5 L301.4,257.7 L302.2,261.2 L302.4,263.8 L303.1,266.3"/>
<path d="M258.2,260.4 L261.0,260.7 L263.2,259.6 L265.9,259.6 L267.9,260.8 L270.3,262.1 L273.1,262.5 L275.3,263.6 L277.7,264.6 L280.3,265.4 L282.8,265.8 L285.4,266.0 L287.9,267.2 L290.3,266.0 L292.2,264.2 L294.6,262.9 L297.7,263.8 L300.0,265.6 L303.1,266.3"/>
<path d="M258.2,260.4 L258.6,263.6 L259.9,266.3 L259.6,269.3 L260.6,271.9 L260.8,274.8 L260.8,278.3 L261.6,281.6 L260.8,284.9"/>
<path d="M226.9,263.3 L226.4,266.3 L226.1,269.7 L224.5,271.9 L223.5,274.8 L221.3,277.0 L219.3,279.9 L217.9,282.7 L217.6,285.8 L220.1,287.3 L222.7,288.3 L225.2,287.9 L227.8,287.9 L230.3,288.3 L233.7,286.8 L237.1,285.8 L240.3,284.5 L243.9,283.2 L246.5,282.3 L249.5,282.1 L252.3,281.6 L255.1,282.6 L258.0,283.3 L260.8,284.9"/>
<path d="M303.1,266.3 L302.6,269.5 L301.4,272.2 L299.6,274.2 L298.0,276.5 L294.6,278.2 L296.1,281.5 L296.3,284.9 L297.5,288.3 L298.0,291.7 L296.9,294.4 L297.3,297.6 L296.3,300.2"/>
<path d="M260.8,284.9 L263.4,284.4 L265.8,284.1 L268.4,284.1 L270.9,285.6 L272.5,288.3 L275.2,290.0 L275.0,292.5 L276.0,295.0 L275.7,297.7 L276.0,300.2"/>
<path d="M303.1,266.3 L305.0,268.3 L306.9,270.4 L308.1,272.8 L309.9,274.8 L312.6,275.4 L315.7,275.7 L318.3,276.5 L321.2,275.8 L324.0,275.0 L326.8,274.8 L329.2,275.4 L331.9,275.6"/>
<path d="M217.6,285.8 L215.0,288.6 L213.4,291.7 L211.0,294.0 L208.3,295.9"/>
<path d="M323.3,202.3 L325.6,203.6 L328.4,203.9 L330.9,204.2 L333.5,205.4 L335.6,206.9 L337.3,208.7 L339.1,210.9 L341.1,212.5 L341.2,215.4 L342.5,217.8 L342.8,220.6 L343.0,223.4 L344.4,226.1 L344.5,229.1 L342.8,231.6"/>
<path d="M323.3,230.3 L326.2,230.5 L329.1,230.9 L331.8,230.8 L335.0,229.9 L338.5,229.9 L342.8,231.6"/>
<path d="M342.8,231.6 L345.6,230.9 L348.2,230.5 L351.2,231.4 L353.8,230.8 L356.3,230.8 L358.8,230.7 L361.5,231.2 L363.9,230.8 L366.7,232.0 L369.0,233.5 L371.7,234.1 L374.1,235.9 L376.6,237.0"/>
<path d="M342.8,231.6 L342.7,234.3 L342.6,236.6 L341.9,239.2 L341.7,242.0 L343.1,245.0 L342.8,247.7 L341.9,249.4 L339.0,249.8 L336.3,248.8 L333.5,249.4 L331.0,249.5 L328.5,250.5 L325.8,250.1 L323.3,251.1"/>
<path d="M341.9,249.4 L341.1,252.0 L341.9,255.2 L341.1,257.9 L340.8,260.8 L341.4,263.5 L341.9,266.3 L340.9,269.2 L339.4,271.4 L341.9,274.8 L344.4,277.7 L347.0,279.9 L349.3,282.6 L352.1,284.9 L354.6,288.3 L353.9,291.8 L352.9,295.1 L352.2,298.1 L352.1,301.0"/>
<path d="M376.6,237.0 L375.5,239.4 L375.5,242.2 L374.1,244.3 L372.8,247.6 L371.5,251.1 L371.5,253.8 L371.0,256.1 L370.5,258.5 L370.7,261.2"/>
<path d="M370.7,261.2 L373.2,261.5 L375.8,262.0 L378.3,263.1 L380.9,263.8 L383.3,265.7 L386.4,266.5 L389.3,268.0 L392.0,268.0 L395.0,268.2 L397.8,268.0 L399.3,266.0 L400.7,263.6 L401.2,261.2 L401.7,258.6 L402.2,255.9 L403.5,253.5 L404.6,251.1 L407.3,249.5 L409.6,247.7"/>
<path d="M370.7,261.2 L367.1,261.7 L363.9,262.9 L361.6,265.5 L358.9,268.0 L359.3,271.5 L360.5,274.8 L359.3,277.0 L358.0,279.1 L357.2,281.6 L356.3,285.0 L354.6,288.3"/>
<path d="M397.8,268.0 L397.7,271.0 L399.0,273.7 L399.5,276.5 L399.1,279.3 L398.5,282.0 L398.6,284.9 L399.0,288.4 L400.3,291.7 L400.1,294.8 L399.5,297.8 L399.5,301.0"/>
<path d="M414.7,254.5 L416.3,256.6 L418.0,258.7 L419.8,260.4 L421.0,262.9 L421.3,265.9 L421.2,268.7 L422.3,271.4 L423.1,273.8 L423.2,276.3 L424.1,279.0 L424.0,281.6 L424.4,284.4 L423.7,287.3 L423.2,290.0 L423.6,292.8 L423.7,295.4 L424.9,298.1 L424.9,301.0"/>
<path d="M419.5,257.1 L421.4,259.1 L422.1,262.1 L423.5,264.6 L425.7,266.7 L427.1,268.9 L427.9,271.5 L429.8,273.3 L430.5,275.7 L433.1,277.6 L436.2,278.8 L438.9,280.8 L441.2,282.9 L444.2,283.8 L446.7,285.5 L449.1,287.5 L451.3,289.3 L454.0,290.4 L455.9,292.6 L458.3,293.5 L460.6,294.7 L462.6,296.0 L465.2,297.7"/>
<path d="M456.7,266.4 L458.8,269.3 L460.9,272.3 L459.3,275.2 L458.4,278.2 L460.3,280.8 L461.5,283.4 L463.5,285.9 L463.4,288.9 L464.0,291.7 L464.4,294.7 L465.2,297.7"/>
<path d="M424.9,300.9 L422.0,302.8 L424.8,302.8 L427.9,303.3 L430.5,304.5 L433.2,304.1 L436.0,302.9 L438.9,302.8 L441.2,302.0 L444.0,301.3 L446.5,301.4 L449.1,301.1 L451.0,299.6 L453.5,298.3 L455.9,297.7 L459.1,297.5 L462.2,297.4 L465.2,297.7"/>
<path d="M465.2,297.7 L465.2,300.5 L465.7,303.6 L466.9,306.2 L466.4,309.3 L464.6,311.7 L464.3,314.6 L463.5,317.9 L462.6,321.4 L461.6,323.6 L459.9,325.6 L459.2,328.2 L458.4,331.6"/>
<path d="M465.2,309.6 L467.5,310.7 L470.4,310.4 L472.8,311.2 L475.9,311.8 L478.8,312.6 L482.1,312.9"/>
<path d="M398.3,302.8 L401.3,303.3 L404.2,303.8 L407.1,303.7 L410.2,304.5 L413.4,305.8 L416.1,307.9 L418.0,306.0 L420.1,304.4 L422.0,302.8"/>
<path d="M416.1,307.9 L417.9,311.1 L418.6,314.6 L420.5,316.4 L422.0,318.4 L423.2,320.9 L425.4,322.2 L428.1,322.5 L430.7,322.5 L433.1,323.2 L435.5,323.9"/>
<path d="M435.5,323.9 L439.0,323.6 L442.3,322.2 L445.7,323.0 L449.1,324.8 L451.4,326.7 L454.2,328.2 L456.1,329.9 L458.4,331.6"/>
<path d="M458.4,331.6 L459.7,334.9 L460.9,338.3 L464.3,341.7 L467.7,345.1 L471.1,346.8 L474.5,345.4"/>
<path d="M458.4,331.6 L461.1,331.7 L464.1,331.7 L466.9,331.6 L468.5,333.8 L469.5,336.2 L471.1,338.3 L472.5,341.8 L472.8,345.4"/>
<path d="M435.5,323.9 L435.3,326.4 L434.6,329.2 L433.9,331.6 L431.5,334.1 L428.8,336.6 L426.8,338.1 L424.1,338.7 L422.0,340.0 L421.4,343.3 L420.3,346.8 L418.9,349.2 L416.9,351.0"/>
<path d="M438.9,351.0 L441.2,349.9 L443.8,349.2 L446.4,347.8 L448.6,346.9 L450.8,345.1 L453.2,343.6 L456.0,343.2 L458.4,341.7 L461.5,342.2 L464.3,341.7"/>
<path d="M139.9,286.1 L139.7,288.7 L139.1,291.1 L139.3,293.7 L139.7,296.7 L140.1,299.4 L140.7,302.2 L139.6,305.5 L138.2,308.9 L136.8,311.4 L135.6,314.0 L136.7,316.5 L137.3,319.1 L138.8,321.7 L139.9,324.2 L142.4,326.7"/>
<path d="M135.6,314.0 L138.5,312.9 L141.5,311.5 L145.8,309.8 L148.3,311.0 L151.1,310.4 L153.4,311.5 L155.9,312.3 L158.6,312.5 L161.4,312.8 L163.9,313.7 L166.8,313.9 L169.5,314.0 L172.3,313.5 L174.8,312.7 L177.2,311.5 L179.6,310.6 L182.3,309.4 L184.6,308.0 L186.8,306.2 L188.9,304.4"/>
<path d="M189.8,292.0 L189.2,295.0 L188.9,297.9 L189.1,301.0 L188.9,304.4"/>
<path d="M188.9,304.4 L187.0,306.3 L184.9,308.0 L182.9,310.4 L181.3,312.3 L179.7,315.5 L178.8,319.1 L179.7,322.2 L181.6,324.8 L182.7,327.5 L182.6,330.9 L181.3,334.3 L183.9,337.7"/>
<path d="M183.9,337.7 L186.3,336.8 L188.8,336.4 L191.5,336.0 L194.5,335.5 L197.3,334.0 L199.9,332.6 L203.3,332.8 L206.7,333.5 L209.5,333.2 L211.8,334.3"/>
<path d="M183.9,337.7 L182.0,340.6 L179.6,342.8 L177.4,344.3 L174.6,345.3 L172.0,347.9"/>
<path d="M216.0,308.1 L215.5,311.4 L213.5,314.2 L212.6,317.4 L212.6,320.3 L212.8,323.0 L213.5,325.9 L212.2,328.7 L211.6,331.3 L211.5,334.3"/>
<path d="M211.8,334.3 L212.2,337.7 L213.5,341.1 L211.6,343.7 L210.1,346.2 L212.2,348.5 L213.5,351.2 L210.7,352.8 L208.4,354.6 L209.0,357.0 L210.4,359.5 L211.8,361.4 L214.3,362.6 L216.0,364.8"/>
<path d="M183.0,368.2 L185.1,369.4 L187.8,369.9 L189.8,371.6 L193.3,372.2 L196.6,373.2 L198.6,370.9 L199.9,368.2 L203.4,367.3 L206.7,366.5 L209.1,363.6 L211.8,361.4"/>
<path d="M203.3,295.4 L205.9,297.2 L208.4,298.8 L210.9,299.4 L213.4,299.5 L216.0,300.5"/>
<path d="M218.8,280.2 L220.6,283.2 L223.0,286.1 L225.5,290.3 L225.4,293.2 L224.7,295.9 L224.3,298.4 L223.9,301.3"/>
<path d="M200.2,295.4 L202.4,296.6 L204.7,297.7 L206.9,298.8 L209.8,299.5 L212.7,300.0 L215.4,301.3 L218.4,301.7 L220.9,301.6 L223.9,301.3 L226.6,300.6 L229.6,301.1 L232.3,300.5 L235.2,300.0 L237.9,299.6 L240.8,299.6 L243.6,301.5 L245.9,303.9"/>
<path d="M225.5,290.3 L228.6,289.7 L230.8,287.4 L234.0,286.9 L236.7,286.8 L239.2,286.1 L241.6,284.4 L244.2,284.4 L246.6,283.6 L249.1,282.7 L251.7,282.1 L254.3,281.8 L258.0,281.2 L261.1,279.3 L262.6,282.3 L264.5,285.2 L266.9,287.0 L269.6,288.6 L271.2,292.0 L272.7,294.1 L273.2,296.5 L274.6,298.8 L274.0,302.3 L272.9,305.5 L273.4,309.1 L274.6,312.3 L275.1,315.7 L276.3,319.1"/>
<path d="M245.9,303.9 L249.2,303.1 L252.6,303.0 L256.2,303.5 L259.4,304.7 L261.1,307.3 L263.0,309.8 L264.5,312.3 L267.0,314.7 L269.2,316.6 L271.2,319.1 L273.6,319.2 L276.3,319.1"/>
<path d="M215.4,301.3 L215.4,304.6 L216.0,307.6 L216.2,310.6 L215.2,313.5 L214.9,316.4 L213.7,319.1 L213.0,321.9 L212.7,324.8 L212.0,327.5 L211.4,330.9 L210.3,334.3"/>
<path d="M245.9,303.9 L244.9,306.9 L244.2,309.9 L242.5,312.3 L241.4,314.7 L240.6,317.2 L239.1,319.1 L238.1,321.8 L237.3,324.7 L236.5,327.5 L235.7,331.0 L235.7,334.3"/>
<path d="M210.3,334.3 L213.0,333.4 L216.0,333.3 L218.8,333.5 L221.5,334.0 L224.4,334.2 L227.2,335.2 L230.0,334.5 L232.9,335.2 L235.7,334.3 L238.4,335.6 L240.8,337.7 L242.7,339.2 L245.4,339.8 L247.5,341.1 L251.1,341.9 L254.3,343.6"/>
<path d="M276.3,319.1 L274.8,322.2 L273.8,325.9 L272.7,329.2 L271.2,332.6 L269.1,335.5 L266.2,337.7 L263.6,339.1 L261.1,341.1 L257.4,342.2 L254.3,343.6 L255.3,346.5 L255.2,349.6"/>
<path d="M255.2,349.6 L253.7,351.8 L252.1,354.2 L250.9,356.3 L249.9,359.0 L249.7,362.1 L249.2,364.8 L250.8,367.5 L252.6,369.9"/>
<path d="M255.2,349.6 L257.5,348.2 L259.6,346.6 L261.1,344.5 L263.2,345.9 L265.5,347.1 L267.9,347.9 L269.4,350.1 L270.4,352.1 L271.2,354.6 L273.8,356.7 L276.1,359.1 L278.0,361.4 L281.3,362.6 L284.8,363.1"/>
<path d="M271.2,332.6 L273.1,334.2 L275.7,335.3 L278.0,336.0 L280.2,338.8 L282.2,341.1 L283.2,343.8 L284.8,346.2"/>
<path d="M282.2,341.1 L284.8,339.6 L287.5,339.0 L289.9,337.7 L292.5,335.1 L294.9,332.6 L296.5,330.3 L298.0,328.4 L299.2,325.9"/>
<path d="M294.1,276.8 L293.6,279.4 L292.8,281.7 L292.9,284.4 L292.6,287.1 L292.3,289.6 L291.6,292.0 L293.2,294.2 L294.0,297.1 L295.5,299.2 L297.3,301.4 L298.3,303.9 L297.5,307.5 L295.8,310.6 L296.4,313.1 L296.7,315.6 L297.3,318.1 L298.5,320.8 L298.9,323.2 L299.2,325.9"/>
<path d="M284.8,346.2 L287.2,347.2 L289.3,348.1 L291.6,349.6 L293.4,351.7 L296.3,352.7 L298.3,354.6 L301.4,355.8 L304.1,357.7 L306.8,359.7 L311.0,358.0"/>
<path d="M188.3,369.0 L190.7,369.6 L193.3,370.2 L195.9,370.3 L198.5,371.6 L201.1,369.6 L204.0,368.0 L206.9,366.5 L208.8,368.1 L211.2,369.4"/>
<path d="M210.3,334.3 L210.8,337.3 L211.9,340.0 L212.0,342.8 L213.9,345.3 L215.4,347.9 L213.4,350.5 L211.1,352.8 L208.6,354.6 L208.0,357.0 L207.5,359.7 L207.8,362.4 L206.9,364.8 L209.5,366.6 L211.2,369.4 L214.1,370.4 L217.5,370.7 L220.5,370.7 L221.5,373.8 L222.2,377.0 L223.9,380.0 L224.4,382.8 L224.8,385.6 L226.0,388.2 L226.4,391.0"/>
<path d="M220.5,370.7 L222.9,369.7 L225.4,369.2 L227.6,368.2 L229.9,367.5 L232.3,366.5 L235.2,366.7 L238.1,366.9 L240.8,368.2 L243.4,369.7 L245.9,371.6 L245.3,374.4 L244.9,377.1 L245.0,380.0 L245.3,382.8 L245.8,385.5 L245.4,388.2 L245.9,391.0"/>
<path d="M252.6,369.9 L255.3,370.2 L257.7,371.6 L260.0,372.8 L262.3,373.9 L264.5,374.9 L267.0,376.5 L269.6,378.3 L270.9,381.5 L271.6,385.1"/>
<path d="M284.8,363.1 L283.1,365.2 L281.1,367.3 L279.7,369.9 L277.8,372.7 L276.2,375.6 L274.6,378.3 L273.2,381.6 L271.6,385.1 L273.2,388.2 L274.6,391.0"/>
<path d="M300.2,270.2 L303.2,270.1 L305.9,271.0 L308.6,271.8 L311.2,273.2 L314.3,273.1 L317.1,274.4 L320.4,274.0 L323.9,272.7 L327.3,274.1 L330.6,275.2 L333.0,274.2 L336.0,274.1 L338.3,273.1 L340.8,271.8 L342.5,268.5 L342.2,265.8 L341.9,263.3 L341.4,260.7 L340.8,258.3"/>
<path d="M313.7,282.0 L316.0,281.0 L318.3,279.7 L320.5,278.6 L323.0,279.2 L325.5,279.8 L328.1,281.2 L329.2,283.7 L328.7,286.3 L329.8,288.8 L327.9,291.1 L326.4,293.9 L323.9,294.3 L321.5,295.5 L318.8,295.5 L315.8,293.5 L312.9,291.3 L313.1,288.4 L313.5,285.2 L313.7,282.0"/>
<path d="M316.7,285.4 L320.5,283.4 L324.4,285.4 L324.7,289.1 L320.8,291.1 L317.1,289.6 L316.7,285.4"/>
<path d="M293.4,276.9 L296.1,277.7 L298.0,278.6 L300.2,280.3 L303.1,280.1 L305.9,279.1 L308.6,278.6 L311.1,280.4 L313.7,282.0"/>
<path d="M312.9,291.3 L312.0,293.8 L310.3,296.2 L308.5,298.1 L307.8,300.6 L307.5,303.2 L308.8,305.6 L308.9,308.2 L308.6,310.8 L311.1,312.1 L313.1,314.1 L315.4,315.9 L318.4,316.8 L320.7,318.8 L323.9,319.2"/>
<path d="M298.3,303.8 L300.9,305.3 L303.2,307.9 L305.8,309.5 L308.6,310.8"/>
<path d="M326.4,293.9 L326.5,296.4 L327.5,299.0 L327.7,301.5 L328.1,304.0 L327.1,306.6 L326.5,309.5 L326.4,312.5 L325.5,315.9 L323.9,319.2"/>
<path d="M342.5,268.5 L343.9,271.2 L345.3,273.9 L345.5,277.1 L347.0,279.8 L349.2,282.5 L351.9,284.9 L352.7,287.8 L353.7,290.9 L355.2,293.9 L354.7,296.4 L353.0,298.4 L351.8,300.6 L352.6,303.1 L353.3,305.6 L353.5,308.2"/>
<path d="M354.7,288.3 L356.4,285.0 L357.2,281.5 L358.0,279.1 L359.2,276.6 L360.6,274.7 L360.1,271.2 L358.9,268.0 L361.5,265.3 L364.0,262.9 L367.4,262.3 L370.7,261.2"/>
<path d="M353.5,308.2 L350.4,308.4 L347.3,309.4 L344.2,309.1 L342.2,311.9 L341.4,314.7 L339.9,317.5 L340.4,321.2 L341.6,324.3 L338.6,325.7 L335.7,327.7 L333.1,326.1 L331.4,324.2 L328.9,322.6 L326.6,321.0 L323.9,319.2"/>
<path d="M355.2,299.8 L357.7,300.6 L360.3,301.7 L362.8,302.3 L365.7,301.4 L368.3,301.0 L371.2,299.8 L373.9,300.7 L376.6,301.9 L379.7,302.3 L383.0,301.3 L386.5,300.6 L389.8,302.3 L393.2,303.2 L396.5,302.6 L399.5,301.0"/>
<path d="M397.8,268.0 L398.7,270.8 L398.7,273.6 L399.5,276.4 L398.8,279.3 L399.0,282.2 L398.7,284.9 L399.0,288.4 L400.4,291.7 L400.3,294.8 L399.3,298.0 L399.5,301.0 L401.9,301.7 L404.4,302.7 L406.8,304.0 L411.0,302.3"/>
<path d="M393.2,303.2 L394.6,305.7 L396.7,308.1 L398.3,310.8 L397.2,313.6 L397.4,316.5 L396.6,319.2 L397.6,322.2 L398.5,325.1 L400.0,327.7 L399.6,331.0 L398.3,334.5"/>
<path d="M353.5,308.2 L356.3,310.3 L359.4,312.5 L360.8,315.1 L362.5,317.1 L364.5,319.2 L366.3,322.0 L367.5,325.2 L369.6,327.7 L372.0,327.8 L374.6,327.9 L377.2,327.9 L379.7,327.7 L381.2,330.1 L382.2,332.8 L384.6,333.9 L387.4,334.6 L389.9,336.2 L392.7,336.0 L395.5,334.9 L398.3,334.5"/>
<path d="M341.6,324.3 L341.4,327.2 L340.5,330.1 L339.1,332.8 L338.7,335.4 L337.9,338.5 L338.2,341.2 L339.6,343.8 L340.8,346.3"/>
<path d="M293.4,327.7 L294.0,330.8 L295.5,333.3 L296.8,336.2 L299.5,338.2 L302.3,340.0 L305.2,341.2 L307.7,341.7 L310.3,343.2 L312.8,343.9 L315.4,344.6 L318.5,344.1 L321.2,344.2 L324.2,343.5 L327.2,342.9 L329.9,342.0 L332.9,342.3 L335.5,341.9 L338.2,341.2"/>
<path d="M340.8,346.3 L343.9,346.4 L346.5,345.3 L349.2,344.6 L352.1,345.9 L354.8,347.3 L357.7,348.0 L360.3,348.8 L361.9,350.7 L364.5,351.4 L367.2,352.5 L369.9,353.8 L372.9,354.8 L373.4,357.4 L374.6,359.9"/>
<path d="M382.2,332.8 L380.8,335.6 L381.1,338.6 L379.7,341.2 L379.2,343.9 L377.8,345.8 L376.3,348.0 L375.9,350.8 L375.1,353.9 L375.3,356.9 L374.6,359.9"/>
<path d="M340.8,346.3 L340.7,349.3 L340.1,352.0 L339.1,354.8 L339.9,357.3 L340.2,359.7 L340.5,362.4 L340.8,364.9 L340.6,367.6 L340.8,370.2 L341.6,373.1 L341.9,375.6 L342.3,378.3 L342.5,381.0"/>
<path d="M306.9,341.2 L306.1,344.0 L305.9,346.9 L305.2,349.7 L307.6,351.3 L309.8,352.7 L312.0,354.8 L310.5,356.8 L310.1,359.4 L308.6,361.6 L306.2,363.3 L303.5,364.9 L304.6,367.5 L305.0,370.1 L306.5,372.6 L306.9,375.1 L308.7,377.0 L309.8,379.4 L312.0,381.0"/>
<path d="M374.6,359.9 L375.7,362.8 L377.0,365.5 L378.0,368.3 L377.2,370.7 L375.1,372.5 L374.6,375.1 L375.9,378.3 L378.0,381.0"/>
<path d="M394.4,321.7 L396.4,323.8 L397.5,326.8 L398.7,329.4 L400.3,331.8 L400.0,334.8 L400.8,337.7 L401.2,340.3 L403.6,341.2 L406.6,341.6 L409.1,342.4 L412.0,342.7 L414.7,342.9 L416.4,343.7 L416.5,346.4 L417.1,348.8 L417.5,351.5 L418.4,353.7 L418.9,356.4"/>
<path d="M416.4,343.7 L418.1,341.4 L420.5,339.5 L422.3,336.9 L424.9,336.3 L427.2,335.2 L429.1,333.5 L430.9,330.8 L433.3,329.0 L435.9,326.8"/>
<path d="M418.9,356.4 L421.8,355.7 L423.9,354.0 L426.3,353.1 L429.1,352.2 L432.2,351.4 L434.7,350.4 L437.5,348.8 L440.1,347.5 L442.7,347.1 L445.1,346.3 L447.7,345.4 L450.3,344.1 L453.2,343.3 L456.2,342.9 L457.0,340.1 L458.1,337.7 L459.6,335.2 L461.0,332.7 L462.9,330.2 L465.4,331.0 L468.0,331.8"/>
<path d="M418.9,356.4 L421.1,357.7 L423.1,359.4 L424.8,361.2 L427.4,362.3 L428.9,364.4 L429.7,366.9 L430.8,369.1 L433.0,370.2 L435.7,371.0 L437.5,372.5 L439.8,374.7 L442.6,375.9 L445.1,376.5 L447.7,377.5"/>
<path d="M418.9,356.4 L418.2,359.0 L417.0,361.5 L416.4,364.0 L415.5,367.7 L413.9,370.8 L414.7,374.3 L416.4,377.5 L416.2,380.9 L415.5,384.3"/>
<path d="M415.5,384.3 L417.8,385.7 L419.7,387.1 L422.3,387.7 L425.3,386.9 L427.9,387.2 L430.8,386.0 L432.9,387.8 L435.6,389.1 L437.5,391.1 L438.7,394.5 L439.2,397.9"/>
<path d="M378.3,362.3 L381.2,363.3 L384.1,364.7 L386.8,365.7 L389.7,365.2 L392.3,364.2 L395.2,364.0 L398.3,364.7 L401.0,366.0 L403.7,367.4 L406.4,367.9 L408.6,369.3 L411.4,369.9 L413.9,370.8"/>
<path d="M415.5,384.3 L414.4,387.0 L412.4,389.2 L410.5,391.1 L408.2,392.4 L405.4,392.8 L403.6,394.9 L403.7,397.6 L402.0,399.6 L398.5,400.6 L395.2,401.2 L392.4,402.8 L390.2,404.6 L387.7,403.5 L385.1,402.9 L381.7,403.7 L378.3,404.6"/>
<path d="M402.0,399.6 L402.9,402.6 L404.1,405.2 L405.4,408.0 L406.9,410.4 L408.4,412.8 L410.5,414.8 L412.9,416.4 L414.6,418.5 L417.2,419.9 L420.7,421.0 L424.0,421.6 L426.3,419.0 L428.9,417.3 L430.8,414.8 L431.4,417.3 L432.5,419.5 L434.2,421.6 L435.9,424.9"/>
<path d="M435.9,424.9 L436.2,422.1 L437.4,419.4 L437.5,416.5 L438.0,413.8 L438.6,410.8 L438.4,408.0 L439.3,404.8 L440.1,401.2"/>
<path d="M385.1,402.9 L385.7,405.9 L385.7,408.7 L386.8,411.4 L385.9,414.5 L384.6,417.2 L383.4,419.9 L385.3,422.6 L386.7,425.4 L388.5,428.3 L391.0,430.4 L392.7,432.9 L395.2,435.1 L396.4,438.4 L398.6,441.0"/>
<path d="M417.2,419.9 L415.6,421.8 L415.0,424.6 L413.9,426.6 L411.6,427.5 L409.0,428.4 L407.1,430.0 L404.5,432.3 L402.0,435.1 L400.1,437.8 L398.6,441.0"/>
<path d="M437.5,416.5 L440.7,417.3 L444.3,418.2 L446.6,419.5 L448.8,420.6 L451.1,421.6 L454.7,420.9 L457.9,419.9 L460.3,418.9 L462.3,417.1 L464.6,416.5"/>
<path d="M435.9,424.9 L438.3,427.7 L440.9,430.0 L442.9,432.0 L445.4,433.7 L447.7,435.1 L449.1,438.1 L451.1,441.0"/>
<path d="M222.5,368.3 L222.6,371.1 L223.4,374.1 L223.7,377.2 L223.8,380.0 L224.2,382.9 L225.5,385.4 L225.8,388.3 L226.4,391.0 L225.7,393.5 L225.3,396.3 L224.5,398.8 L223.3,401.3"/>
<path d="M209.8,402.2 L212.6,400.3 L215.7,399.6 L218.2,400.3 L220.8,400.7 L223.3,401.3 L224.2,404.0 L225.8,406.6 L227.5,408.9 L230.0,410.3 L232.1,412.6 L234.3,414.0 L236.5,415.1 L238.7,416.1 L241.1,417.4"/>
<path d="M245.3,368.3 L245.4,371.2 L244.7,374.2 L245.2,377.1 L245.0,380.0 L244.8,382.8 L245.1,385.5 L245.9,388.2 L245.8,391.0 L244.5,395.4 L245.2,397.8 L246.5,400.1 L247.9,402.2 L247.3,405.1 L247.1,408.0 L246.2,410.6 L244.4,412.9 L242.9,415.2 L241.1,417.4"/>
<path d="M247.9,402.2 L251.0,400.9 L254.6,400.5 L257.2,401.1 L259.4,402.1 L261.4,403.9 L262.7,407.1 L263.1,410.6"/>
<path d="M263.1,410.6 L264.3,407.9 L266.4,406.0 L268.2,403.9 L269.4,401.0 L270.9,398.2 L271.6,395.4 L273.9,393.2 L275.9,390.5 L278.3,388.6 L277.2,385.2 L276.6,381.8 L273.9,379.6 L271.6,376.8 L270.5,373.9 L270.6,371.1 L269.9,368.3"/>
<path d="M263.1,410.6 L265.2,413.1 L267.9,415.0 L269.9,417.4 L270.6,420.0 L270.9,423.0 L271.6,425.9 L269.1,428.3 L266.5,430.9"/>
<path d="M266.5,430.9 L265.3,433.5 L263.5,435.7 L261.4,437.7 L258.9,439.8 L256.6,441.8 L254.6,444.5 L252.4,446.5 L250.7,448.5 L249.6,451.2 L247.0,453.1 L244.5,454.6"/>
<path d="M241.1,417.4 L238.5,420.0 L236.0,422.5 L233.8,425.3 L230.9,427.5 L231.7,430.6 L233.5,433.1 L234.3,436.0 L235.7,439.0 L237.7,441.1 L237.2,444.5 L236.0,447.9 L238.7,450.1 L241.1,452.9 L244.5,454.6"/>
<path d="M210.6,436.0 L213.6,437.7 L216.4,439.3 L219.1,441.1 L220.9,443.1 L223.0,444.9 L225.2,446.5 L227.5,447.9 L230.4,450.1 L232.6,452.9 L235.7,453.0 L238.4,453.6 L241.4,454.7 L244.5,454.6"/>
<path d="M244.5,454.6 L245.5,457.4 L245.3,460.5 L246.2,463.1 L245.3,465.5 L243.6,467.6 L242.8,469.9 L245.6,472.3 L247.9,474.9 L247.2,478.5 L246.2,481.7 L247.2,484.2 L248.5,486.0 L249.6,488.5"/>
<path d="M266.5,430.9 L269.4,432.2 L272.1,432.9 L274.9,434.3 L277.4,436.0 L279.7,437.2 L281.7,439.4 L284.6,441.7 L286.8,444.5 L291.0,446.2"/>
<path d="M286.8,444.5 L286.7,446.9 L285.5,449.5 L285.0,452.1 L285.1,454.6 L285.8,457.6 L287.9,460.1 L288.5,463.1 L291.0,466.5"/>
<path d="M249.6,488.5 L252.2,488.2 L255.2,487.0 L258.0,486.8 L260.3,485.1 L262.3,483.1 L264.8,481.7 L268.1,482.4 L271.6,483.4 L274.2,481.4 L277.4,480.1 L280.0,478.3 L282.1,476.8 L284.4,476.0 L286.8,474.9 L289.0,473.5 L291.0,471.6"/>
<path d="M204.7,480.0 L207.8,479.4 L210.8,478.6 L214.0,478.3 L216.2,479.1 L218.5,480.8 L220.8,481.7 L223.7,482.9 L226.3,485.1 L229.2,486.8 L232.2,488.2 L234.6,490.2 L237.7,491.0"/>
<path d="M249.6,488.5 L246.2,491.9"/>
<path d="M276.6,381.8 L279.7,382.9 L282.5,383.5 L285.1,385.2 L288.0,384.0 L291.0,383.5"/>
<path d="M268.3,379.3 L270.6,380.3 L272.6,382.1 L274.8,383.5 L276.8,385.2 L279.2,386.8 L281.2,389.0 L283.5,390.3 L285.1,393.3 L286.6,396.0 L288.6,398.8 L290.3,399.6 L292.8,399.1 L295.3,398.4 L298.1,398.2 L300.5,397.9 L303.3,398.9 L306.2,398.6 L308.9,399.6 L312.3,398.2 L315.7,397.9"/>
<path d="M311.5,368.3 L312.0,371.1 L312.5,373.9 L313.6,376.8 L313.3,379.6 L314.3,382.5 L314.9,385.2 L315.7,387.8 L315.2,390.2 L315.8,392.8 L315.4,395.5 L315.7,397.9 L318.0,396.3 L320.6,394.8 L323.2,393.5 L325.9,392.0 L327.8,390.1 L330.5,389.1 L332.3,386.9 L334.3,385.2 L337.0,383.9 L339.4,381.8 L340.8,379.6 L341.1,376.8 L341.7,374.0 L341.7,370.9 L342.8,368.3"/>
<path d="M315.7,397.9 L318.0,400.0 L319.1,402.7 L320.8,405.5 L323.2,407.8 L325.3,410.1 L327.5,412.3 L327.3,415.9 L325.9,419.1"/>
<path d="M290.3,399.6 L290.5,402.9 L291.4,405.8 L292.0,408.9 L293.5,411.7 L293.9,414.8 L295.4,417.4 L297.5,419.7 L299.6,422.4 L302.2,424.2 L303.9,426.5 L305.5,429.2 L308.9,430.9 L312.0,429.8 L314.4,428.6 L317.4,427.5 L319.9,425.8 L321.9,423.3 L324.1,421.4 L325.9,419.1"/>
<path d="M327.5,412.3 L330.0,411.3 L331.8,409.2 L334.3,408.1 L337.0,408.7 L339.4,409.8 L341.7,411.2 L344.3,412.1 L346.2,414.0 L349.0,413.6 L351.7,414.4 L354.6,414.0 L357.1,414.8 L359.2,416.4 L361.4,417.4 L363.5,415.1 L364.8,412.3"/>
<path d="M364.8,412.3 L366.1,409.5 L367.9,406.7 L369.9,403.9 L370.0,400.9 L370.6,398.0 L371.6,395.4 L370.7,392.5 L368.9,389.9 L368.2,386.9 L369.0,383.8 L370.4,381.3 L371.6,378.5 L372.3,375.8 L373.5,373.7 L374.5,371.1 L374.9,368.3"/>
<path d="M325.9,419.1 L326.7,421.8 L327.7,424.7 L329.2,427.5 L329.0,430.2 L328.7,433.2 L327.5,436.0 L330.0,437.8 L332.4,440.5 L334.3,442.8 L337.4,444.2 L341.1,444.5 L344.0,445.2 L346.6,446.9 L349.6,447.9 L352.3,447.8 L355.3,446.9 L358.0,446.2 L360.4,444.8 L363.1,443.9 L365.7,443.6 L368.2,442.8"/>
<path d="M364.8,412.3 L365.0,415.1 L366.1,417.9 L366.5,420.8 L367.3,423.8 L368.8,426.3 L369.9,429.2 L370.4,432.0 L370.8,434.9 L371.6,437.7 L369.9,440.5 L368.2,442.8"/>
<path d="M308.9,430.9 L306.1,432.3 L303.0,432.9 L300.5,434.3 L297.7,435.7 L295.1,437.1 L292.0,437.7 L289.8,439.6 L287.4,440.6 L285.2,442.8 L282.7,440.3 L280.2,437.7 L278.1,436.4 L275.6,435.5 L273.4,434.3 L271.2,432.4 L268.3,430.9"/>
<path d="M285.2,442.8 L285.4,445.6 L286.8,448.4 L286.9,451.2 L286.3,453.9 L285.1,456.8 L285.2,459.7 L287.7,462.2 L290.3,464.8 L289.6,468.2 L288.6,471.6"/>
<path d="M327.5,436.0 L326.6,438.3 L325.3,440.6 L324.2,442.8 L324.4,445.7 L325.0,448.7 L325.9,451.2 L324.2,453.2 L322.6,455.8 L320.8,458.0 L319.6,460.7 L316.9,462.3 L315.7,464.8 L313.7,467.0 L312.3,469.9"/>
<path d="M288.6,471.6 L291.2,470.3 L294.2,470.4 L297.1,469.9 L299.6,469.0 L301.5,467.3 L303.9,466.5 L306.5,467.9 L309.4,468.6 L312.3,469.9 L312.7,472.8 L312.9,475.6 L314.0,478.3 L316.2,479.6 L318.4,480.9 L320.8,481.7 L323.0,484.0 L325.4,486.2 L327.5,488.5 L330.9,491.0"/>
<path d="M349.6,447.9 L348.1,450.7 L346.9,453.2 L346.2,456.3 L347.6,458.7 L349.9,460.3 L351.2,463.1 L350.5,466.0 L350.4,468.7 L349.6,471.6 L346.7,472.6 L344.5,474.9 L342.6,476.6 L340.2,477.6 L337.7,478.3 L336.9,480.7 L334.9,482.7 L334.3,485.1 L332.7,488.1 L330.9,491.0"/>
<path d="M368.2,442.8 L370.6,443.9 L372.5,445.1 L374.9,446.2 L378.4,446.0 L381.7,444.5 L384.1,447.3 L386.8,449.6 L388.6,446.8 L391.0,444.5"/>
<path d="M386.8,449.6 L385.9,452.5 L385.1,455.5 L383.4,458.0 L381.9,460.8 L379.7,463.5 L378.3,466.5 L375.9,467.6 L373.5,469.6 L371.6,471.6 L369.3,473.5 L366.5,474.9"/>
<path d="M344.5,474.9 L347.2,474.5 L349.4,473.1 L352.2,472.8 L354.6,471.6 L357.2,472.4 L359.0,474.2 L361.4,474.9 L364.1,474.9 L366.5,474.9"/>
<path d="M288.6,471.6 L287.4,474.4 L286.2,477.2 L285.2,480.0 L282.7,482.5 L280.2,485.1 L278.7,488.3 L276.8,491.0"/>
<path d="M204.7,480.0 L207.8,479.8 L211.0,479.4 L214.0,478.3 L216.1,479.9 L218.5,481.0 L220.8,481.7 L223.6,483.5 L226.4,485.1 L229.3,486.8 L231.8,488.8 L235.1,489.7 L237.7,491.7 L242.6,491.2"/>
<path d="M242.6,491.2 L244.0,488.6 L244.9,485.7 L245.2,482.7 L247.1,481.1 L248.5,478.8 L250.2,476.8 L254.5,474.7 L255.3,472.0 L256.2,469.2"/>
<path d="M254.5,474.7 L256.8,475.6 L258.7,477.5 L261.2,478.5 L263.2,480.1 L265.9,480.3 L268.0,481.8 L270.5,483.1 L272.4,485.4 L274.8,486.9"/>
<path d="M242.6,491.2 L241.6,494.1 L240.9,497.1 L237.5,500.5 L239.6,501.8 L241.8,503.2 L244.3,503.9"/>
<path d="M244.3,503.9 L242.0,506.7 L239.2,508.9 L235.9,512.3 L234.5,515.6 L234.2,519.1 L233.0,522.5 L232.5,525.9 L230.8,527.5"/>
<path d="M194.4,525.9 L197.4,526.8 L200.3,528.4 L203.0,528.3 L205.8,528.5 L208.8,529.2 L211.4,528.1 L214.5,527.4 L217.2,526.7 L220.1,527.4 L222.8,528.3 L225.7,528.4 L228.3,527.9 L230.8,527.5 L233.5,527.2 L236.4,527.4 L239.2,527.5"/>
<path d="M244.3,503.9 L246.5,505.3 L249.1,505.7 L251.1,507.2 L253.7,506.5 L256.9,506.5 L259.6,505.5 L262.2,504.4 L265.2,503.4 L268.0,503.0 L271.4,506.4"/>
<path d="M271.4,506.4 L272.3,504.1 L272.7,501.3 L273.1,498.8 L274.6,496.6 L275.2,494.3 L276.5,492.0 L276.2,489.2 L274.8,486.9"/>
<path d="M271.4,506.4 L272.1,509.2 L274.0,511.4 L274.8,514.0 L277.6,515.4 L279.9,517.4"/>
<path d="M279.9,517.4 L279.6,520.8 L278.2,524.2 L276.7,526.9 L274.8,529.2 L272.7,531.3 L269.7,532.6 L266.8,534.9 L264.6,537.7 L261.2,541.1"/>
<path d="M261.2,541.1 L259.0,539.7 L256.7,539.0 L254.5,537.7 L252.2,536.4 L249.9,535.7 L247.7,534.3 L246.3,531.6 L244.3,529.2 L241.7,528.7 L239.2,527.5"/>
<path d="M239.2,527.5 L240.3,529.9 L241.4,532.1 L242.6,534.3 L241.4,536.4 L240.5,538.9 L239.2,541.1 L238.6,543.4 L236.5,545.4 L235.9,547.9 L235.0,551.3 L234.2,554.6 L230.8,558.0"/>
<path d="M261.2,541.1 L260.6,544.7 L259.6,547.9 L260.3,551.4 L261.2,554.6 L260.6,557.1 L258.8,559.2 L257.9,561.4 L257.0,564.3 L257.0,567.3"/>
<path d="M281.6,528.4 L282.8,531.2 L284.9,533.4 L286.6,536.0 L288.0,539.2 L288.3,542.8 L285.9,543.8 L283.6,544.8 L281.6,546.2 L279.3,548.8 L276.5,551.2 L273.9,552.6 L271.4,554.6 L269.1,556.9 L268.0,559.7 L266.5,562.2 L264.6,564.8"/>
<path d="M279.9,517.4 L283.5,517.1 L286.6,515.7 L288.9,514.3 L291.0,513.1 L293.4,512.3 L296.0,511.5 L298.3,510.7 L301.0,510.6"/>
<path d="M274.8,486.9 L277.2,487.6 L279.3,489.6 L281.6,490.3 L284.6,490.4 L287.4,489.7 L290.0,488.6 L292.7,489.3 L295.7,489.9 L298.5,490.3 L301.0,486.9"/>
<path d="M301.0,537.7 L299.2,539.8 L298.6,542.5 L296.8,544.5 L299.1,547.0 L301.0,549.6"/>
<path d="M286.7,493.7 L289.3,492.7 L292.7,491.9 L295.2,490.3 L297.4,488.9 L300.4,489.1 L303.1,488.2 L305.3,486.9 L307.4,485.4 L309.7,483.5 L311.5,481.7 L313.8,480.2 L314.5,477.5 L315.3,474.6 L315.6,472.0 L315.5,469.2"/>
<path d="M305.3,486.9 L305.6,489.9 L306.3,492.7 L307.0,495.4 L310.1,497.0 L312.5,498.8 L315.5,500.5 L318.0,502.2 L319.8,504.4 L321.9,506.0 L323.9,508.1 L325.2,510.8 L326.8,513.2 L328.2,515.7 L329.0,518.2 L329.9,520.8 L333.1,521.1 L335.8,522.8 L338.3,523.3 L340.9,524.2"/>
<path d="M305.3,486.9 L304.6,489.8 L303.0,492.6 L301.9,495.4 L299.5,497.8 L296.8,500.5 L296.0,503.3 L295.8,506.2 L295.2,508.9 L293.6,511.4 L291.8,514.0 L289.5,515.8 L286.7,517.4"/>
<path d="M340.9,524.2 L342.6,521.6 L344.2,519.1 L346.7,517.4 L349.7,516.4 L352.7,515.7 L354.8,513.5 L356.1,510.6 L354.9,508.6 L353.6,506.3 L352.7,503.9 L351.2,501.7 L350.7,499.3 L349.3,497.1 L348.5,494.5 L347.7,491.9 L347.3,489.5 L345.9,486.9 L345.6,484.1 L344.6,481.5 L344.2,478.5 L340.9,476.8"/>
<path d="M340.9,476.8 L343.0,475.6 L345.3,474.5 L347.6,473.4 L350.5,472.5 L353.4,472.9 L356.1,471.7 L359.1,471.6 L361.6,469.8 L364.6,469.2"/>
<path d="M340.9,524.2 L338.1,524.6 L335.9,525.4 L333.2,526.2 L331.5,528.7 L329.9,530.9 L330.2,534.4 L330.7,537.7 L333.2,539.7 L335.8,541.1 L338.0,540.1 L340.5,539.2 L342.5,537.7 L345.1,538.4 L347.3,539.4 L349.3,541.1 L351.4,542.9 L353.6,545.3"/>
<path d="M329.9,530.9 L327.3,530.5 L325.0,529.5 L322.2,529.2 L320.0,527.6 L317.6,527.0 L315.5,525.9 L312.5,526.7 L309.8,526.9 L307.0,527.5 L305.8,525.2 L304.5,522.7 L302.7,520.4 L300.8,518.3 L300.0,515.7 L298.7,513.3 L296.9,511.0 L295.2,508.9"/>
<path d="M307.0,527.5 L305.9,529.9 L305.1,532.3 L303.6,534.3 L304.9,536.5 L306.1,538.5 L307.0,541.1 L304.3,543.4 L301.9,546.2 L302.7,548.5 L304.0,550.7 L305.3,552.9 L308.0,555.5 L310.4,558.0"/>
<path d="M310.4,558.0 L313.2,557.0 L316.1,556.4 L318.9,556.3 L321.8,556.5 L324.4,557.3 L327.3,558.0 L330.1,557.0 L333.1,557.3 L335.8,556.3 L339.2,557.5 L342.5,558.0"/>
<path d="M310.4,558.0 L309.2,560.2 L308.7,562.7 L307.0,564.8 L304.4,567.3 L301.9,569.9 L301.2,572.3 L300.2,574.9"/>
<path d="M356.1,510.6 L358.8,511.0 L361.6,511.9 L364.6,512.3 L366.9,514.4 L369.6,515.7 L371.5,518.3 L374.3,520.3 L376.4,522.5 L379.8,525.9"/>
<path d="M349.3,497.1 L351.9,498.5 L354.9,499.2 L357.8,500.5 L360.6,499.9 L363.3,499.3 L366.2,498.8 L368.6,496.9 L369.4,493.9 L371.3,492.0 L373.5,489.7 L374.7,486.9"/>
<path d="M374.7,486.9 L373.6,484.2 L374.1,481.1 L373.0,478.5 L372.1,475.5 L372.4,472.2 L371.3,469.2"/>
<path d="M374.7,486.9 L377.3,488.4 L379.3,490.3 L381.5,492.0 L383.8,492.8 L385.6,494.9 L388.2,495.4 L391.7,494.3 L395.0,493.7 L397.7,495.2 L400.1,497.1"/>
<path d="M400.1,497.1 L400.9,499.8 L401.9,502.6 L401.8,505.5 L400.4,508.1 L399.5,511.1 L398.4,514.0 L399.4,517.2 L400.1,520.8 L397.9,523.5 L395.0,525.9 L392.2,527.1 L389.9,529.2 L386.6,527.5"/>
<path d="M398.5,429.2 L399.3,432.2 L399.8,435.2 L400.2,438.5 L401.1,441.4 L400.3,444.1 L401.1,446.9 L401.1,449.8 L401.1,452.4 L401.0,454.9 L401.5,457.7 L401.9,460.5 L401.5,463.4 L400.4,466.0 L399.7,468.8 L399.8,471.7 L398.7,474.5 L398.5,477.4 L398.0,479.7 L397.5,482.3 L397.3,485.0 L398.0,487.7 L397.5,490.2 L396.8,492.6"/>
<path d="M401.1,446.9 L404.3,447.7 L407.2,448.0 L410.4,447.8 L410.8,450.3 L411.8,452.7 L412.2,455.4 L412.9,457.9 L415.5,459.4 L418.1,460.4 L420.5,461.6 L423.1,463.0"/>
<path d="M423.1,463.0 L425.7,462.3 L428.1,461.5 L430.7,460.5 L433.6,462.0 L436.1,462.9 L439.2,463.9 L442.0,463.0 L445.0,462.1 L447.6,460.5 L448.4,457.7 L450.2,455.4"/>
<path d="M450.2,455.4 L448.5,452.8 L446.2,450.9 L444.2,448.6 L444.2,445.7 L443.3,443.1 L442.5,440.2 L440.7,437.8 L439.2,435.1 L437.4,432.1 L435.8,429.2"/>
<path d="M450.2,455.4 L453.0,456.8 L456.1,457.1 L458.6,458.7 L461.2,460.5 L464.6,463.9"/>
<path d="M423.1,463.0 L423.7,466.0 L424.1,469.0 L423.9,472.3 L426.2,473.4 L428.4,474.8 L430.7,475.7 L429.4,477.9 L429.0,480.8 L426.1,482.2 L423.9,484.2 L423.1,487.6 L422.2,490.9"/>
<path d="M429.0,480.8 L432.0,479.9 L434.9,478.9 L437.5,477.4 L440.0,476.5 L442.3,475.5 L444.2,474.0 L446.9,472.1 L450.2,470.6 L451.5,473.5 L451.7,476.2 L452.7,479.1 L455.8,480.4 L459.5,480.8 L461.8,479.4 L463.9,478.5 L466.2,477.4 L469.0,475.9 L471.3,474.3"/>
<path d="M396.8,492.6 L399.9,492.7 L402.6,493.8 L405.3,494.3 L408.8,494.8 L412.1,496.0 L414.5,494.5 L416.9,493.2 L419.8,492.0 L422.2,490.9 L423.3,494.4 L423.9,497.7 L426.6,498.0 L429.6,498.1 L432.4,497.7 L435.3,496.3 L437.5,494.3"/>
<path d="M437.5,494.3 L436.2,497.5 L435.8,501.1 L434.5,503.3 L433.2,505.7 L432.4,507.9 L434.0,510.4 L435.8,512.9"/>
<path d="M396.8,492.6 L397.4,495.5 L398.1,498.3 L398.5,501.1 L398.8,504.7 L400.2,507.9 L401.5,510.3 L401.9,512.9 L404.7,513.3 L407.0,514.4 L409.4,515.9 L412.1,516.3 L414.8,516.8 L417.0,517.6 L419.5,518.2 L422.2,518.0 L424.9,519.1 L427.9,519.8 L430.7,519.7 L432.8,517.9 L433.9,515.1 L435.8,512.9"/>
<path d="M435.8,512.9 L434.6,515.7 L434.6,518.6 L434.1,521.4 L433.8,524.4 L432.5,526.8 L432.4,529.9 L432.5,532.6 L434.1,535.4 L434.1,538.3 L433.0,540.8 L432.8,543.2 L432.4,545.9"/>
<path d="M435.8,512.9 L439.3,513.3 L442.5,514.6 L444.7,515.9 L446.9,517.3 L449.3,518.0 L452.8,517.3 L456.1,516.3 L458.9,516.0 L461.2,514.6"/>
<path d="M461.2,514.6 L462.6,516.5 L463.8,518.9 L464.6,521.4 L466.9,524.0 L469.6,526.5 L468.4,528.7 L467.9,531.6"/>
<path d="M461.2,514.6 L460.7,511.2 L459.5,507.9 L460.4,505.4 L461.6,503.4 L462.9,501.1 L463.8,497.7 L464.6,494.3 L467.3,492.0 L469.6,489.2 L471.3,485.9"/>
<path d="M401.9,512.9 L399.7,515.4 L397.0,517.0 L395.2,519.7 L393.1,522.1 L392.0,524.8 L390.1,527.3"/>
<path d="M396.8,492.6 L395.0,491.0 L392.1,490.9 L390.1,489.2 L387.1,487.5 L384.2,485.9"/>
<path d="M535.0,583.0 L537.2,585.0 L540.0,586.6 L542.4,588.2 L545.0,590.0 L546.9,592.4 L548.9,594.8 L550.5,597.4 L552.0,600.0 L553.6,602.3 L555.6,604.2 L557.7,606.3 L560.0,608.0"/>
</g>
<g style="font-size:5px" fill="#2a0000" fill-opacity="0.85" text-anchor="middle">
<text x="315.1" y="206.5" transform="rotate(-20 315.1 204.8)">60</text>
<text x="352.7" y="245.8" transform="rotate(0 352.7 244.1)">60</text>
<text x="370.4" y="243.6" transform="rotate(25 370.4 241.9)">60</text>
<text x="395.8" y="249.5" transform="rotate(-35 395.8 247.8)">45</text>
<text x="385.8" y="279.1" transform="rotate(15 385.8 277.4)">30</text>
<text x="442.4" y="274.8" transform="rotate(40 442.4 273.1)">40</text>
<text x="453.4" y="299.5" transform="rotate(-10 453.4 297.8)">45</text>
<text x="467.2" y="329.8" transform="rotate(-20 467.2 328.1)">30</text>
<text x="372.8" y="314.2" transform="rotate(0 372.8 312.5)">40</text>
<text x="419.5" y="312.4" transform="rotate(25 419.5 310.7)">30</text>
<text x="364.6" y="377.6" transform="rotate(-35 364.6 375.9)">20</text>
<text x="395.7" y="377.6" transform="rotate(15 395.7 375.9)">40</text>
<text x="370.3" y="314.1" transform="rotate(40 370.3 312.4)">30</text>
<text x="430.9" y="458.0" transform="rotate(-10 430.9 456.3)">30</text>
<text x="322.3" y="459.4" transform="rotate(-20 322.3 457.7)">20</text>
<text x="285.6" y="438.3" transform="rotate(0 285.6 436.6)">20</text>
<text x="267.8" y="350.2" transform="rotate(25 267.8 348.5)">30</text>
<text x="262.2" y="361.5" transform="rotate(-35 262.2 359.8)">30</text>
<text x="279.1" y="350.2" transform="rotate(15 279.1 348.5)">30</text>
<text x="253.7" y="393.9" transform="rotate(40 253.7 392.2)">20</text>
<text x="238.2" y="401.0" transform="rotate(-10 238.2 399.3)">20</text>
<text x="269.3" y="417.9" transform="rotate(-20 269.3 416.2)">30</text>
<text x="281.9" y="415.1" transform="rotate(0 281.9 413.4)">30</text>
<text x="288.6" y="438.5" transform="rotate(25 288.6 436.8)">30</text>
<text x="292.8" y="458.2" transform="rotate(-35 292.8 456.5)">20</text>
<text x="281.6" y="470.9" transform="rotate(15 281.6 469.2)">30</text>
<text x="239.2" y="496.3" transform="rotate(40 239.2 494.6)">20</text>
<text x="280.1" y="551.3" transform="rotate(-10 280.1 549.6)">70</text>
<text x="418.7" y="436.7" transform="rotate(-20 418.7 435.0)">30</text>
<text x="431.8" y="455.9" transform="rotate(0 431.8 454.2)">30</text>
<text x="367.0" y="219.7" transform="rotate(25 367.0 218.0)">60</text>
<text x="478.0" y="281.7" transform="rotate(-35 478.0 280.0)">50</text>
</g>
</g>
<g fill="none" stroke="#0a0000" stroke-width="1.3" stroke-linejoin="round">
<path d="M325.7,184.4 L326.5,188.6 L328.2,191.1 L329.9,193.7 L332.5,197.1 L335.0,201.3 L338.4,201.3 L340.2,199.2 L342.6,197.9 L345.2,199.6 L346.9,203.9 L348.6,206.5 L349.4,209.8 L351.8,210.0 L354.5,210.6 L357.0,213.2 L359.6,217.4 L362.2,217.2 L364.6,217.4 L367.3,218.1 L369.7,219.1 L373.9,221.6 L374.2,224.7 L374.8,227.5 L375.8,229.9 L375.6,232.6 L377.1,234.5 L378.2,236.9 L380.7,236.8 L383.2,236.0 L385.8,235.3 L388.3,234.3 L388.6,231.5 L390.0,229.2 L392.6,225.9 L395.1,226.7 L394.5,229.6 L394.3,232.6 L394.6,235.1 L395.1,237.7 L397.4,239.9 L400.0,241.9 L402.0,243.2 L404.5,245.5 L407.1,247.4 L409.0,249.4 L411.3,250.8 L413.3,253.2 L414.7,255.9 L418.9,254.2 L421.8,252.9 L424.9,252.5 L427.0,254.7 L429.1,256.7 L431.8,255.8 L434.2,254.2 L436.7,254.1 L439.2,253.8 L441.9,254.3 L444.3,254.2 L445.7,256.5 L447.7,258.4 L449.4,261.1 L451.1,263.5 L453.3,265.1 L455.3,266.9 L459.6,266.0 L462.4,267.2 L464.6,269.4 L467.8,268.3 L471.4,267.7 L475.6,267.7 L478.7,269.0 L481.6,271.1 L484.8,271.9 L488.3,271.9 L491.5,272.9 L494.3,274.0 L497.6,274.5 L496.6,277.2 L495.1,279.6 L493.6,282.6 L491.7,285.5 L490.8,287.9 L489.5,290.0 L488.3,292.2 L487.9,294.9 L487.0,297.3 L486.6,299.9 L484.9,303.4 L483.8,306.8 L482.4,310.1 L481.2,313.5 L482.1,316.8 L482.9,320.3 L481.8,323.5 L481.2,327.1 L482.0,329.8 L482.6,332.5 L482.9,335.5 L482.9,338.0 L482.1,340.6 L479.8,342.4 L477.9,344.9 L475.4,345.9 L472.8,346.5 L469.4,343.2 L465.2,345.7 L463.5,349.1 L466.9,351.6 L466.0,354.1 L464.3,355.9 L462.6,357.9 L460.9,360.1 L459.1,362.8 L456.7,365.2 L453.8,366.9 L451.6,369.4 L450.0,371.6 L449.1,374.5 L448.2,378.7 L445.9,380.8 L444.0,382.9 L442.4,385.3 L441.5,388.0 L440.6,392.2 L438.1,396.5 L440.6,400.7 L439.5,403.3 L438.1,405.8 L440.7,405.7 L443.2,404.9 L443.8,402.4 L444.9,399.9 L448.2,399.1 L450.8,397.3 L454.3,396.7 L457.6,395.6 L461.8,396.5 L462.6,399.7 L463.5,403.2 L464.3,406.1 L464.3,409.2 L466.9,410.5 L468.5,413.1 L470.2,415.5 L467.7,419.8 L463.5,421.5 L461.8,424.9 L465.2,428.2 L469.4,429.1 L470.4,432.0 L471.9,434.2 L474.1,437.0 L476.2,440.1 L475.5,442.8 L474.5,445.2 L472.8,449.4 L470.1,450.8 L467.7,452.8 L465.2,453.8 L462.6,455.3 L463.9,457.6 L465.2,459.6 L466.2,462.1 L467.7,464.6 L470.0,466.6 L472.8,468.0 L473.2,471.1 L474.5,473.9 L472.5,475.7 L471.1,478.2 L470.9,481.3 L470.2,484.1 L472.0,487.3 L474.5,490.0 L476.5,492.0 L478.8,493.3 L481.2,495.1 L484.0,496.4 L486.7,497.2 L489.7,497.5 L493.1,496.7 L496.5,495.4 L498.2,499.6 L497.0,503.1 L495.6,506.4 L494.5,508.9 L493.1,511.5 L490.2,513.7 L488.0,516.5 L485.5,518.6 L482.9,520.8 L480.5,522.6 L478.7,525.0 L476.0,526.7 L473.6,528.4 L471.6,530.4 L469.4,531.8 L468.4,534.6 L466.9,536.9 L464.3,541.1 L461.7,542.8 L459.2,544.5 L456.8,545.6 L454.2,547.0 L451.6,547.7 L449.1,548.7 L446.6,548.0 L444.0,547.9 L439.8,550.4 L436.4,547.9 L434.6,546.0 L432.2,544.5 L429.7,544.4 L427.1,544.5 L424.6,543.5 L422.0,542.8 L420.3,538.6 L418.3,537.0 L416.1,535.2 L413.2,535.6 L410.2,536.9 L407.8,537.5 L405.1,538.1 L401.5,537.6 L398.3,536.4 L395.4,534.9 L393.2,533.0 L389.9,532.9 L386.5,533.0 L384.0,533.0 L381.4,532.2 L378.0,529.6 L375.7,530.9 L372.9,531.3 L370.7,533.2 L367.9,534.7 L365.8,536.5 L363.5,538.4 L361.1,539.8 L358.2,542.0 L355.2,544.0 L352.4,545.9 L350.1,548.2 L348.3,550.7 L346.7,553.3 L345.7,556.1 L345.0,559.2 L344.4,562.1 L345.0,564.8 L344.5,567.7 L344.2,571.0 L344.5,574.5 L346.2,576.7 L347.5,578.7 L345.9,581.2 L343.2,580.8 L340.8,579.6 L336.5,581.2 L332.3,582.9 L328.9,585.5 L326.5,584.9 L323.9,584.6 L320.7,583.3 L317.9,581.2 L315.3,582.9 L312.0,583.8 L309.4,583.2 L306.9,582.9 L303.5,579.6 L299.3,577.0 L298.5,572.8 L296.0,572.8 L293.4,571.9 L290.0,572.8 L287.4,571.0 L284.9,568.6 L282.2,568.4 L279.9,567.7 L276.7,566.6 L273.9,565.2 L271.4,563.8 L269.7,561.8 L267.3,562.3 L264.6,562.6 L263.7,565.1 L262.9,567.7 L259.9,568.0 L257.0,567.7 L254.0,567.8 L251.1,568.6 L247.8,567.7 L244.3,566.9 L241.3,567.0 L238.4,567.7 L236.5,564.9 L234.2,562.6 L231.9,561.5 L229.1,560.9 L226.1,561.9 L223.2,563.5 L220.9,560.9 L218.9,558.4 L215.6,557.1 L213.0,555.0 L209.9,554.7 L207.1,554.2 L204.9,551.8 L202.0,549.9 L199.3,549.7 L196.9,549.1 L192.7,548.2 L193.4,545.7 L194.4,543.2 L192.3,541.4 L190.2,538.9 L185.9,538.1 L181.7,536.4 L185.1,533.0 L188.5,529.6 L190.1,526.8 L191.8,523.7 L192.9,520.1 L194.4,516.9 L195.1,514.1 L195.8,511.1 L196.9,508.5 L197.1,505.6 L197.4,502.7 L198.6,500.0 L199.0,497.3 L200.1,494.7 L200.7,491.9 L201.4,489.4 L201.6,486.5 L201.9,483.8 L202.6,480.9 L202.5,478.0 L203.0,476.0 L206.5,473.0 L209.0,476.5 L206.5,475.7 L204.0,475.5 L204.2,472.8 L204.5,470.1 L204.4,467.2 L204.2,464.5 L203.9,461.8 L204.6,459.4 L205.3,456.9 L205.5,454.3 L205.5,451.9 L206.1,449.3 L206.1,446.8 L206.2,444.2 L207.9,440.0 L210.5,435.8 L212.1,432.9 L207.9,430.8 L205.0,429.1 L205.4,425.7 L207.1,424.8 L208.3,422.3 L210.0,419.8 L211.3,416.4 L210.9,413.0 L208.8,409.6 L206.2,407.1 L208.3,405.4 L210.0,402.8 L209.6,401.6 L207.1,402.8 L205.4,401.2 L200.7,399.9 L198.6,396.9 L194.4,395.2 L191.6,393.2 L189.3,391.0 L188.6,388.4 L187.6,385.9 L185.9,382.6 L183.4,380.0 L182.2,376.5 L181.0,374.0 L179.7,371.4 L180.7,368.8 L181.4,366.3 L179.0,364.0 L177.2,361.2 L178.0,357.0 L174.6,355.8 L171.2,354.5 L168.7,351.1 L171.2,346.9 L167.9,343.5 L165.1,343.1 L162.8,341.8 L160.4,340.3 L157.7,339.2 L155.1,338.4 L152.6,337.6 L149.9,335.7 L147.5,333.3 L145.3,331.5 L142.5,330.8 L139.1,328.2 L136.2,327.5 L133.2,326.5 L130.6,325.7 L128.1,324.9 L125.5,324.0 L123.0,324.0 L119.6,324.9 L115.4,326.5 L112.9,322.3 L110.3,318.1 L108.0,316.8 L106.1,314.7 L102.7,313.9 L105.6,312.7 L108.6,312.2 L112.1,312.1 L115.4,311.3 L117.1,308.8 L114.7,307.4 L112.0,307.1 L107.8,305.4 L109.5,302.9 L112.5,302.8 L115.4,303.7 L117.9,304.3 L120.5,305.4 L118.3,302.8 L116.2,300.3 L113.4,299.9 L110.3,300.3 L107.4,300.0 L104.4,300.3 L102.7,296.1 L103.3,293.5 L104.4,291.0 L107.5,290.6 L110.3,289.3 L113.6,288.2 L117.1,287.6 L120.5,286.3 L123.9,285.9 L128.1,285.1 L130.6,287.6 L134.9,286.8 L139.1,287.6 L141.6,283.4 L144.5,283.3 L147.5,282.5 L150.4,282.1 L153.5,281.7 L157.7,282.5 L158.2,285.3 L159.4,287.6 L161.1,289.9 L162.8,291.8 L164.5,293.8 L166.2,296.1 L168.8,295.5 L171.2,294.4 L173.8,293.1 L176.3,291.8 L180.6,291.8 L184.8,294.4 L188.2,296.1 L189.5,293.5 L190.2,290.6 L192.7,294.8 L195.6,294.7 L198.6,294.8 L202.9,293.1 L202.4,289.6 L201.2,286.3 L201.0,282.9 L201.2,279.6 L199.9,276.2 L199.5,272.8 L199.0,269.2 L197.8,266.0 L197.5,262.5 L196.1,259.2 L195.2,255.8 L195.2,252.5 L194.1,249.5 L193.5,246.5 L192.2,243.7 L196.9,244.9 L199.5,245.6 L202.0,246.5 L204.6,245.9 L207.1,244.9 L209.6,245.3 L212.2,245.7 L213.0,248.3 L213.0,250.8 L214.2,253.7 L214.7,256.7 L215.1,259.3 L216.4,261.8 L220.6,260.9 L223.2,261.5 L225.7,262.6 L229.1,263.6 L232.5,263.5 L235.8,263.5 L239.2,264.3 L242.1,265.2 L245.2,265.2 L247.5,264.0 L250.2,263.5 L252.6,262.6 L254.5,260.9 L256.2,258.4 L254.2,256.4 L252.8,254.2 L253.7,251.8 L254.5,249.1 L257.2,247.3 L259.6,244.9 L261.8,243.3 L264.1,242.4 L266.3,240.6 L268.8,239.8 L271.3,238.8 L273.9,238.1 L276.3,237.2 L279.0,237.0 L281.6,236.4 L283.7,235.3 L286.2,234.1 L288.3,233.0 L291.1,231.5 L293.4,229.6 L295.1,227.2 L296.9,225.0 L296.1,220.8 L296.6,218.2 L297.8,215.7 L298.3,212.2 L298.6,208.9 L298.5,205.4 L297.8,202.2 L296.8,198.8 L296.9,195.4 L299.5,192.0 L302.4,191.0 L305.4,189.5 L308.3,188.8 L311.1,188.3 L313.9,186.9 L317.1,185.7 L320.6,184.9 L323.3,184.4Z"/><path d="M556.3,545.2 L558.9,544.0 L560.8,545.2 L561.9,548.2 L562.1,551.6 L561.8,554.1 L561.5,556.7 L562.1,559.2 L563.4,561.7 L564.6,564.3 L565.4,566.7 L565.6,569.3 L565.9,571.9 L566.3,574.8 L566.6,578.0 L566.5,580.8 L566.7,584.0 L565.9,587.1 L564.7,590.3 L564.0,593.5 L564.2,596.2 L564.2,598.4 L564.6,601.1 L563.5,604.1 L563.3,607.5 L561.7,609.9 L560.8,612.5 L559.4,615.5 L558.9,618.9 L555.7,618.9 L553.2,616.3 L548.7,615.1 L544.3,613.8 L543.7,609.4 L541.9,607.0 L539.8,604.9 L541.1,600.5 L538.4,599.0 L536.0,596.7 L537.8,594.7 L538.6,592.2 L536.0,590.2 L534.1,587.8 L534.8,583.3 L532.2,579.5 L532.2,575.7 L535.4,573.2 L535.9,570.5 L536.7,567.5 L538.7,565.5 L540.5,563.7 L542.8,562.4 L545.6,561.7 L549.4,558.6 L553.8,558.6 L557.0,559.8 L557.6,555.4 L556.7,552.9 L556.3,550.3 L556.8,547.7Z"/>
<path d="M196.1,403.7 L199.0,403.6 L202.5,405.6 L205.4,407.5 L204.5,408.2 L200.5,406.6 L197.0,405.2Z" stroke-width="1.3"/>
<path d="M200.3,413.0 L202.0,413.5 L204.5,417.0 L207.0,421.5 L206.6,422.5 L203.5,419.5 L201.0,416.0Z" stroke-width="1.3"/>
<path d="M145.9,349.0 L148.0,347.7 L151.8,350.5 L150.5,352.8 L147.5,351.8Z" stroke-width="1.3"/>
<path d="M174.6,366.5 L176.4,366.3 L177.2,369.0 L175.8,369.7Z" stroke-width="1.3"/>
<path d="M171.2,380.2 L173.0,379.9 L173.8,381.8 L172.0,382.4Z" stroke-width="1.3"/>
<path d="M92.5,293.8 L94.2,293.5 L95.0,294.8 L93.0,295.2Z" stroke-width="1.3"/>
<path d="M138.0,334.6 L140.2,334.4 L140.4,335.6 L138.4,335.8Z" stroke-width="1.3"/>
<path d="M450.0,551.8 L452.0,551.4 L452.2,552.6 L450.2,552.9Z" stroke-width="1.3"/>
<path d="M456.5,551.4 L459.5,550.8 L459.8,552.0 L457.0,552.4Z" stroke-width="1.3"/>
</g>
<g class="lg">
<rect x="612" y="263.40" width="15" height="19.33" fill="#0a3ee8"/>
<rect x="612" y="282.63" width="15" height="19.33" fill="#1560fa"/>
<rect x="612" y="301.86" width="15" height="19.33" fill="#2878fa"/>
<rect x="612" y="321.09" width="15" height="19.33" fill="#4090fc"/>
<rect x="612" y="340.33" width="15" height="19.33" fill="#5aa8fc"/>
<rect x="612" y="359.56" width="15" height="19.33" fill="#78bcfc"/>
<rect x="612" y="378.79" width="15" height="19.33" fill="#8cc8fa"/>
<rect x="612" y="398.02" width="15" height="19.33" fill="#a0d4fa"/>
<rect x="612" y="417.25" width="15" height="19.33" fill="#b8e0fc"/>
<rect x="612" y="436.48" width="15" height="19.33" fill="#d8ecfc"/>
<rect x="612" y="455.72" width="15" height="19.33" fill="#e4eef8"/>
<rect x="612" y="474.95" width="15" height="19.33" fill="#efefef"/>
<rect x="612" y="494.18" width="15" height="19.33" fill="#fce4e4"/>
<rect x="612" y="513.41" width="15" height="19.33" fill="#f9c4c8"/>
<rect x="612" y="532.64" width="15" height="19.33" fill="#f7a0a6"/>
<rect x="612" y="551.87" width="15" height="19.33" fill="#f27880"/>
<rect x="612" y="571.11" width="15" height="19.33" fill="#ec5c64"/>
<rect x="612" y="590.34" width="15" height="19.33" fill="#dc3a3c"/>
<rect x="612" y="609.57" width="15" height="19.33" fill="#cc1a14"/>
<rect x="614" y="380.79" width="11" height="15.23" fill="url(#dots)"/>
<rect x="614" y="400.02" width="11" height="15.23" fill="url(#dots)"/>
<rect x="614" y="457.72" width="11" height="15.23" fill="url(#dots2)"/>
<rect x="614" y="476.95" width="11" height="15.23" fill="url(#dots2)"/>
<line x1="612" x2="627" y1="282.63" y2="282.63" stroke="#000" stroke-opacity="0.55" stroke-width="0.6"/>
<line x1="612" x2="627" y1="301.86" y2="301.86" stroke="#000" stroke-opacity="0.55" stroke-width="0.6"/>
<line x1="612" x2="627" y1="321.09" y2="321.09" stroke="#000" stroke-opacity="0.55" stroke-width="0.6"/>
<line x1="612" x2="627" y1="340.33" y2="340.33" stroke="#000" stroke-opacity="0.55" stroke-width="0.6"/>
<line x1="612" x2="627" y1="359.56" y2="359.56" stroke="#000" stroke-opacity="0.55" stroke-width="0.6"/>
<line x1="612" x2="627" y1="378.79" y2="378.79" stroke="#000" stroke-opacity="0.55" stroke-width="0.6"/>
<line x1="612" x2="627" y1="398.02" y2="398.02" stroke="#000" stroke-opacity="0.55" stroke-width="0.6"/>
<line x1="612" x2="627" y1="417.25" y2="417.25" stroke="#000" stroke-opacity="0.55" stroke-width="0.6"/>
<line x1="612" x2="627" y1="436.48" y2="436.48" stroke="#000" stroke-opacity="0.55" stroke-width="0.6"/>
<line x1="612" x2="627" y1="455.72" y2="455.72" stroke="#000" stroke-opacity="0.55" stroke-width="0.6"/>
<line x1="612" x2="627" y1="474.95" y2="474.95" stroke="#000" stroke-opacity="0.55" stroke-width="0.6"/>
<line x1="612" x2="627" y1="494.18" y2="494.18" stroke="#000" stroke-opacity="0.55" stroke-width="0.6"/>
<line x1="612" x2="627" y1="513.41" y2="513.41" stroke="#000" stroke-opacity="0.55" stroke-width="0.6"/>
<line x1="612" x2="627" y1="532.64" y2="532.64" stroke="#000" stroke-opacity="0.55" stroke-width="0.6"/>
<line x1="612" x2="627" y1="551.87" y2="551.87" stroke="#000" stroke-opacity="0.55" stroke-width="0.6"/>
<line x1="612" x2="627" y1="571.11" y2="571.11" stroke="#000" stroke-opacity="0.55" stroke-width="0.6"/>
<line x1="612" x2="627" y1="590.34" y2="590.34" stroke="#000" stroke-opacity="0.55" stroke-width="0.6"/>
<line x1="612" x2="627" y1="609.57" y2="609.57" stroke="#000" stroke-opacity="0.55" stroke-width="0.6"/>
<path d="M611.9,263.4 L619.45,255.3 L627,263.4 Z" fill="#0a28b4" stroke="#000" stroke-width="1.7" stroke-linejoin="miter"/>
<path d="M611.9,628.8 L619.45,636.9 L627,628.8 Z" fill="#be1008" stroke="#000" stroke-width="1.7" stroke-linejoin="miter"/>
<path d="M611.95,263.4 V628.8 M627,263.4 V628.8" stroke="#000" stroke-width="1.7" fill="none"/>
<line x1="627.5" x2="634.7" y1="263.40" y2="263.40" stroke="#000" stroke-width="0.9"/>
<text x="652.3" y="266.00" text-anchor="end">500</text>
<line x1="627.5" x2="634.7" y1="282.63" y2="282.63" stroke="#000" stroke-width="0.9"/>
<text x="652.3" y="285.23" text-anchor="end">400</text>
<line x1="627.5" x2="634.7" y1="301.86" y2="301.86" stroke="#000" stroke-width="0.9"/>
<text x="652.3" y="304.46" text-anchor="end">300</text>
<line x1="627.5" x2="634.7" y1="321.09" y2="321.09" stroke="#000" stroke-width="0.9"/>
<text x="652.3" y="323.69" text-anchor="end">250</text>
<line x1="627.5" x2="634.7" y1="340.33" y2="340.33" stroke="#000" stroke-width="0.9"/>
<text x="652.3" y="342.93" text-anchor="end">200</text>
<line x1="627.5" x2="634.7" y1="359.56" y2="359.56" stroke="#000" stroke-width="0.9"/>
<text x="652.3" y="362.16" text-anchor="end">180</text>
<line x1="627.5" x2="634.7" y1="378.79" y2="378.79" stroke="#000" stroke-width="0.9"/>
<text x="652.3" y="381.39" text-anchor="end">160</text>
<line x1="627.5" x2="634.7" y1="398.02" y2="398.02" stroke="#000" stroke-width="0.9"/>
<text x="652.3" y="400.62" text-anchor="end">140</text>
<line x1="627.5" x2="634.7" y1="417.25" y2="417.25" stroke="#000" stroke-width="0.9"/>
<text x="652.3" y="419.85" text-anchor="end">130</text>
<line x1="627.5" x2="634.7" y1="436.48" y2="436.48" stroke="#000" stroke-width="0.9"/>
<text x="652.3" y="439.08" text-anchor="end">120</text>
<line x1="627.5" x2="634.7" y1="455.72" y2="455.72" stroke="#000" stroke-width="0.9"/>
<text x="652.3" y="458.32" text-anchor="end">110</text>
<line x1="627.5" x2="634.7" y1="474.95" y2="474.95" stroke="#000" stroke-width="0.9"/>
<text x="652.3" y="477.55" text-anchor="end">100</text>
<line x1="627.5" x2="634.7" y1="494.18" y2="494.18" stroke="#000" stroke-width="0.9"/>
<text x="652.3" y="496.78" text-anchor="end">90</text>
<line x1="627.5" x2="634.7" y1="513.41" y2="513.41" stroke="#000" stroke-width="0.9"/>
<text x="652.3" y="516.01" text-anchor="end">80</text>
<line x1="627.5" x2="634.7" y1="532.64" y2="532.64" stroke="#000" stroke-width="0.9"/>
<text x="652.3" y="535.24" text-anchor="end">70</text>
<line x1="627.5" x2="634.7" y1="551.87" y2="551.87" stroke="#000" stroke-width="0.9"/>
<text x="652.3" y="554.47" text-anchor="end">60</text>
<line x1="627.5" x2="634.7" y1="571.11" y2="571.11" stroke="#000" stroke-width="0.9"/>
<text x="652.3" y="573.71" text-anchor="end">50</text>
<line x1="627.5" x2="634.7" y1="590.34" y2="590.34" stroke="#000" stroke-width="0.9"/>
<text x="652.3" y="592.94" text-anchor="end">40</text>
<line x1="627.5" x2="634.7" y1="609.57" y2="609.57" stroke="#000" stroke-width="0.9"/>
<text x="652.3" y="612.17" text-anchor="end">30</text>
<line x1="627.5" x2="634.7" y1="628.80" y2="628.80" stroke="#000" stroke-width="0.9"/>
<text x="652.3" y="631.40" text-anchor="end">20</text>
<text x="620" y="248.2" text-anchor="middle" style="font-size:6px">%</text>
</g>
</svg>

<div id="logo"><div class="ic"><i></i></div><div class="tx" id="lt1" style="top:20.3px;letter-spacing:0.12px">METEO</div><div class="tx" id="lt2" style="top:27.1px;letter-spacing:-0.42px">FRANCE</div></div>
<div id="foot">Edité le : 01/10/2018 - Données du : 01/10/2018 à 09:44 UTC</div>
</body></html>
